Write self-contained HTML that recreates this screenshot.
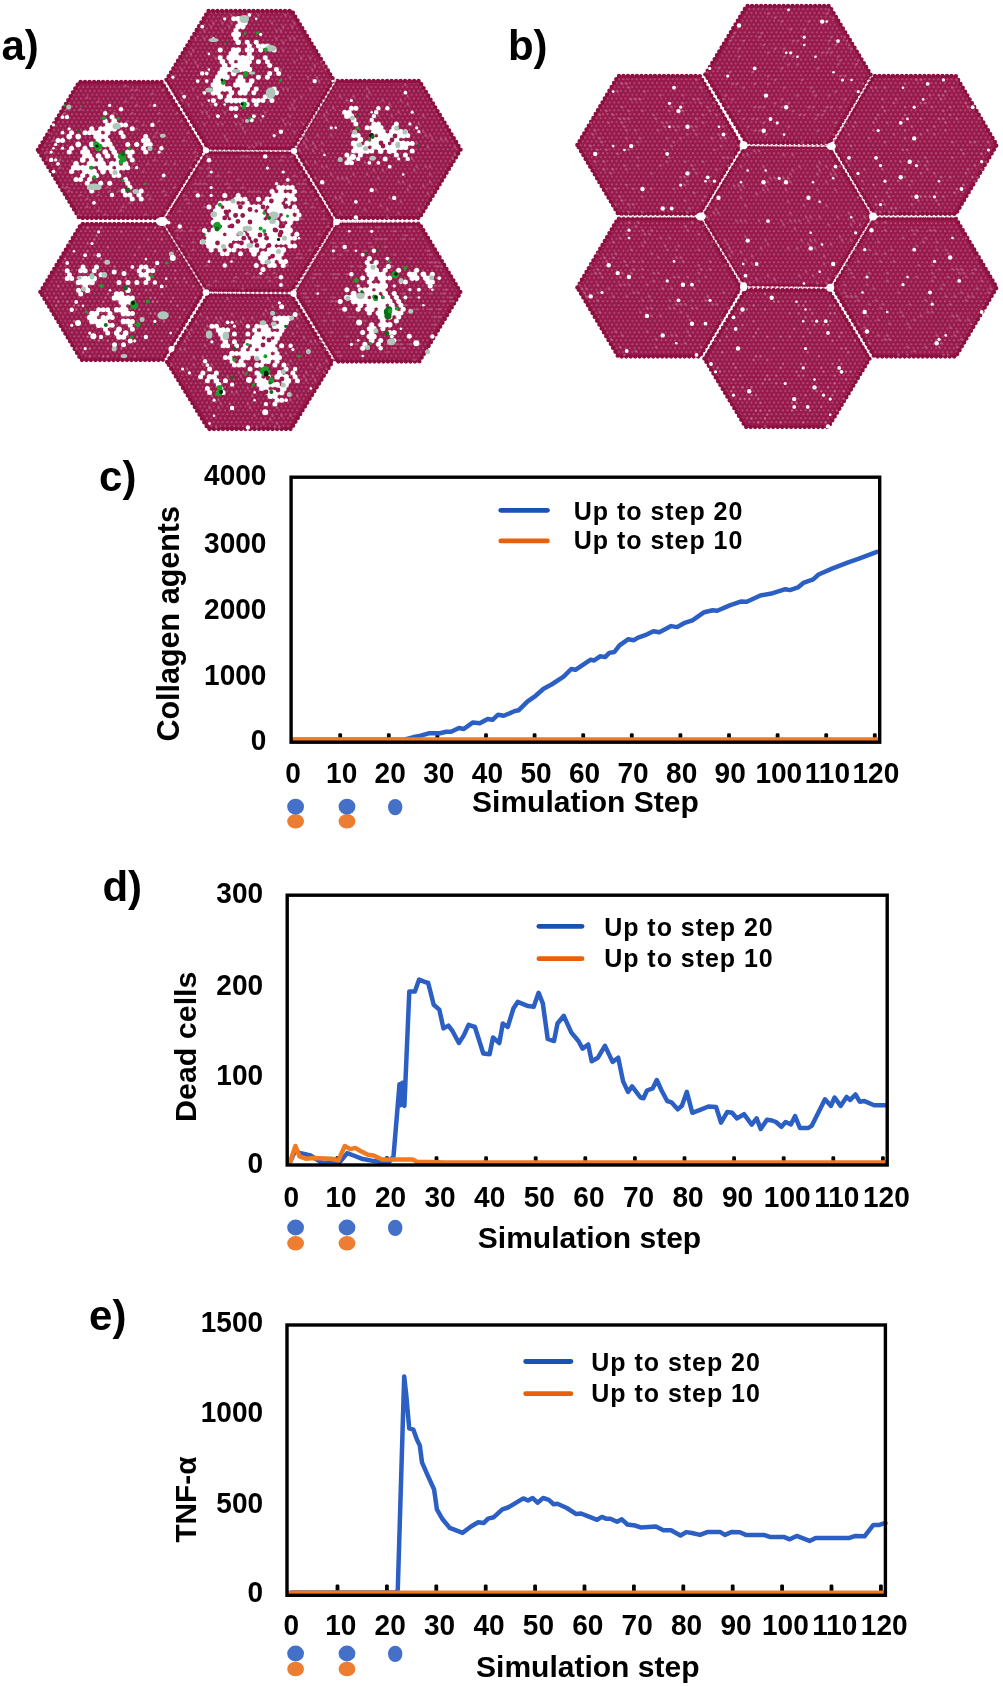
<!DOCTYPE html>
<html><head><meta charset="utf-8"><title>Figure</title>
<style>html,body{margin:0;padding:0;background:#fff;}svg{display:block;}svg{will-change:transform;}</style>
</head><body>
<svg width="1003" height="1686" viewBox="0 0 1003 1686">
<defs><pattern id="lat" width="4.5" height="7.794" patternUnits="userSpaceOnUse"><circle cx="2.25" cy="1.3" r="1" fill="#fff" fill-opacity="0.27"/><circle cx="0" cy="5.196" r="1" fill="#fff" fill-opacity="0.27"/><circle cx="4.5" cy="5.196" r="1" fill="#fff" fill-opacity="0.27"/></pattern></defs>
<rect width="100%" height="100%" fill="#fff"/>
<polygon points="164.1,221.7 206.6,152.5 291.4,152.5 333.9,221.7 291.4,290.9 206.6,290.9" fill="#98194c" stroke="#98194c" stroke-width="1.4" stroke-linejoin="round"/>
<polygon points="166.3,80 208.2,11 291.9,11 333.7,80 291.9,149 208.2,149" fill="#98194c" stroke="#98194c" stroke-width="1.4" stroke-linejoin="round"/>
<polygon points="167,362 208.3,295 291.1,295 332.4,362 291.1,429 208.3,429" fill="#98194c" stroke="#98194c" stroke-width="1.4" stroke-linejoin="round"/>
<polygon points="37.8,150 79.2,82 161.8,82 203.2,150 161.8,218 79.2,218" fill="#98194c" stroke="#98194c" stroke-width="1.4" stroke-linejoin="round"/>
<polygon points="40.3,292 81.2,224 162.8,224 203.7,292 162.8,360 81.2,360" fill="#98194c" stroke="#98194c" stroke-width="1.4" stroke-linejoin="round"/>
<polygon points="295.3,149.5 336.6,81 419.4,81 460.7,149.5 419.4,218 336.6,218" fill="#98194c" stroke="#98194c" stroke-width="1.4" stroke-linejoin="round"/>
<polygon points="295.3,292.5 336.6,223.5 419.4,223.5 460.7,292.5 419.4,361.5 336.6,361.5" fill="#98194c" stroke="#98194c" stroke-width="1.4" stroke-linejoin="round"/>
<polygon points="163.8,221.7 206.4,152.3 291.6,152.3 334.2,221.7 291.6,291.1 206.4,291.1" fill="url(#lat)"/>
<polygon points="166,80 208,10.8 292,10.8 334,80 292,149.2 208,149.2" fill="url(#lat)"/>
<polygon points="166.7,362 208.2,294.8 291.2,294.8 332.7,362 291.2,429.2 208.2,429.2" fill="url(#lat)"/>
<polygon points="37.5,150 79,81.8 162,81.8 203.5,150 162,218.2 79,218.2" fill="url(#lat)"/>
<polygon points="40,292 81,223.8 163,223.8 204,292 163,360.2 81,360.2" fill="url(#lat)"/>
<polygon points="295,149.5 336.5,80.8 419.5,80.8 461,149.5 419.5,218.2 336.5,218.2" fill="url(#lat)"/>
<polygon points="295,292.5 336.5,223.3 419.5,223.3 461,292.5 419.5,361.7 336.5,361.7" fill="url(#lat)"/>
<polygon points="164.1,221.7 206.6,152.5 291.4,152.5 333.9,221.7 291.4,290.9 206.6,290.9" fill="none" stroke="#8c0f40" stroke-width="4.3" stroke-dasharray="0 4.5" stroke-linecap="round"/>
<polygon points="166.3,80 208.2,11 291.9,11 333.7,80 291.9,149 208.2,149" fill="none" stroke="#8c0f40" stroke-width="4.3" stroke-dasharray="0 4.5" stroke-linecap="round"/>
<polygon points="167,362 208.3,295 291.1,295 332.4,362 291.1,429 208.3,429" fill="none" stroke="#8c0f40" stroke-width="4.3" stroke-dasharray="0 4.5" stroke-linecap="round"/>
<polygon points="37.8,150 79.2,82 161.8,82 203.2,150 161.8,218 79.2,218" fill="none" stroke="#8c0f40" stroke-width="4.3" stroke-dasharray="0 4.5" stroke-linecap="round"/>
<polygon points="40.3,292 81.2,224 162.8,224 203.7,292 162.8,360 81.2,360" fill="none" stroke="#8c0f40" stroke-width="4.3" stroke-dasharray="0 4.5" stroke-linecap="round"/>
<polygon points="295.3,149.5 336.6,81 419.4,81 460.7,149.5 419.4,218 336.6,218" fill="none" stroke="#8c0f40" stroke-width="4.3" stroke-dasharray="0 4.5" stroke-linecap="round"/>
<polygon points="295.3,292.5 336.6,223.5 419.4,223.5 460.7,292.5 419.4,361.5 336.6,361.5" fill="none" stroke="#8c0f40" stroke-width="4.3" stroke-dasharray="0 4.5" stroke-linecap="round"/>
<g fill="#fff" fill-opacity="0.22">
<circle cx="206.8" cy="156.4" r="1.3"/><circle cx="242.8" cy="156.4" r="1.3"/><circle cx="247.2" cy="156.4" r="1.3"/><circle cx="283.2" cy="156.4" r="1.3"/><circle cx="292.2" cy="156.4" r="1.3"/><circle cx="281" cy="160.3" r="1.3"/><circle cx="200" cy="168.1" r="1.3"/><circle cx="209" cy="168.1" r="1.3"/><circle cx="229.2" cy="172" r="1.3"/><circle cx="301.2" cy="172" r="1.3"/><circle cx="209" cy="175.9" r="1.3"/><circle cx="218" cy="175.9" r="1.3"/><circle cx="294.5" cy="175.9" r="1.3"/><circle cx="238.2" cy="179.8" r="1.3"/><circle cx="305.8" cy="179.8" r="1.3"/><circle cx="195.5" cy="183.7" r="1.3"/><circle cx="200" cy="183.7" r="1.3"/><circle cx="204.5" cy="183.7" r="1.3"/><circle cx="227" cy="183.7" r="1.3"/><circle cx="285.5" cy="183.7" r="1.3"/><circle cx="299" cy="183.7" r="1.3"/><circle cx="303.5" cy="183.7" r="1.3"/><circle cx="229.2" cy="187.6" r="1.3"/><circle cx="242.8" cy="187.6" r="1.3"/><circle cx="195.5" cy="191.5" r="1.3"/><circle cx="249.5" cy="191.5" r="1.3"/><circle cx="254" cy="191.5" r="1.3"/><circle cx="258.5" cy="191.5" r="1.3"/><circle cx="303.5" cy="191.5" r="1.3"/><circle cx="312.5" cy="191.5" r="1.3"/><circle cx="184.2" cy="195.4" r="1.3"/><circle cx="202.2" cy="195.4" r="1.3"/><circle cx="186.5" cy="199.3" r="1.3"/><circle cx="317" cy="199.3" r="1.3"/><circle cx="188.8" cy="203.2" r="1.3"/><circle cx="305.8" cy="203.2" r="1.3"/><circle cx="204.5" cy="207.1" r="1.3"/><circle cx="312.5" cy="207.1" r="1.3"/><circle cx="179.8" cy="211" r="1.3"/><circle cx="323.8" cy="211" r="1.3"/><circle cx="168.5" cy="214.9" r="1.3"/><circle cx="301.2" cy="218.7" r="1.3"/><circle cx="323.8" cy="218.7" r="1.3"/><circle cx="328.2" cy="226.5" r="1.3"/><circle cx="177.5" cy="230.4" r="1.3"/><circle cx="182" cy="230.4" r="1.3"/><circle cx="191" cy="230.4" r="1.3"/><circle cx="200" cy="230.4" r="1.3"/><circle cx="319.2" cy="234.3" r="1.3"/><circle cx="177.5" cy="238.2" r="1.3"/><circle cx="193.2" cy="242.1" r="1.3"/><circle cx="182" cy="246" r="1.3"/><circle cx="317" cy="246" r="1.3"/><circle cx="193.2" cy="249.9" r="1.3"/><circle cx="310.2" cy="249.9" r="1.3"/><circle cx="299" cy="253.8" r="1.3"/><circle cx="188.8" cy="257.7" r="1.3"/><circle cx="233.8" cy="257.7" r="1.3"/><circle cx="296.8" cy="257.7" r="1.3"/><circle cx="301.2" cy="257.7" r="1.3"/><circle cx="206.8" cy="265.5" r="1.3"/><circle cx="287.8" cy="265.5" r="1.3"/><circle cx="247.2" cy="273.3" r="1.3"/><circle cx="274.2" cy="273.3" r="1.3"/><circle cx="236" cy="277.2" r="1.3"/><circle cx="254" cy="277.2" r="1.3"/><circle cx="258.5" cy="277.2" r="1.3"/><circle cx="267.5" cy="277.2" r="1.3"/><circle cx="276.5" cy="277.2" r="1.3"/><circle cx="215.8" cy="281.1" r="1.3"/><circle cx="233.8" cy="281.1" r="1.3"/><circle cx="269.8" cy="281.1" r="1.3"/><circle cx="296.8" cy="281.1" r="1.3"/><circle cx="209" cy="285" r="1.3"/><circle cx="242.8" cy="288.9" r="1.3"/><circle cx="231.4" cy="14.9" r="1.3"/><circle cx="258.4" cy="14.9" r="1.3"/><circle cx="285.4" cy="14.9" r="1.3"/><circle cx="213.4" cy="22.7" r="1.3"/><circle cx="222.4" cy="22.7" r="1.3"/><circle cx="231.4" cy="22.7" r="1.3"/><circle cx="271.9" cy="22.7" r="1.3"/><circle cx="294.4" cy="22.7" r="1.3"/><circle cx="211.2" cy="26.6" r="1.3"/><circle cx="229.2" cy="26.6" r="1.3"/><circle cx="283.2" cy="26.6" r="1.3"/><circle cx="292.2" cy="26.6" r="1.3"/><circle cx="204.4" cy="30.5" r="1.3"/><circle cx="222.4" cy="30.5" r="1.3"/><circle cx="276.4" cy="30.5" r="1.3"/><circle cx="280.9" cy="30.5" r="1.3"/><circle cx="195.4" cy="38.3" r="1.3"/><circle cx="204.4" cy="38.3" r="1.3"/><circle cx="276.4" cy="38.3" r="1.3"/><circle cx="289.9" cy="38.3" r="1.3"/><circle cx="294.4" cy="38.3" r="1.3"/><circle cx="283.2" cy="42.2" r="1.3"/><circle cx="193.2" cy="50" r="1.3"/><circle cx="283.2" cy="50" r="1.3"/><circle cx="296.7" cy="50" r="1.3"/><circle cx="190.9" cy="53.9" r="1.3"/><circle cx="215.7" cy="57.8" r="1.3"/><circle cx="301.2" cy="57.8" r="1.3"/><circle cx="310.2" cy="57.8" r="1.3"/><circle cx="186.4" cy="61.7" r="1.3"/><circle cx="195.4" cy="61.7" r="1.3"/><circle cx="294.4" cy="61.7" r="1.3"/><circle cx="321.4" cy="61.7" r="1.3"/><circle cx="197.7" cy="65.6" r="1.3"/><circle cx="314.7" cy="65.6" r="1.3"/><circle cx="323.7" cy="65.6" r="1.3"/><circle cx="181.9" cy="69.5" r="1.3"/><circle cx="280.9" cy="69.5" r="1.3"/><circle cx="312.4" cy="69.5" r="1.3"/><circle cx="325.9" cy="69.5" r="1.3"/><circle cx="289.9" cy="77.2" r="1.3"/><circle cx="307.9" cy="77.2" r="1.3"/><circle cx="316.9" cy="77.2" r="1.3"/><circle cx="319.2" cy="81.1" r="1.3"/><circle cx="193.2" cy="88.9" r="1.3"/><circle cx="283.2" cy="88.9" r="1.3"/><circle cx="287.7" cy="88.9" r="1.3"/><circle cx="310.2" cy="88.9" r="1.3"/><circle cx="181.9" cy="92.8" r="1.3"/><circle cx="197.7" cy="96.7" r="1.3"/><circle cx="301.2" cy="96.7" r="1.3"/><circle cx="181.9" cy="100.6" r="1.3"/><circle cx="294.4" cy="100.6" r="1.3"/><circle cx="188.7" cy="104.5" r="1.3"/><circle cx="202.2" cy="104.5" r="1.3"/><circle cx="211.2" cy="104.5" r="1.3"/><circle cx="292.2" cy="104.5" r="1.3"/><circle cx="289.9" cy="108.4" r="1.3"/><circle cx="294.4" cy="108.4" r="1.3"/><circle cx="202.2" cy="112.3" r="1.3"/><circle cx="206.7" cy="112.3" r="1.3"/><circle cx="224.7" cy="112.3" r="1.3"/><circle cx="265.2" cy="112.3" r="1.3"/><circle cx="208.9" cy="116.2" r="1.3"/><circle cx="289.9" cy="116.2" r="1.3"/><circle cx="242.7" cy="120.1" r="1.3"/><circle cx="260.7" cy="120.1" r="1.3"/><circle cx="283.2" cy="120.1" r="1.3"/><circle cx="204.4" cy="124" r="1.3"/><circle cx="217.9" cy="124" r="1.3"/><circle cx="222.4" cy="124" r="1.3"/><circle cx="235.9" cy="124" r="1.3"/><circle cx="240.4" cy="124" r="1.3"/><circle cx="285.4" cy="124" r="1.3"/><circle cx="289.9" cy="124" r="1.3"/><circle cx="303.4" cy="124" r="1.3"/><circle cx="242.7" cy="127.9" r="1.3"/><circle cx="244.9" cy="131.8" r="1.3"/><circle cx="294.4" cy="131.8" r="1.3"/><circle cx="224.7" cy="135.7" r="1.3"/><circle cx="226.9" cy="139.6" r="1.3"/><circle cx="256.2" cy="143.5" r="1.3"/><circle cx="260.7" cy="143.5" r="1.3"/><circle cx="249.4" cy="147.4" r="1.3"/><circle cx="253.9" cy="147.4" r="1.3"/><circle cx="227.6" cy="298.9" r="1.3"/><circle cx="268.1" cy="298.9" r="1.3"/><circle cx="272.6" cy="306.7" r="1.3"/><circle cx="265.9" cy="310.6" r="1.3"/><circle cx="297.4" cy="310.6" r="1.3"/><circle cx="200.6" cy="314.5" r="1.3"/><circle cx="232.1" cy="314.5" r="1.3"/><circle cx="263.6" cy="314.5" r="1.3"/><circle cx="299.6" cy="314.5" r="1.3"/><circle cx="207.4" cy="318.4" r="1.3"/><circle cx="216.4" cy="318.4" r="1.3"/><circle cx="220.9" cy="318.4" r="1.3"/><circle cx="243.4" cy="318.4" r="1.3"/><circle cx="252.4" cy="318.4" r="1.3"/><circle cx="297.4" cy="318.4" r="1.3"/><circle cx="196.1" cy="322.3" r="1.3"/><circle cx="218.6" cy="322.3" r="1.3"/><circle cx="236.6" cy="322.3" r="1.3"/><circle cx="241.1" cy="322.3" r="1.3"/><circle cx="207.4" cy="326.2" r="1.3"/><circle cx="297.4" cy="326.2" r="1.3"/><circle cx="187.1" cy="330.1" r="1.3"/><circle cx="191.6" cy="330.1" r="1.3"/><circle cx="205.1" cy="330.1" r="1.3"/><circle cx="189.4" cy="334" r="1.3"/><circle cx="207.4" cy="334" r="1.3"/><circle cx="292.9" cy="334" r="1.3"/><circle cx="187.1" cy="337.9" r="1.3"/><circle cx="304.1" cy="337.9" r="1.3"/><circle cx="184.9" cy="341.8" r="1.3"/><circle cx="310.9" cy="341.8" r="1.3"/><circle cx="315.4" cy="341.8" r="1.3"/><circle cx="319.9" cy="341.8" r="1.3"/><circle cx="205.1" cy="345.7" r="1.3"/><circle cx="180.4" cy="349.6" r="1.3"/><circle cx="184.9" cy="349.6" r="1.3"/><circle cx="324.4" cy="349.6" r="1.3"/><circle cx="286.1" cy="353.5" r="1.3"/><circle cx="308.6" cy="353.5" r="1.3"/><circle cx="193.9" cy="357.4" r="1.3"/><circle cx="202.9" cy="357.4" r="1.3"/><circle cx="290.6" cy="361.2" r="1.3"/><circle cx="326.6" cy="361.2" r="1.3"/><circle cx="171.4" cy="365.1" r="1.3"/><circle cx="193.9" cy="365.1" r="1.3"/><circle cx="202.9" cy="365.1" r="1.3"/><circle cx="211.9" cy="365.1" r="1.3"/><circle cx="288.4" cy="365.1" r="1.3"/><circle cx="310.9" cy="365.1" r="1.3"/><circle cx="319.9" cy="365.1" r="1.3"/><circle cx="187.1" cy="369" r="1.3"/><circle cx="317.6" cy="369" r="1.3"/><circle cx="326.6" cy="369" r="1.3"/><circle cx="238.9" cy="372.9" r="1.3"/><circle cx="243.4" cy="372.9" r="1.3"/><circle cx="306.4" cy="372.9" r="1.3"/><circle cx="324.4" cy="372.9" r="1.3"/><circle cx="227.6" cy="376.8" r="1.3"/><circle cx="241.1" cy="376.8" r="1.3"/><circle cx="304.1" cy="376.8" r="1.3"/><circle cx="313.1" cy="376.8" r="1.3"/><circle cx="247.9" cy="380.7" r="1.3"/><circle cx="306.4" cy="380.7" r="1.3"/><circle cx="315.4" cy="380.7" r="1.3"/><circle cx="247.9" cy="388.5" r="1.3"/><circle cx="232.1" cy="392.4" r="1.3"/><circle cx="236.6" cy="392.4" r="1.3"/><circle cx="211.9" cy="396.3" r="1.3"/><circle cx="252.4" cy="396.3" r="1.3"/><circle cx="297.4" cy="396.3" r="1.3"/><circle cx="218.6" cy="400.2" r="1.3"/><circle cx="290.6" cy="400.2" r="1.3"/><circle cx="220.9" cy="404.1" r="1.3"/><circle cx="229.9" cy="404.1" r="1.3"/><circle cx="247.9" cy="404.1" r="1.3"/><circle cx="209.6" cy="408" r="1.3"/><circle cx="218.6" cy="408" r="1.3"/><circle cx="250.1" cy="408" r="1.3"/><circle cx="277.1" cy="408" r="1.3"/><circle cx="254.6" cy="415.8" r="1.3"/><circle cx="272.6" cy="415.8" r="1.3"/><circle cx="281.6" cy="415.8" r="1.3"/><circle cx="290.6" cy="415.8" r="1.3"/><circle cx="270.4" cy="419.7" r="1.3"/><circle cx="263.6" cy="423.6" r="1.3"/><circle cx="277.1" cy="423.6" r="1.3"/><circle cx="216.4" cy="427.5" r="1.3"/><circle cx="256.9" cy="427.5" r="1.3"/><circle cx="274.9" cy="427.5" r="1.3"/><circle cx="279.4" cy="427.5" r="1.3"/><circle cx="125.5" cy="85.9" r="1.3"/><circle cx="132.2" cy="89.8" r="1.3"/><circle cx="136.7" cy="89.8" r="1.3"/><circle cx="163.7" cy="89.8" r="1.3"/><circle cx="152.4" cy="93.7" r="1.3"/><circle cx="87.2" cy="97.6" r="1.3"/><circle cx="132.2" cy="97.6" r="1.3"/><circle cx="98.5" cy="101.5" r="1.3"/><circle cx="125.5" cy="101.5" r="1.3"/><circle cx="136.7" cy="105.4" r="1.3"/><circle cx="150.2" cy="105.4" r="1.3"/><circle cx="67" cy="109.3" r="1.3"/><circle cx="80.5" cy="109.3" r="1.3"/><circle cx="64.7" cy="113.2" r="1.3"/><circle cx="114.2" cy="113.2" r="1.3"/><circle cx="132.2" cy="113.2" r="1.3"/><circle cx="159.2" cy="113.2" r="1.3"/><circle cx="177.2" cy="113.2" r="1.3"/><circle cx="127.7" cy="121" r="1.3"/><circle cx="136.7" cy="121" r="1.3"/><circle cx="159.2" cy="121" r="1.3"/><circle cx="181.7" cy="121" r="1.3"/><circle cx="143.4" cy="124.9" r="1.3"/><circle cx="136.7" cy="128.8" r="1.3"/><circle cx="49" cy="132.7" r="1.3"/><circle cx="156.9" cy="132.7" r="1.3"/><circle cx="188.4" cy="132.7" r="1.3"/><circle cx="154.7" cy="136.6" r="1.3"/><circle cx="53.5" cy="140.5" r="1.3"/><circle cx="183.9" cy="140.5" r="1.3"/><circle cx="46.7" cy="152.1" r="1.3"/><circle cx="195.2" cy="152.1" r="1.3"/><circle cx="197.4" cy="156" r="1.3"/><circle cx="46.7" cy="159.9" r="1.3"/><circle cx="60.2" cy="159.9" r="1.3"/><circle cx="154.7" cy="159.9" r="1.3"/><circle cx="195.2" cy="159.9" r="1.3"/><circle cx="134.4" cy="163.8" r="1.3"/><circle cx="147.9" cy="163.8" r="1.3"/><circle cx="165.9" cy="163.8" r="1.3"/><circle cx="174.9" cy="163.8" r="1.3"/><circle cx="60.2" cy="167.7" r="1.3"/><circle cx="132.2" cy="167.7" r="1.3"/><circle cx="190.7" cy="167.7" r="1.3"/><circle cx="143.4" cy="171.6" r="1.3"/><circle cx="161.4" cy="179.4" r="1.3"/><circle cx="62.5" cy="187.2" r="1.3"/><circle cx="67" cy="187.2" r="1.3"/><circle cx="107.5" cy="187.2" r="1.3"/><circle cx="174.9" cy="187.2" r="1.3"/><circle cx="69.2" cy="191.1" r="1.3"/><circle cx="109.7" cy="191.1" r="1.3"/><circle cx="118.7" cy="191.1" r="1.3"/><circle cx="163.7" cy="191.1" r="1.3"/><circle cx="80.5" cy="195" r="1.3"/><circle cx="98.5" cy="195" r="1.3"/><circle cx="147.9" cy="195" r="1.3"/><circle cx="165.9" cy="195" r="1.3"/><circle cx="87.2" cy="198.9" r="1.3"/><circle cx="150.2" cy="198.9" r="1.3"/><circle cx="129.9" cy="202.8" r="1.3"/><circle cx="87.2" cy="206.7" r="1.3"/><circle cx="123.2" cy="206.7" r="1.3"/><circle cx="98.5" cy="210.6" r="1.3"/><circle cx="121" cy="210.6" r="1.3"/><circle cx="165.9" cy="210.6" r="1.3"/><circle cx="78.2" cy="214.5" r="1.3"/><circle cx="105.2" cy="214.5" r="1.3"/><circle cx="145.7" cy="214.5" r="1.3"/><circle cx="87.5" cy="227.9" r="1.3"/><circle cx="101" cy="227.9" r="1.3"/><circle cx="145.9" cy="227.9" r="1.3"/><circle cx="154.9" cy="227.9" r="1.3"/><circle cx="121.2" cy="231.8" r="1.3"/><circle cx="161.7" cy="231.8" r="1.3"/><circle cx="96.5" cy="235.7" r="1.3"/><circle cx="94.2" cy="239.6" r="1.3"/><circle cx="148.2" cy="239.6" r="1.3"/><circle cx="161.7" cy="239.6" r="1.3"/><circle cx="69.5" cy="243.5" r="1.3"/><circle cx="87.5" cy="243.5" r="1.3"/><circle cx="107.7" cy="247.4" r="1.3"/><circle cx="139.2" cy="247.4" r="1.3"/><circle cx="87.5" cy="251.3" r="1.3"/><circle cx="154.9" cy="251.3" r="1.3"/><circle cx="177.4" cy="251.3" r="1.3"/><circle cx="94.2" cy="255.2" r="1.3"/><circle cx="134.7" cy="255.2" r="1.3"/><circle cx="179.7" cy="255.2" r="1.3"/><circle cx="65" cy="259.1" r="1.3"/><circle cx="83" cy="259.1" r="1.3"/><circle cx="101" cy="259.1" r="1.3"/><circle cx="166.2" cy="263" r="1.3"/><circle cx="114.5" cy="266.9" r="1.3"/><circle cx="154.9" cy="266.9" r="1.3"/><circle cx="175.2" cy="270.8" r="1.3"/><circle cx="125.7" cy="278.6" r="1.3"/><circle cx="175.2" cy="278.6" r="1.3"/><circle cx="184.2" cy="278.6" r="1.3"/><circle cx="177.4" cy="282.5" r="1.3"/><circle cx="186.4" cy="282.5" r="1.3"/><circle cx="58.2" cy="286.4" r="1.3"/><circle cx="166.2" cy="286.4" r="1.3"/><circle cx="193.2" cy="286.4" r="1.3"/><circle cx="145.9" cy="290.2" r="1.3"/><circle cx="150.4" cy="290.2" r="1.3"/><circle cx="62.7" cy="294.1" r="1.3"/><circle cx="107.7" cy="294.1" r="1.3"/><circle cx="139.2" cy="294.1" r="1.3"/><circle cx="161.7" cy="294.1" r="1.3"/><circle cx="47" cy="298" r="1.3"/><circle cx="56" cy="298" r="1.3"/><circle cx="105.5" cy="298" r="1.3"/><circle cx="150.4" cy="298" r="1.3"/><circle cx="154.9" cy="298" r="1.3"/><circle cx="172.9" cy="298" r="1.3"/><circle cx="195.4" cy="298" r="1.3"/><circle cx="58.2" cy="301.9" r="1.3"/><circle cx="67.2" cy="301.9" r="1.3"/><circle cx="103.2" cy="301.9" r="1.3"/><circle cx="152.7" cy="301.9" r="1.3"/><circle cx="157.2" cy="301.9" r="1.3"/><circle cx="170.7" cy="301.9" r="1.3"/><circle cx="56" cy="305.8" r="1.3"/><circle cx="74" cy="305.8" r="1.3"/><circle cx="78.5" cy="305.8" r="1.3"/><circle cx="177.4" cy="305.8" r="1.3"/><circle cx="76.2" cy="309.7" r="1.3"/><circle cx="139.2" cy="309.7" r="1.3"/><circle cx="148.2" cy="309.7" r="1.3"/><circle cx="184.2" cy="309.7" r="1.3"/><circle cx="150.4" cy="313.6" r="1.3"/><circle cx="154.9" cy="313.6" r="1.3"/><circle cx="163.9" cy="313.6" r="1.3"/><circle cx="179.7" cy="317.5" r="1.3"/><circle cx="74" cy="321.4" r="1.3"/><circle cx="163.9" cy="321.4" r="1.3"/><circle cx="145.9" cy="329.2" r="1.3"/><circle cx="177.4" cy="329.2" r="1.3"/><circle cx="87.5" cy="337" r="1.3"/><circle cx="136.9" cy="337" r="1.3"/><circle cx="98.7" cy="340.9" r="1.3"/><circle cx="107.7" cy="340.9" r="1.3"/><circle cx="161.7" cy="340.9" r="1.3"/><circle cx="76.2" cy="348.7" r="1.3"/><circle cx="89.7" cy="348.7" r="1.3"/><circle cx="107.7" cy="348.7" r="1.3"/><circle cx="121.2" cy="348.7" r="1.3"/><circle cx="134.7" cy="348.7" r="1.3"/><circle cx="143.7" cy="348.7" r="1.3"/><circle cx="83" cy="352.6" r="1.3"/><circle cx="89.7" cy="356.5" r="1.3"/><circle cx="103.2" cy="356.5" r="1.3"/><circle cx="107.7" cy="356.5" r="1.3"/><circle cx="134.7" cy="356.5" r="1.3"/><circle cx="405.4" cy="84.9" r="1.3"/><circle cx="367.2" cy="88.8" r="1.3"/><circle cx="369.4" cy="92.7" r="1.3"/><circle cx="340.2" cy="96.6" r="1.3"/><circle cx="353.7" cy="96.6" r="1.3"/><circle cx="367.2" cy="96.6" r="1.3"/><circle cx="407.7" cy="96.6" r="1.3"/><circle cx="346.9" cy="100.5" r="1.3"/><circle cx="382.9" cy="100.5" r="1.3"/><circle cx="400.9" cy="100.5" r="1.3"/><circle cx="389.7" cy="104.4" r="1.3"/><circle cx="407.7" cy="104.4" r="1.3"/><circle cx="333.4" cy="108.3" r="1.3"/><circle cx="326.7" cy="112.2" r="1.3"/><circle cx="398.7" cy="112.2" r="1.3"/><circle cx="324.4" cy="116.1" r="1.3"/><circle cx="378.4" cy="116.1" r="1.3"/><circle cx="391.9" cy="116.1" r="1.3"/><circle cx="423.4" cy="116.1" r="1.3"/><circle cx="326.7" cy="120" r="1.3"/><circle cx="418.9" cy="123.9" r="1.3"/><circle cx="358.2" cy="127.8" r="1.3"/><circle cx="351.4" cy="131.7" r="1.3"/><circle cx="423.4" cy="131.7" r="1.3"/><circle cx="304.2" cy="135.6" r="1.3"/><circle cx="317.7" cy="135.6" r="1.3"/><circle cx="331.2" cy="135.6" r="1.3"/><circle cx="425.7" cy="135.6" r="1.3"/><circle cx="430.2" cy="135.6" r="1.3"/><circle cx="306.4" cy="139.5" r="1.3"/><circle cx="432.4" cy="139.5" r="1.3"/><circle cx="441.4" cy="139.5" r="1.3"/><circle cx="445.9" cy="139.5" r="1.3"/><circle cx="304.2" cy="143.4" r="1.3"/><circle cx="313.2" cy="143.4" r="1.3"/><circle cx="322.2" cy="143.4" r="1.3"/><circle cx="416.7" cy="143.4" r="1.3"/><circle cx="306.4" cy="147.2" r="1.3"/><circle cx="315.4" cy="147.2" r="1.3"/><circle cx="427.9" cy="147.2" r="1.3"/><circle cx="454.9" cy="147.2" r="1.3"/><circle cx="299.7" cy="151.1" r="1.3"/><circle cx="313.2" cy="151.1" r="1.3"/><circle cx="322.2" cy="151.1" r="1.3"/><circle cx="351.4" cy="155" r="1.3"/><circle cx="454.9" cy="155" r="1.3"/><circle cx="412.2" cy="158.9" r="1.3"/><circle cx="452.7" cy="158.9" r="1.3"/><circle cx="306.4" cy="162.8" r="1.3"/><circle cx="315.4" cy="162.8" r="1.3"/><circle cx="364.9" cy="162.8" r="1.3"/><circle cx="322.2" cy="166.7" r="1.3"/><circle cx="326.7" cy="166.7" r="1.3"/><circle cx="416.7" cy="166.7" r="1.3"/><circle cx="425.7" cy="166.7" r="1.3"/><circle cx="430.2" cy="166.7" r="1.3"/><circle cx="373.9" cy="170.6" r="1.3"/><circle cx="382.9" cy="170.6" r="1.3"/><circle cx="414.4" cy="170.6" r="1.3"/><circle cx="331.2" cy="174.5" r="1.3"/><circle cx="353.7" cy="174.5" r="1.3"/><circle cx="367.2" cy="174.5" r="1.3"/><circle cx="430.2" cy="174.5" r="1.3"/><circle cx="315.4" cy="178.4" r="1.3"/><circle cx="337.9" cy="178.4" r="1.3"/><circle cx="342.4" cy="178.4" r="1.3"/><circle cx="346.9" cy="178.4" r="1.3"/><circle cx="378.4" cy="178.4" r="1.3"/><circle cx="349.2" cy="182.3" r="1.3"/><circle cx="398.7" cy="182.3" r="1.3"/><circle cx="403.2" cy="182.3" r="1.3"/><circle cx="430.2" cy="182.3" r="1.3"/><circle cx="409.9" cy="186.2" r="1.3"/><circle cx="423.4" cy="186.2" r="1.3"/><circle cx="376.2" cy="190.1" r="1.3"/><circle cx="407.7" cy="190.1" r="1.3"/><circle cx="342.4" cy="194" r="1.3"/><circle cx="427.9" cy="194" r="1.3"/><circle cx="335.7" cy="197.9" r="1.3"/><circle cx="340.2" cy="197.9" r="1.3"/><circle cx="389.7" cy="197.9" r="1.3"/><circle cx="342.4" cy="201.8" r="1.3"/><circle cx="369.4" cy="201.8" r="1.3"/><circle cx="400.9" cy="201.8" r="1.3"/><circle cx="380.7" cy="205.7" r="1.3"/><circle cx="364.9" cy="209.6" r="1.3"/><circle cx="387.4" cy="209.6" r="1.3"/><circle cx="418.9" cy="209.6" r="1.3"/><circle cx="340.2" cy="213.5" r="1.3"/><circle cx="398.7" cy="213.5" r="1.3"/><circle cx="387.4" cy="217.4" r="1.3"/><circle cx="360.4" cy="227.4" r="1.3"/><circle cx="378.4" cy="227.4" r="1.3"/><circle cx="409.9" cy="227.4" r="1.3"/><circle cx="394.2" cy="231.3" r="1.3"/><circle cx="405.4" cy="235.2" r="1.3"/><circle cx="376.2" cy="239.1" r="1.3"/><circle cx="380.7" cy="239.1" r="1.3"/><circle cx="385.2" cy="239.1" r="1.3"/><circle cx="403.2" cy="239.1" r="1.3"/><circle cx="412.2" cy="239.1" r="1.3"/><circle cx="333.4" cy="243" r="1.3"/><circle cx="342.4" cy="243" r="1.3"/><circle cx="355.9" cy="243" r="1.3"/><circle cx="369.4" cy="243" r="1.3"/><circle cx="335.7" cy="246.9" r="1.3"/><circle cx="371.7" cy="246.9" r="1.3"/><circle cx="385.2" cy="246.9" r="1.3"/><circle cx="346.9" cy="250.8" r="1.3"/><circle cx="364.9" cy="250.8" r="1.3"/><circle cx="427.9" cy="250.8" r="1.3"/><circle cx="322.2" cy="254.7" r="1.3"/><circle cx="340.2" cy="254.7" r="1.3"/><circle cx="394.2" cy="254.7" r="1.3"/><circle cx="430.2" cy="254.7" r="1.3"/><circle cx="333.4" cy="258.6" r="1.3"/><circle cx="409.9" cy="258.6" r="1.3"/><circle cx="389.7" cy="262.5" r="1.3"/><circle cx="430.2" cy="262.5" r="1.3"/><circle cx="434.7" cy="262.5" r="1.3"/><circle cx="439.2" cy="262.5" r="1.3"/><circle cx="351.4" cy="266.4" r="1.3"/><circle cx="360.4" cy="266.4" r="1.3"/><circle cx="391.9" cy="266.4" r="1.3"/><circle cx="436.9" cy="266.4" r="1.3"/><circle cx="441.4" cy="266.4" r="1.3"/><circle cx="315.4" cy="274.2" r="1.3"/><circle cx="319.9" cy="274.2" r="1.3"/><circle cx="333.4" cy="274.2" r="1.3"/><circle cx="337.9" cy="274.2" r="1.3"/><circle cx="346.9" cy="274.2" r="1.3"/><circle cx="396.4" cy="274.2" r="1.3"/><circle cx="313.2" cy="278.1" r="1.3"/><circle cx="335.7" cy="278.1" r="1.3"/><circle cx="317.7" cy="285.9" r="1.3"/><circle cx="434.7" cy="285.9" r="1.3"/><circle cx="439.2" cy="285.9" r="1.3"/><circle cx="324.4" cy="289.7" r="1.3"/><circle cx="445.9" cy="289.7" r="1.3"/><circle cx="304.2" cy="293.6" r="1.3"/><circle cx="403.2" cy="293.6" r="1.3"/><circle cx="430.2" cy="293.6" r="1.3"/><circle cx="443.7" cy="293.6" r="1.3"/><circle cx="306.4" cy="297.5" r="1.3"/><circle cx="333.4" cy="297.5" r="1.3"/><circle cx="409.9" cy="297.5" r="1.3"/><circle cx="450.4" cy="297.5" r="1.3"/><circle cx="308.7" cy="301.4" r="1.3"/><circle cx="331.2" cy="301.4" r="1.3"/><circle cx="335.7" cy="301.4" r="1.3"/><circle cx="443.7" cy="301.4" r="1.3"/><circle cx="452.7" cy="301.4" r="1.3"/><circle cx="405.4" cy="305.3" r="1.3"/><circle cx="340.2" cy="309.2" r="1.3"/><circle cx="416.7" cy="309.2" r="1.3"/><circle cx="430.2" cy="309.2" r="1.3"/><circle cx="439.2" cy="309.2" r="1.3"/><circle cx="328.9" cy="313.1" r="1.3"/><circle cx="349.2" cy="317" r="1.3"/><circle cx="353.7" cy="317" r="1.3"/><circle cx="434.7" cy="317" r="1.3"/><circle cx="439.2" cy="317" r="1.3"/><circle cx="324.4" cy="320.9" r="1.3"/><circle cx="333.4" cy="320.9" r="1.3"/><circle cx="364.9" cy="320.9" r="1.3"/><circle cx="434.7" cy="324.8" r="1.3"/><circle cx="331.2" cy="332.6" r="1.3"/><circle cx="346.9" cy="336.5" r="1.3"/><circle cx="398.7" cy="340.4" r="1.3"/><circle cx="355.9" cy="344.3" r="1.3"/><circle cx="387.4" cy="344.3" r="1.3"/><circle cx="396.4" cy="344.3" r="1.3"/><circle cx="400.9" cy="344.3" r="1.3"/><circle cx="409.9" cy="344.3" r="1.3"/><circle cx="418.9" cy="344.3" r="1.3"/><circle cx="394.2" cy="348.2" r="1.3"/><circle cx="403.2" cy="348.2" r="1.3"/><circle cx="337.9" cy="352.1" r="1.3"/><circle cx="387.4" cy="352.1" r="1.3"/><circle cx="340.2" cy="356" r="1.3"/><circle cx="414.4" cy="359.9" r="1.3"/>
</g>
<g fill="#fff">
<circle cx="265.2" cy="156.4" r="2.2"/><circle cx="209" cy="160.3" r="2.2"/><circle cx="267.5" cy="168.1" r="1.6"/><circle cx="211.2" cy="172" r="1.6"/><circle cx="283.2" cy="172" r="1.6"/><circle cx="287.8" cy="179.8" r="1.9"/><circle cx="276.5" cy="183.7" r="1.6"/><circle cx="211.2" cy="187.6" r="1.6"/><circle cx="278.8" cy="187.6" r="2.5"/><circle cx="283.2" cy="187.6" r="2.5"/><circle cx="287.8" cy="187.6" r="2.5"/><circle cx="292.2" cy="187.6" r="2.5"/><circle cx="272" cy="191.5" r="2.5"/><circle cx="281" cy="191.5" r="2.8"/><circle cx="294.5" cy="191.5" r="2.5"/><circle cx="197.8" cy="195.4" r="2.2"/><circle cx="211.2" cy="195.4" r="1.6"/><circle cx="224.8" cy="195.4" r="2.5"/><circle cx="238.2" cy="195.4" r="2.5"/><circle cx="274.2" cy="195.4" r="2.8"/><circle cx="278.8" cy="195.4" r="2.8"/><circle cx="283.2" cy="195.4" r="2.8"/><circle cx="287.8" cy="195.4" r="2.8"/><circle cx="292.2" cy="195.4" r="2.5"/><circle cx="236" cy="199.3" r="2.5"/><circle cx="240.5" cy="199.3" r="2.5"/><circle cx="245" cy="199.3" r="2.5"/><circle cx="258.5" cy="199.3" r="2.5"/><circle cx="267.5" cy="199.3" r="2.8"/><circle cx="272" cy="199.3" r="2.8"/><circle cx="276.5" cy="199.3" r="2.8"/><circle cx="281" cy="199.3" r="2.8"/><circle cx="290" cy="199.3" r="2.5"/><circle cx="294.5" cy="199.3" r="2.5"/><circle cx="220.2" cy="203.2" r="2.5"/><circle cx="224.8" cy="203.2" r="2.8"/><circle cx="229.2" cy="203.2" r="2.8"/><circle cx="233.8" cy="203.2" r="2.8"/><circle cx="247.2" cy="203.2" r="2.5"/><circle cx="265.2" cy="203.2" r="2.8"/><circle cx="269.8" cy="203.2" r="2.8"/><circle cx="274.2" cy="203.2" r="2.8"/><circle cx="278.8" cy="203.2" r="2.8"/><circle cx="287.8" cy="203.2" r="2.8"/><circle cx="209" cy="207.1" r="2.5"/><circle cx="218" cy="207.1" r="2.8"/><circle cx="227" cy="207.1" r="2.8"/><circle cx="231.5" cy="207.1" r="2.8"/><circle cx="236" cy="207.1" r="2.8"/><circle cx="240.5" cy="207.1" r="2.8"/><circle cx="245" cy="207.1" r="2.8"/><circle cx="249.5" cy="207.1" r="2.8"/><circle cx="254" cy="207.1" r="2.8"/><circle cx="258.5" cy="207.1" r="2.8"/><circle cx="263" cy="207.1" r="2.8"/><circle cx="272" cy="207.1" r="2.8"/><circle cx="276.5" cy="207.1" r="2.8"/><circle cx="281" cy="207.1" r="2.8"/><circle cx="294.5" cy="207.1" r="2.5"/><circle cx="215.8" cy="211" r="2.8"/><circle cx="220.2" cy="211" r="2.8"/><circle cx="224.8" cy="211" r="2.8"/><circle cx="233.8" cy="211" r="2.8"/><circle cx="238.2" cy="211" r="2.8"/><circle cx="242.8" cy="211" r="2.8"/><circle cx="247.2" cy="211" r="2.8"/><circle cx="251.8" cy="211" r="2.8"/><circle cx="260.8" cy="211" r="2.8"/><circle cx="269.8" cy="211" r="2.8"/><circle cx="274.2" cy="211" r="2.8"/><circle cx="278.8" cy="211" r="2.8"/><circle cx="283.2" cy="211" r="2.8"/><circle cx="287.8" cy="211" r="2.8"/><circle cx="292.2" cy="211" r="2.5"/><circle cx="296.8" cy="211" r="2.5"/><circle cx="213.5" cy="214.9" r="2.8"/><circle cx="218" cy="214.9" r="2.8"/><circle cx="222.5" cy="214.9" r="2.8"/><circle cx="231.5" cy="214.9" r="2.8"/><circle cx="240.5" cy="214.9" r="2.8"/><circle cx="245" cy="214.9" r="2.8"/><circle cx="249.5" cy="214.9" r="2.8"/><circle cx="254" cy="214.9" r="2.8"/><circle cx="258.5" cy="214.9" r="2.8"/><circle cx="263" cy="214.9" r="2.8"/><circle cx="276.5" cy="214.9" r="2.8"/><circle cx="285.5" cy="214.9" r="2.8"/><circle cx="290" cy="214.9" r="2.8"/><circle cx="299" cy="214.9" r="2.5"/><circle cx="215.8" cy="218.7" r="2.8"/><circle cx="220.2" cy="218.7" r="2.8"/><circle cx="224.8" cy="218.7" r="2.8"/><circle cx="233.8" cy="218.7" r="2.8"/><circle cx="238.2" cy="218.7" r="2.8"/><circle cx="242.8" cy="218.7" r="2.8"/><circle cx="247.2" cy="218.7" r="2.8"/><circle cx="251.8" cy="218.7" r="2.8"/><circle cx="256.2" cy="218.7" r="2.8"/><circle cx="260.8" cy="218.7" r="2.8"/><circle cx="269.8" cy="218.7" r="2.8"/><circle cx="283.2" cy="218.7" r="2.8"/><circle cx="287.8" cy="218.7" r="2.8"/><circle cx="292.2" cy="218.7" r="2.8"/><circle cx="296.8" cy="218.7" r="2.5"/><circle cx="168.5" cy="222.6" r="1.9"/><circle cx="213.5" cy="222.6" r="2.8"/><circle cx="218" cy="222.6" r="2.8"/><circle cx="222.5" cy="222.6" r="2.8"/><circle cx="227" cy="222.6" r="2.8"/><circle cx="231.5" cy="222.6" r="2.8"/><circle cx="236" cy="222.6" r="2.8"/><circle cx="240.5" cy="222.6" r="2.8"/><circle cx="245" cy="222.6" r="2.8"/><circle cx="249.5" cy="222.6" r="2.8"/><circle cx="254" cy="222.6" r="2.8"/><circle cx="258.5" cy="222.6" r="2.8"/><circle cx="263" cy="222.6" r="2.8"/><circle cx="267.5" cy="222.6" r="2.8"/><circle cx="272" cy="222.6" r="2.8"/><circle cx="276.5" cy="222.6" r="2.8"/><circle cx="290" cy="222.6" r="2.8"/><circle cx="179.8" cy="226.5" r="2.2"/><circle cx="215.8" cy="226.5" r="2.8"/><circle cx="224.8" cy="226.5" r="2.8"/><circle cx="233.8" cy="226.5" r="2.8"/><circle cx="238.2" cy="226.5" r="2.8"/><circle cx="242.8" cy="226.5" r="2.8"/><circle cx="247.2" cy="226.5" r="2.8"/><circle cx="251.8" cy="226.5" r="2.8"/><circle cx="256.2" cy="226.5" r="2.8"/><circle cx="260.8" cy="226.5" r="2.8"/><circle cx="265.2" cy="226.5" r="2.8"/><circle cx="269.8" cy="226.5" r="2.8"/><circle cx="274.2" cy="226.5" r="2.8"/><circle cx="278.8" cy="226.5" r="2.8"/><circle cx="287.8" cy="226.5" r="2.8"/><circle cx="204.5" cy="230.4" r="2.5"/><circle cx="213.5" cy="230.4" r="2.8"/><circle cx="218" cy="230.4" r="2.8"/><circle cx="222.5" cy="230.4" r="2.8"/><circle cx="227" cy="230.4" r="2.8"/><circle cx="231.5" cy="230.4" r="2.8"/><circle cx="236" cy="230.4" r="2.8"/><circle cx="240.5" cy="230.4" r="2.8"/><circle cx="249.5" cy="230.4" r="2.8"/><circle cx="254" cy="230.4" r="2.8"/><circle cx="258.5" cy="230.4" r="2.8"/><circle cx="263" cy="230.4" r="2.8"/><circle cx="267.5" cy="230.4" r="2.8"/><circle cx="272" cy="230.4" r="2.8"/><circle cx="281" cy="230.4" r="2.8"/><circle cx="285.5" cy="230.4" r="2.8"/><circle cx="290" cy="230.4" r="2.8"/><circle cx="206.8" cy="234.3" r="2.5"/><circle cx="211.2" cy="234.3" r="2.8"/><circle cx="215.8" cy="234.3" r="2.8"/><circle cx="220.2" cy="234.3" r="2.8"/><circle cx="229.2" cy="234.3" r="2.8"/><circle cx="233.8" cy="234.3" r="2.8"/><circle cx="242.8" cy="234.3" r="2.8"/><circle cx="251.8" cy="234.3" r="2.8"/><circle cx="256.2" cy="234.3" r="2.8"/><circle cx="260.8" cy="234.3" r="2.8"/><circle cx="269.8" cy="234.3" r="2.8"/><circle cx="274.2" cy="234.3" r="2.8"/><circle cx="278.8" cy="234.3" r="2.8"/><circle cx="283.2" cy="234.3" r="2.8"/><circle cx="287.8" cy="234.3" r="2.8"/><circle cx="296.8" cy="234.3" r="2.5"/><circle cx="209" cy="238.2" r="2.8"/><circle cx="213.5" cy="238.2" r="2.8"/><circle cx="218" cy="238.2" r="2.8"/><circle cx="222.5" cy="238.2" r="2.8"/><circle cx="227" cy="238.2" r="2.8"/><circle cx="231.5" cy="238.2" r="2.8"/><circle cx="236" cy="238.2" r="2.8"/><circle cx="240.5" cy="238.2" r="2.8"/><circle cx="245" cy="238.2" r="2.8"/><circle cx="254" cy="238.2" r="2.8"/><circle cx="258.5" cy="238.2" r="2.8"/><circle cx="263" cy="238.2" r="2.8"/><circle cx="267.5" cy="238.2" r="2.8"/><circle cx="272" cy="238.2" r="2.8"/><circle cx="276.5" cy="238.2" r="2.8"/><circle cx="281" cy="238.2" r="2.8"/><circle cx="285.5" cy="238.2" r="2.8"/><circle cx="290" cy="238.2" r="2.5"/><circle cx="294.5" cy="238.2" r="2.5"/><circle cx="299" cy="238.2" r="1.3"/><circle cx="202.2" cy="242.1" r="2.5"/><circle cx="206.8" cy="242.1" r="2.8"/><circle cx="211.2" cy="242.1" r="2.8"/><circle cx="215.8" cy="242.1" r="2.8"/><circle cx="220.2" cy="242.1" r="2.8"/><circle cx="224.8" cy="242.1" r="2.8"/><circle cx="229.2" cy="242.1" r="2.8"/><circle cx="242.8" cy="242.1" r="2.8"/><circle cx="247.2" cy="242.1" r="2.8"/><circle cx="256.2" cy="242.1" r="2.8"/><circle cx="260.8" cy="242.1" r="2.8"/><circle cx="265.2" cy="242.1" r="2.8"/><circle cx="269.8" cy="242.1" r="2.8"/><circle cx="274.2" cy="242.1" r="2.8"/><circle cx="278.8" cy="242.1" r="2.8"/><circle cx="283.2" cy="242.1" r="2.8"/><circle cx="287.8" cy="242.1" r="2.8"/><circle cx="209" cy="246" r="2.8"/><circle cx="213.5" cy="246" r="2.8"/><circle cx="218" cy="246" r="2.8"/><circle cx="222.5" cy="246" r="2.8"/><circle cx="227" cy="246" r="2.8"/><circle cx="236" cy="246" r="2.8"/><circle cx="240.5" cy="246" r="2.8"/><circle cx="245" cy="246" r="2.8"/><circle cx="249.5" cy="246" r="2.8"/><circle cx="254" cy="246" r="2.8"/><circle cx="258.5" cy="246" r="2.8"/><circle cx="263" cy="246" r="2.8"/><circle cx="272" cy="246" r="2.8"/><circle cx="290" cy="246" r="2.5"/><circle cx="294.5" cy="246" r="2.5"/><circle cx="211.2" cy="249.9" r="2.5"/><circle cx="220.2" cy="249.9" r="2.5"/><circle cx="229.2" cy="249.9" r="2.5"/><circle cx="233.8" cy="249.9" r="2.5"/><circle cx="251.8" cy="249.9" r="2.8"/><circle cx="256.2" cy="249.9" r="2.8"/><circle cx="269.8" cy="249.9" r="2.8"/><circle cx="274.2" cy="249.9" r="2.8"/><circle cx="278.8" cy="249.9" r="2.8"/><circle cx="283.2" cy="249.9" r="2.8"/><circle cx="222.5" cy="253.8" r="2.5"/><circle cx="227" cy="253.8" r="2.5"/><circle cx="240.5" cy="253.8" r="2.5"/><circle cx="254" cy="253.8" r="2.8"/><circle cx="263" cy="253.8" r="2.8"/><circle cx="267.5" cy="253.8" r="2.8"/><circle cx="272" cy="253.8" r="2.8"/><circle cx="276.5" cy="253.8" r="2.8"/><circle cx="281" cy="253.8" r="2.8"/><circle cx="260.8" cy="257.7" r="2.8"/><circle cx="265.2" cy="257.7" r="2.8"/><circle cx="274.2" cy="257.7" r="2.8"/><circle cx="278.8" cy="257.7" r="2.8"/><circle cx="209" cy="261.6" r="1.3"/><circle cx="231.5" cy="261.6" r="1.3"/><circle cx="263" cy="261.6" r="2.8"/><circle cx="272" cy="261.6" r="2.8"/><circle cx="281" cy="261.6" r="2.5"/><circle cx="285.5" cy="261.6" r="2.5"/><circle cx="224.8" cy="265.5" r="2.2"/><circle cx="256.2" cy="265.5" r="2.5"/><circle cx="269.8" cy="265.5" r="2.5"/><circle cx="274.2" cy="265.5" r="2.5"/><circle cx="283.2" cy="265.5" r="2.5"/><circle cx="263" cy="269.4" r="2.5"/><circle cx="260.8" cy="273.3" r="1.6"/><circle cx="281" cy="277.2" r="2.2"/><circle cx="281" cy="285" r="1.9"/><circle cx="249.4" cy="14.9" r="1.9"/><circle cx="224.7" cy="18.8" r="1.6"/><circle cx="233.7" cy="18.8" r="2.5"/><circle cx="238.2" cy="18.8" r="2.8"/><circle cx="242.7" cy="18.8" r="2.8"/><circle cx="256.2" cy="18.8" r="1.3"/><circle cx="240.4" cy="22.7" r="2.8"/><circle cx="244.9" cy="22.7" r="2.8"/><circle cx="202.2" cy="26.6" r="1.9"/><circle cx="238.2" cy="26.6" r="2.8"/><circle cx="242.7" cy="26.6" r="2.8"/><circle cx="235.9" cy="30.5" r="2.5"/><circle cx="233.7" cy="34.4" r="2.5"/><circle cx="238.2" cy="34.4" r="2.8"/><circle cx="260.7" cy="34.4" r="1.6"/><circle cx="213.4" cy="38.3" r="1.3"/><circle cx="235.9" cy="38.3" r="2.8"/><circle cx="238.2" cy="42.2" r="2.8"/><circle cx="247.2" cy="42.2" r="2.5"/><circle cx="256.2" cy="42.2" r="2.5"/><circle cx="249.4" cy="46.1" r="2.5"/><circle cx="258.4" cy="46.1" r="2.5"/><circle cx="262.9" cy="46.1" r="2.5"/><circle cx="267.4" cy="46.1" r="2.5"/><circle cx="220.2" cy="50" r="2.5"/><circle cx="233.7" cy="50" r="2.8"/><circle cx="238.2" cy="50" r="2.8"/><circle cx="247.2" cy="50" r="2.5"/><circle cx="251.7" cy="50" r="2.5"/><circle cx="260.7" cy="50" r="2.5"/><circle cx="274.2" cy="50" r="2.5"/><circle cx="208.9" cy="53.9" r="1.3"/><circle cx="231.4" cy="53.9" r="2.8"/><circle cx="235.9" cy="53.9" r="2.8"/><circle cx="249.4" cy="53.9" r="2.5"/><circle cx="220.2" cy="57.8" r="2.5"/><circle cx="229.2" cy="57.8" r="2.8"/><circle cx="233.7" cy="57.8" r="2.8"/><circle cx="238.2" cy="57.8" r="2.8"/><circle cx="242.7" cy="57.8" r="2.8"/><circle cx="247.2" cy="57.8" r="2.5"/><circle cx="251.7" cy="57.8" r="2.5"/><circle cx="265.2" cy="57.8" r="2.5"/><circle cx="222.4" cy="61.7" r="2.8"/><circle cx="231.4" cy="61.7" r="2.8"/><circle cx="240.4" cy="61.7" r="2.8"/><circle cx="244.9" cy="61.7" r="2.8"/><circle cx="249.4" cy="61.7" r="2.5"/><circle cx="258.4" cy="61.7" r="2.5"/><circle cx="267.4" cy="61.7" r="2.5"/><circle cx="224.7" cy="65.6" r="2.8"/><circle cx="233.7" cy="65.6" r="2.8"/><circle cx="238.2" cy="65.6" r="2.8"/><circle cx="242.7" cy="65.6" r="2.8"/><circle cx="247.2" cy="65.6" r="2.8"/><circle cx="269.7" cy="65.6" r="2.5"/><circle cx="208.9" cy="69.5" r="1.3"/><circle cx="222.4" cy="69.5" r="2.8"/><circle cx="226.9" cy="69.5" r="2.8"/><circle cx="231.4" cy="69.5" r="2.8"/><circle cx="240.4" cy="69.5" r="2.8"/><circle cx="244.9" cy="69.5" r="2.8"/><circle cx="249.4" cy="69.5" r="2.8"/><circle cx="276.4" cy="69.5" r="2.5"/><circle cx="202.2" cy="73.4" r="2.2"/><circle cx="206.7" cy="73.4" r="1.9"/><circle cx="220.2" cy="73.4" r="2.8"/><circle cx="224.7" cy="73.4" r="2.8"/><circle cx="233.7" cy="73.4" r="2.8"/><circle cx="269.7" cy="73.4" r="2.5"/><circle cx="278.7" cy="73.4" r="2.5"/><circle cx="172.9" cy="77.2" r="1.6"/><circle cx="217.9" cy="77.2" r="2.8"/><circle cx="222.4" cy="77.2" r="2.8"/><circle cx="226.9" cy="77.2" r="2.8"/><circle cx="240.4" cy="77.2" r="2.8"/><circle cx="258.4" cy="77.2" r="2.5"/><circle cx="267.4" cy="77.2" r="2.5"/><circle cx="197.7" cy="81.1" r="1.9"/><circle cx="206.7" cy="81.1" r="1.9"/><circle cx="215.7" cy="81.1" r="2.8"/><circle cx="220.2" cy="81.1" r="2.8"/><circle cx="238.2" cy="81.1" r="2.8"/><circle cx="242.7" cy="81.1" r="2.8"/><circle cx="251.7" cy="81.1" r="2.8"/><circle cx="314.7" cy="81.1" r="2.2"/><circle cx="332.7" cy="81.1" r="1.3"/><circle cx="213.4" cy="85" r="2.8"/><circle cx="217.9" cy="85" r="2.8"/><circle cx="222.4" cy="85" r="2.8"/><circle cx="235.9" cy="85" r="2.8"/><circle cx="240.4" cy="85" r="2.8"/><circle cx="244.9" cy="85" r="2.8"/><circle cx="249.4" cy="85" r="2.8"/><circle cx="215.7" cy="88.9" r="2.8"/><circle cx="220.2" cy="88.9" r="2.8"/><circle cx="224.7" cy="88.9" r="2.8"/><circle cx="229.2" cy="88.9" r="2.8"/><circle cx="242.7" cy="88.9" r="2.8"/><circle cx="247.2" cy="88.9" r="2.8"/><circle cx="256.2" cy="88.9" r="2.5"/><circle cx="274.2" cy="88.9" r="2.5"/><circle cx="204.4" cy="92.8" r="1.9"/><circle cx="213.4" cy="92.8" r="2.8"/><circle cx="217.9" cy="92.8" r="2.8"/><circle cx="231.4" cy="92.8" r="2.8"/><circle cx="240.4" cy="92.8" r="2.8"/><circle cx="244.9" cy="92.8" r="2.8"/><circle cx="253.9" cy="92.8" r="2.5"/><circle cx="276.4" cy="92.8" r="2.5"/><circle cx="184.2" cy="96.7" r="1.9"/><circle cx="220.2" cy="96.7" r="2.8"/><circle cx="229.2" cy="96.7" r="2.8"/><circle cx="265.2" cy="96.7" r="2.5"/><circle cx="269.7" cy="96.7" r="2.5"/><circle cx="208.9" cy="100.6" r="1.3"/><circle cx="213.4" cy="100.6" r="2.5"/><circle cx="226.9" cy="100.6" r="2.5"/><circle cx="231.4" cy="100.6" r="2.8"/><circle cx="235.9" cy="100.6" r="2.8"/><circle cx="240.4" cy="100.6" r="2.8"/><circle cx="244.9" cy="100.6" r="2.5"/><circle cx="253.9" cy="100.6" r="2.5"/><circle cx="258.4" cy="100.6" r="2.5"/><circle cx="262.9" cy="100.6" r="2.5"/><circle cx="271.9" cy="100.6" r="2.5"/><circle cx="215.7" cy="104.5" r="1.9"/><circle cx="224.7" cy="104.5" r="1.3"/><circle cx="242.7" cy="104.5" r="2.5"/><circle cx="247.2" cy="104.5" r="2.5"/><circle cx="256.2" cy="104.5" r="2.5"/><circle cx="231.4" cy="108.4" r="2.5"/><circle cx="235.9" cy="108.4" r="2.5"/><circle cx="217.9" cy="116.2" r="1.9"/><circle cx="235.9" cy="116.2" r="1.9"/><circle cx="253.9" cy="116.2" r="1.9"/><circle cx="262.9" cy="116.2" r="1.3"/><circle cx="251.7" cy="120.1" r="2.2"/><circle cx="280.9" cy="131.8" r="2.2"/><circle cx="274.2" cy="135.7" r="1.6"/><circle cx="279.4" cy="302.8" r="1.6"/><circle cx="281.6" cy="306.7" r="2.5"/><circle cx="295.1" cy="314.5" r="2.5"/><circle cx="274.9" cy="318.4" r="2.5"/><circle cx="279.4" cy="318.4" r="2.8"/><circle cx="283.9" cy="318.4" r="2.8"/><circle cx="288.4" cy="318.4" r="2.8"/><circle cx="227.6" cy="322.3" r="1.9"/><circle cx="232.1" cy="322.3" r="1.6"/><circle cx="281.6" cy="322.3" r="2.8"/><circle cx="286.1" cy="322.3" r="2.8"/><circle cx="211.9" cy="326.2" r="2.5"/><circle cx="216.4" cy="326.2" r="2.5"/><circle cx="234.4" cy="326.2" r="1.6"/><circle cx="247.9" cy="326.2" r="2.2"/><circle cx="256.9" cy="326.2" r="2.5"/><circle cx="261.4" cy="326.2" r="2.5"/><circle cx="265.9" cy="326.2" r="2.5"/><circle cx="274.9" cy="326.2" r="2.8"/><circle cx="279.4" cy="326.2" r="2.8"/><circle cx="283.9" cy="326.2" r="2.8"/><circle cx="218.6" cy="330.1" r="2.8"/><circle cx="223.1" cy="330.1" r="2.8"/><circle cx="227.6" cy="330.1" r="2.5"/><circle cx="254.6" cy="330.1" r="2.5"/><circle cx="263.6" cy="330.1" r="2.8"/><circle cx="268.1" cy="330.1" r="2.8"/><circle cx="281.6" cy="330.1" r="2.8"/><circle cx="220.9" cy="334" r="2.8"/><circle cx="225.4" cy="334" r="2.8"/><circle cx="234.4" cy="334" r="2.5"/><circle cx="247.9" cy="334" r="2.5"/><circle cx="256.9" cy="334" r="2.8"/><circle cx="261.4" cy="334" r="2.8"/><circle cx="265.9" cy="334" r="2.8"/><circle cx="270.4" cy="334" r="2.8"/><circle cx="274.9" cy="334" r="2.8"/><circle cx="279.4" cy="334" r="2.8"/><circle cx="223.1" cy="337.9" r="2.8"/><circle cx="254.6" cy="337.9" r="2.8"/><circle cx="259.1" cy="337.9" r="2.8"/><circle cx="268.1" cy="337.9" r="2.8"/><circle cx="277.1" cy="337.9" r="2.8"/><circle cx="211.9" cy="341.8" r="1.6"/><circle cx="225.4" cy="341.8" r="2.8"/><circle cx="234.4" cy="341.8" r="2.5"/><circle cx="247.9" cy="341.8" r="2.8"/><circle cx="252.4" cy="341.8" r="2.8"/><circle cx="256.9" cy="341.8" r="2.8"/><circle cx="261.4" cy="341.8" r="2.8"/><circle cx="265.9" cy="341.8" r="2.8"/><circle cx="270.4" cy="341.8" r="2.8"/><circle cx="274.9" cy="341.8" r="2.8"/><circle cx="223.1" cy="345.7" r="2.5"/><circle cx="227.6" cy="345.7" r="2.5"/><circle cx="236.6" cy="345.7" r="2.5"/><circle cx="245.6" cy="345.7" r="2.8"/><circle cx="254.6" cy="345.7" r="2.8"/><circle cx="259.1" cy="345.7" r="2.8"/><circle cx="263.6" cy="345.7" r="2.8"/><circle cx="268.1" cy="345.7" r="2.8"/><circle cx="272.6" cy="345.7" r="2.8"/><circle cx="281.6" cy="345.7" r="2.5"/><circle cx="290.6" cy="345.7" r="2.2"/><circle cx="243.4" cy="349.6" r="2.8"/><circle cx="252.4" cy="349.6" r="2.8"/><circle cx="261.4" cy="349.6" r="2.8"/><circle cx="265.9" cy="349.6" r="2.8"/><circle cx="270.4" cy="349.6" r="2.8"/><circle cx="274.9" cy="349.6" r="2.8"/><circle cx="292.9" cy="349.6" r="1.6"/><circle cx="232.1" cy="353.5" r="2.8"/><circle cx="236.6" cy="353.5" r="2.5"/><circle cx="241.1" cy="353.5" r="2.5"/><circle cx="245.6" cy="353.5" r="2.8"/><circle cx="250.1" cy="353.5" r="2.8"/><circle cx="254.6" cy="353.5" r="2.8"/><circle cx="259.1" cy="353.5" r="2.8"/><circle cx="263.6" cy="353.5" r="2.8"/><circle cx="268.1" cy="353.5" r="2.8"/><circle cx="277.1" cy="353.5" r="2.5"/><circle cx="225.4" cy="357.4" r="2.5"/><circle cx="229.9" cy="357.4" r="2.5"/><circle cx="243.4" cy="357.4" r="2.8"/><circle cx="247.9" cy="357.4" r="2.8"/><circle cx="256.9" cy="357.4" r="2.8"/><circle cx="261.4" cy="357.4" r="2.8"/><circle cx="265.9" cy="357.4" r="2.8"/><circle cx="270.4" cy="357.4" r="2.8"/><circle cx="274.9" cy="357.4" r="2.8"/><circle cx="279.4" cy="357.4" r="2.5"/><circle cx="205.1" cy="361.2" r="2.2"/><circle cx="232.1" cy="361.2" r="2.5"/><circle cx="241.1" cy="361.2" r="2.5"/><circle cx="263.6" cy="361.2" r="2.8"/><circle cx="268.1" cy="361.2" r="2.8"/><circle cx="277.1" cy="361.2" r="2.5"/><circle cx="207.4" cy="365.1" r="1.9"/><circle cx="234.4" cy="365.1" r="2.5"/><circle cx="238.9" cy="365.1" r="2.5"/><circle cx="243.4" cy="365.1" r="2.5"/><circle cx="256.9" cy="365.1" r="2.8"/><circle cx="261.4" cy="365.1" r="2.5"/><circle cx="274.9" cy="365.1" r="2.5"/><circle cx="283.9" cy="365.1" r="2.5"/><circle cx="182.6" cy="369" r="1.6"/><circle cx="209.6" cy="369" r="2.5"/><circle cx="250.1" cy="369" r="2.5"/><circle cx="263.6" cy="369" r="2.5"/><circle cx="286.1" cy="369" r="2.5"/><circle cx="295.1" cy="369" r="2.2"/><circle cx="189.4" cy="372.9" r="1.6"/><circle cx="202.9" cy="372.9" r="2.5"/><circle cx="216.4" cy="372.9" r="2.5"/><circle cx="256.9" cy="372.9" r="2.5"/><circle cx="261.4" cy="372.9" r="2.5"/><circle cx="265.9" cy="372.9" r="2.5"/><circle cx="279.4" cy="372.9" r="2.8"/><circle cx="292.9" cy="372.9" r="2.5"/><circle cx="200.6" cy="376.8" r="2.5"/><circle cx="209.6" cy="376.8" r="2.8"/><circle cx="214.1" cy="376.8" r="2.8"/><circle cx="259.1" cy="376.8" r="2.5"/><circle cx="268.1" cy="376.8" r="2.8"/><circle cx="277.1" cy="376.8" r="2.8"/><circle cx="281.6" cy="376.8" r="2.8"/><circle cx="286.1" cy="376.8" r="2.8"/><circle cx="295.1" cy="376.8" r="2.5"/><circle cx="207.4" cy="380.7" r="2.5"/><circle cx="216.4" cy="380.7" r="2.8"/><circle cx="225.4" cy="380.7" r="2.5"/><circle cx="256.9" cy="380.7" r="2.5"/><circle cx="261.4" cy="380.7" r="2.8"/><circle cx="265.9" cy="380.7" r="2.8"/><circle cx="283.9" cy="380.7" r="2.8"/><circle cx="288.4" cy="380.7" r="2.8"/><circle cx="297.4" cy="380.7" r="2.5"/><circle cx="218.6" cy="384.6" r="2.8"/><circle cx="232.1" cy="384.6" r="2.2"/><circle cx="259.1" cy="384.6" r="2.5"/><circle cx="263.6" cy="384.6" r="2.8"/><circle cx="268.1" cy="384.6" r="2.8"/><circle cx="272.6" cy="384.6" r="2.8"/><circle cx="277.1" cy="384.6" r="2.8"/><circle cx="286.1" cy="384.6" r="2.8"/><circle cx="207.4" cy="388.5" r="2.5"/><circle cx="220.9" cy="388.5" r="2.5"/><circle cx="261.4" cy="388.5" r="2.5"/><circle cx="265.9" cy="388.5" r="2.8"/><circle cx="279.4" cy="388.5" r="2.8"/><circle cx="283.9" cy="388.5" r="2.8"/><circle cx="310.9" cy="388.5" r="1.3"/><circle cx="209.6" cy="392.4" r="2.5"/><circle cx="218.6" cy="392.4" r="2.5"/><circle cx="223.1" cy="392.4" r="2.5"/><circle cx="254.6" cy="392.4" r="1.3"/><circle cx="268.1" cy="392.4" r="2.8"/><circle cx="272.6" cy="392.4" r="2.8"/><circle cx="277.1" cy="392.4" r="2.8"/><circle cx="281.6" cy="392.4" r="2.8"/><circle cx="270.4" cy="396.3" r="2.8"/><circle cx="274.9" cy="396.3" r="2.8"/><circle cx="214.1" cy="400.2" r="1.6"/><circle cx="254.6" cy="400.2" r="1.3"/><circle cx="277.1" cy="400.2" r="2.5"/><circle cx="281.6" cy="400.2" r="2.5"/><circle cx="286.1" cy="400.2" r="1.9"/><circle cx="265.9" cy="404.1" r="2.2"/><circle cx="274.9" cy="404.1" r="2.5"/><circle cx="232.1" cy="408" r="2.2"/><circle cx="214.1" cy="415.8" r="1.3"/><circle cx="209.6" cy="423.6" r="1.3"/><circle cx="247.9" cy="427.5" r="2.2"/><circle cx="109.7" cy="105.4" r="1.6"/><circle cx="154.7" cy="105.4" r="1.6"/><circle cx="121" cy="109.3" r="2.2"/><circle cx="105.2" cy="113.2" r="2.2"/><circle cx="62.5" cy="117.1" r="1.9"/><circle cx="67" cy="117.1" r="2.2"/><circle cx="112" cy="117.1" r="2.5"/><circle cx="105.2" cy="121" r="2.5"/><circle cx="114.2" cy="121" r="2.8"/><circle cx="53.5" cy="124.9" r="1.6"/><circle cx="107.5" cy="124.9" r="2.5"/><circle cx="112" cy="124.9" r="2.8"/><circle cx="116.5" cy="124.9" r="2.8"/><circle cx="121" cy="124.9" r="2.5"/><circle cx="125.5" cy="124.9" r="2.5"/><circle cx="152.4" cy="124.9" r="2.2"/><circle cx="69.2" cy="128.8" r="1.6"/><circle cx="91.7" cy="128.8" r="2.5"/><circle cx="100.7" cy="128.8" r="2.5"/><circle cx="105.2" cy="128.8" r="2.8"/><circle cx="109.7" cy="128.8" r="2.8"/><circle cx="114.2" cy="128.8" r="2.8"/><circle cx="132.2" cy="128.8" r="2.5"/><circle cx="62.5" cy="132.7" r="1.9"/><circle cx="71.5" cy="132.7" r="2.5"/><circle cx="85" cy="132.7" r="2.5"/><circle cx="89.5" cy="132.7" r="2.5"/><circle cx="94" cy="132.7" r="2.5"/><circle cx="98.5" cy="132.7" r="2.8"/><circle cx="107.5" cy="132.7" r="2.8"/><circle cx="121" cy="132.7" r="2.5"/><circle cx="69.2" cy="136.6" r="2.8"/><circle cx="78.2" cy="136.6" r="2.8"/><circle cx="96.2" cy="136.6" r="2.8"/><circle cx="100.7" cy="136.6" r="2.8"/><circle cx="105.2" cy="136.6" r="2.8"/><circle cx="123.2" cy="136.6" r="2.5"/><circle cx="145.7" cy="136.6" r="2.5"/><circle cx="58" cy="140.5" r="2.5"/><circle cx="62.5" cy="140.5" r="2.5"/><circle cx="98.5" cy="140.5" r="2.8"/><circle cx="107.5" cy="140.5" r="2.8"/><circle cx="143.4" cy="140.5" r="2.5"/><circle cx="147.9" cy="140.5" r="2.5"/><circle cx="55.7" cy="144.4" r="1.6"/><circle cx="78.2" cy="144.4" r="2.8"/><circle cx="91.7" cy="144.4" r="2.8"/><circle cx="100.7" cy="144.4" r="2.8"/><circle cx="105.2" cy="144.4" r="2.8"/><circle cx="109.7" cy="144.4" r="2.8"/><circle cx="127.7" cy="144.4" r="2.5"/><circle cx="136.7" cy="144.4" r="2.5"/><circle cx="145.7" cy="144.4" r="2.5"/><circle cx="150.2" cy="144.4" r="2.5"/><circle cx="53.5" cy="148.2" r="1.3"/><circle cx="62.5" cy="148.2" r="1.6"/><circle cx="71.5" cy="148.2" r="2.5"/><circle cx="85" cy="148.2" r="2.5"/><circle cx="98.5" cy="148.2" r="2.8"/><circle cx="112" cy="148.2" r="2.8"/><circle cx="143.4" cy="148.2" r="2.5"/><circle cx="161.4" cy="148.2" r="2.2"/><circle cx="51.2" cy="152.1" r="1.6"/><circle cx="69.2" cy="152.1" r="2.5"/><circle cx="82.7" cy="152.1" r="2.5"/><circle cx="87.2" cy="152.1" r="2.8"/><circle cx="105.2" cy="152.1" r="2.8"/><circle cx="114.2" cy="152.1" r="2.8"/><circle cx="127.7" cy="152.1" r="2.5"/><circle cx="132.2" cy="152.1" r="2.5"/><circle cx="145.7" cy="152.1" r="2.5"/><circle cx="159.2" cy="152.1" r="1.6"/><circle cx="85" cy="156" r="2.8"/><circle cx="89.5" cy="156" r="2.8"/><circle cx="98.5" cy="156" r="2.8"/><circle cx="107.5" cy="156" r="2.8"/><circle cx="116.5" cy="156" r="2.8"/><circle cx="129.9" cy="156" r="2.5"/><circle cx="51.2" cy="159.9" r="2.2"/><circle cx="55.7" cy="159.9" r="1.6"/><circle cx="82.7" cy="159.9" r="2.8"/><circle cx="91.7" cy="159.9" r="2.8"/><circle cx="100.7" cy="159.9" r="2.8"/><circle cx="118.7" cy="159.9" r="2.8"/><circle cx="132.2" cy="159.9" r="2.5"/><circle cx="58" cy="163.8" r="1.9"/><circle cx="76" cy="163.8" r="2.8"/><circle cx="89.5" cy="163.8" r="2.8"/><circle cx="94" cy="163.8" r="2.8"/><circle cx="98.5" cy="163.8" r="2.8"/><circle cx="103" cy="163.8" r="2.8"/><circle cx="112" cy="163.8" r="2.8"/><circle cx="116.5" cy="163.8" r="2.8"/><circle cx="125.5" cy="163.8" r="2.8"/><circle cx="73.7" cy="167.7" r="2.8"/><circle cx="78.2" cy="167.7" r="2.8"/><circle cx="82.7" cy="167.7" r="2.8"/><circle cx="87.2" cy="167.7" r="2.8"/><circle cx="100.7" cy="167.7" r="2.8"/><circle cx="105.2" cy="167.7" r="2.8"/><circle cx="109.7" cy="167.7" r="2.8"/><circle cx="118.7" cy="167.7" r="2.8"/><circle cx="123.2" cy="167.7" r="2.8"/><circle cx="127.7" cy="167.7" r="2.5"/><circle cx="136.7" cy="167.7" r="1.6"/><circle cx="53.5" cy="171.6" r="1.9"/><circle cx="71.5" cy="171.6" r="2.5"/><circle cx="85" cy="171.6" r="2.8"/><circle cx="89.5" cy="171.6" r="2.8"/><circle cx="94" cy="171.6" r="2.8"/><circle cx="103" cy="171.6" r="2.8"/><circle cx="112" cy="171.6" r="2.8"/><circle cx="116.5" cy="171.6" r="2.8"/><circle cx="82.7" cy="175.5" r="2.5"/><circle cx="91.7" cy="175.5" r="2.5"/><circle cx="96.2" cy="175.5" r="2.8"/><circle cx="114.2" cy="175.5" r="2.5"/><circle cx="118.7" cy="175.5" r="2.5"/><circle cx="163.7" cy="175.5" r="1.9"/><circle cx="76" cy="179.4" r="2.5"/><circle cx="80.5" cy="179.4" r="2.5"/><circle cx="89.5" cy="179.4" r="2.5"/><circle cx="125.5" cy="179.4" r="2.5"/><circle cx="87.2" cy="183.3" r="2.5"/><circle cx="100.7" cy="183.3" r="2.5"/><circle cx="109.7" cy="183.3" r="2.5"/><circle cx="127.7" cy="183.3" r="2.5"/><circle cx="89.5" cy="187.2" r="2.5"/><circle cx="98.5" cy="187.2" r="2.5"/><circle cx="129.9" cy="187.2" r="2.5"/><circle cx="91.7" cy="191.1" r="2.5"/><circle cx="123.2" cy="191.1" r="2.5"/><circle cx="141.2" cy="191.1" r="2.5"/><circle cx="112" cy="195" r="2.2"/><circle cx="125.5" cy="195" r="2.5"/><circle cx="129.9" cy="195" r="2.5"/><circle cx="138.9" cy="195" r="2.5"/><circle cx="132.2" cy="198.9" r="2.5"/><circle cx="141.2" cy="198.9" r="2.5"/><circle cx="94" cy="202.8" r="1.9"/><circle cx="98.7" cy="231.8" r="1.6"/><circle cx="92" cy="243.5" r="1.6"/><circle cx="74" cy="251.3" r="1.3"/><circle cx="85.2" cy="255.2" r="1.9"/><circle cx="98.7" cy="255.2" r="2.2"/><circle cx="145.9" cy="259.1" r="1.3"/><circle cx="67.2" cy="263" r="1.9"/><circle cx="157.2" cy="263" r="2.2"/><circle cx="83" cy="266.9" r="2.5"/><circle cx="96.5" cy="266.9" r="2.5"/><circle cx="132.4" cy="266.9" r="1.9"/><circle cx="141.4" cy="266.9" r="2.5"/><circle cx="145.9" cy="266.9" r="2.5"/><circle cx="67.2" cy="270.8" r="2.5"/><circle cx="80.7" cy="270.8" r="2.5"/><circle cx="85.2" cy="270.8" r="2.5"/><circle cx="94.2" cy="270.8" r="2.5"/><circle cx="139.2" cy="270.8" r="2.5"/><circle cx="148.2" cy="270.8" r="2.5"/><circle cx="152.7" cy="270.8" r="2.5"/><circle cx="69.5" cy="274.7" r="2.5"/><circle cx="101" cy="274.7" r="2.5"/><circle cx="141.4" cy="274.7" r="2.8"/><circle cx="145.9" cy="274.7" r="2.8"/><circle cx="67.2" cy="278.6" r="2.5"/><circle cx="71.7" cy="278.6" r="2.5"/><circle cx="80.7" cy="278.6" r="2.8"/><circle cx="85.2" cy="278.6" r="2.8"/><circle cx="89.7" cy="278.6" r="2.8"/><circle cx="94.2" cy="278.6" r="2.8"/><circle cx="148.2" cy="278.6" r="2.5"/><circle cx="166.2" cy="278.6" r="1.3"/><circle cx="78.5" cy="282.5" r="2.8"/><circle cx="83" cy="282.5" r="2.8"/><circle cx="87.5" cy="282.5" r="2.8"/><circle cx="92" cy="282.5" r="2.8"/><circle cx="119" cy="282.5" r="2.5"/><circle cx="128" cy="282.5" r="2.5"/><circle cx="136.9" cy="282.5" r="2.5"/><circle cx="145.9" cy="282.5" r="2.5"/><circle cx="154.9" cy="282.5" r="2.2"/><circle cx="85.2" cy="286.4" r="2.8"/><circle cx="161.7" cy="286.4" r="1.9"/><circle cx="78.5" cy="290.2" r="2.5"/><circle cx="87.5" cy="290.2" r="2.8"/><circle cx="110" cy="290.2" r="1.3"/><circle cx="128" cy="290.2" r="2.8"/><circle cx="80.7" cy="294.1" r="2.5"/><circle cx="116.7" cy="294.1" r="2.8"/><circle cx="121.2" cy="294.1" r="2.8"/><circle cx="114.5" cy="298" r="2.8"/><circle cx="119" cy="298" r="2.8"/><circle cx="123.5" cy="298" r="2.8"/><circle cx="128" cy="298" r="2.8"/><circle cx="132.4" cy="298" r="2.5"/><circle cx="76.2" cy="301.9" r="1.9"/><circle cx="121.2" cy="301.9" r="2.8"/><circle cx="125.7" cy="301.9" r="2.8"/><circle cx="130.2" cy="301.9" r="2.8"/><circle cx="83" cy="305.8" r="1.3"/><circle cx="123.5" cy="305.8" r="2.8"/><circle cx="71.7" cy="309.7" r="2.2"/><circle cx="98.7" cy="309.7" r="2.5"/><circle cx="103.2" cy="309.7" r="2.5"/><circle cx="107.7" cy="309.7" r="2.5"/><circle cx="116.7" cy="309.7" r="2.8"/><circle cx="121.2" cy="309.7" r="2.8"/><circle cx="125.7" cy="309.7" r="2.8"/><circle cx="92" cy="313.6" r="2.8"/><circle cx="96.5" cy="313.6" r="2.8"/><circle cx="110" cy="313.6" r="2.5"/><circle cx="123.5" cy="313.6" r="2.8"/><circle cx="128" cy="313.6" r="2.8"/><circle cx="132.4" cy="313.6" r="2.5"/><circle cx="89.7" cy="317.5" r="2.8"/><circle cx="94.2" cy="317.5" r="2.8"/><circle cx="103.2" cy="317.5" r="2.5"/><circle cx="107.7" cy="317.5" r="2.5"/><circle cx="112.2" cy="317.5" r="2.5"/><circle cx="92" cy="321.4" r="2.8"/><circle cx="96.5" cy="321.4" r="2.8"/><circle cx="101" cy="321.4" r="2.8"/><circle cx="105.5" cy="321.4" r="2.5"/><circle cx="123.5" cy="321.4" r="2.8"/><circle cx="128" cy="321.4" r="2.8"/><circle cx="132.4" cy="321.4" r="2.5"/><circle cx="154.9" cy="321.4" r="1.6"/><circle cx="71.7" cy="325.3" r="1.6"/><circle cx="98.7" cy="325.3" r="2.8"/><circle cx="103.2" cy="325.3" r="2.8"/><circle cx="107.7" cy="325.3" r="2.8"/><circle cx="112.2" cy="325.3" r="2.5"/><circle cx="130.2" cy="325.3" r="2.5"/><circle cx="105.5" cy="329.2" r="2.5"/><circle cx="119" cy="329.2" r="2.8"/><circle cx="132.4" cy="329.2" r="2.5"/><circle cx="89.7" cy="333.1" r="1.6"/><circle cx="107.7" cy="333.1" r="2.5"/><circle cx="116.7" cy="333.1" r="2.8"/><circle cx="125.7" cy="333.1" r="2.8"/><circle cx="170.7" cy="333.1" r="1.3"/><circle cx="101" cy="337" r="2.2"/><circle cx="119" cy="337" r="2.8"/><circle cx="123.5" cy="337" r="2.8"/><circle cx="145.9" cy="337" r="2.2"/><circle cx="130.2" cy="340.9" r="2.5"/><circle cx="134.7" cy="340.9" r="1.6"/><circle cx="114.5" cy="344.8" r="2.5"/><circle cx="123.5" cy="344.8" r="2.5"/><circle cx="85.2" cy="348.7" r="1.6"/><circle cx="405.4" cy="92.7" r="1.9"/><circle cx="351.4" cy="100.5" r="1.6"/><circle cx="351.4" cy="108.3" r="2.5"/><circle cx="355.9" cy="108.3" r="2.5"/><circle cx="378.4" cy="108.3" r="2.2"/><circle cx="387.4" cy="108.3" r="2.2"/><circle cx="344.7" cy="112.2" r="2.5"/><circle cx="349.2" cy="112.2" r="2.5"/><circle cx="371.7" cy="112.2" r="1.3"/><circle cx="376.2" cy="112.2" r="2.2"/><circle cx="412.2" cy="112.2" r="1.6"/><circle cx="346.9" cy="116.1" r="2.8"/><circle cx="351.4" cy="116.1" r="2.8"/><circle cx="373.9" cy="116.1" r="2.2"/><circle cx="353.7" cy="120" r="2.8"/><circle cx="371.7" cy="120" r="2.2"/><circle cx="355.9" cy="123.9" r="2.5"/><circle cx="373.9" cy="123.9" r="2.5"/><circle cx="378.4" cy="123.9" r="2.5"/><circle cx="396.4" cy="123.9" r="2.5"/><circle cx="409.9" cy="123.9" r="1.6"/><circle cx="331.2" cy="127.8" r="1.6"/><circle cx="335.7" cy="127.8" r="1.3"/><circle cx="367.2" cy="127.8" r="2.5"/><circle cx="371.7" cy="127.8" r="2.5"/><circle cx="376.2" cy="127.8" r="2.8"/><circle cx="380.7" cy="127.8" r="2.8"/><circle cx="394.2" cy="127.8" r="2.8"/><circle cx="416.7" cy="127.8" r="1.6"/><circle cx="373.9" cy="131.7" r="2.8"/><circle cx="378.4" cy="131.7" r="2.8"/><circle cx="382.9" cy="131.7" r="2.8"/><circle cx="391.9" cy="131.7" r="2.8"/><circle cx="396.4" cy="131.7" r="2.8"/><circle cx="400.9" cy="131.7" r="2.8"/><circle cx="405.4" cy="131.7" r="2.5"/><circle cx="418.9" cy="131.7" r="1.6"/><circle cx="353.7" cy="135.6" r="2.5"/><circle cx="358.2" cy="135.6" r="2.5"/><circle cx="371.7" cy="135.6" r="2.8"/><circle cx="380.7" cy="135.6" r="2.8"/><circle cx="385.2" cy="135.6" r="2.8"/><circle cx="389.7" cy="135.6" r="2.8"/><circle cx="394.2" cy="135.6" r="2.8"/><circle cx="398.7" cy="135.6" r="2.8"/><circle cx="403.2" cy="135.6" r="2.8"/><circle cx="407.7" cy="135.6" r="2.5"/><circle cx="360.4" cy="139.5" r="2.8"/><circle cx="373.9" cy="139.5" r="2.8"/><circle cx="378.4" cy="139.5" r="2.8"/><circle cx="382.9" cy="139.5" r="2.8"/><circle cx="387.4" cy="139.5" r="2.8"/><circle cx="391.9" cy="139.5" r="2.8"/><circle cx="396.4" cy="139.5" r="2.8"/><circle cx="353.7" cy="143.4" r="2.8"/><circle cx="358.2" cy="143.4" r="2.8"/><circle cx="367.2" cy="143.4" r="2.8"/><circle cx="371.7" cy="143.4" r="2.5"/><circle cx="376.2" cy="143.4" r="2.8"/><circle cx="380.7" cy="143.4" r="2.8"/><circle cx="385.2" cy="143.4" r="2.8"/><circle cx="394.2" cy="143.4" r="2.8"/><circle cx="398.7" cy="143.4" r="2.8"/><circle cx="403.2" cy="143.4" r="2.8"/><circle cx="407.7" cy="143.4" r="2.5"/><circle cx="412.2" cy="143.4" r="2.5"/><circle cx="355.9" cy="147.2" r="2.8"/><circle cx="360.4" cy="147.2" r="2.8"/><circle cx="364.9" cy="147.2" r="2.8"/><circle cx="373.9" cy="147.2" r="2.5"/><circle cx="378.4" cy="147.2" r="2.8"/><circle cx="382.9" cy="147.2" r="2.8"/><circle cx="387.4" cy="147.2" r="2.8"/><circle cx="391.9" cy="147.2" r="2.8"/><circle cx="396.4" cy="147.2" r="2.8"/><circle cx="400.9" cy="147.2" r="2.8"/><circle cx="405.4" cy="147.2" r="2.8"/><circle cx="353.7" cy="151.1" r="2.5"/><circle cx="358.2" cy="151.1" r="2.5"/><circle cx="362.7" cy="151.1" r="2.8"/><circle cx="367.2" cy="151.1" r="2.8"/><circle cx="371.7" cy="151.1" r="2.5"/><circle cx="380.7" cy="151.1" r="2.8"/><circle cx="389.7" cy="151.1" r="2.8"/><circle cx="394.2" cy="151.1" r="2.5"/><circle cx="412.2" cy="151.1" r="2.5"/><circle cx="324.4" cy="155" r="1.3"/><circle cx="346.9" cy="155" r="2.5"/><circle cx="360.4" cy="155" r="2.5"/><circle cx="396.4" cy="155" r="2.5"/><circle cx="405.4" cy="155" r="2.5"/><circle cx="349.2" cy="158.9" r="2.5"/><circle cx="358.2" cy="158.9" r="2.2"/><circle cx="385.2" cy="158.9" r="2.5"/><circle cx="398.7" cy="158.9" r="1.6"/><circle cx="407.7" cy="158.9" r="2.2"/><circle cx="346.9" cy="162.8" r="2.5"/><circle cx="351.4" cy="162.8" r="2.5"/><circle cx="369.4" cy="162.8" r="1.9"/><circle cx="378.4" cy="162.8" r="1.9"/><circle cx="389.7" cy="166.7" r="1.9"/><circle cx="403.2" cy="174.5" r="1.3"/><circle cx="322.2" cy="182.3" r="2.2"/><circle cx="371.7" cy="190.1" r="2.2"/><circle cx="394.2" cy="197.9" r="2.2"/><circle cx="355.9" cy="201.8" r="1.9"/><circle cx="355.9" cy="217.4" r="2.2"/><circle cx="349.2" cy="231.3" r="1.3"/><circle cx="371.7" cy="231.3" r="1.6"/><circle cx="344.7" cy="246.9" r="2.2"/><circle cx="333.4" cy="250.8" r="1.6"/><circle cx="355.9" cy="250.8" r="1.3"/><circle cx="373.9" cy="250.8" r="2.2"/><circle cx="362.7" cy="254.7" r="1.9"/><circle cx="369.4" cy="258.6" r="2.5"/><circle cx="387.4" cy="258.6" r="1.9"/><circle cx="367.2" cy="262.5" r="2.5"/><circle cx="376.2" cy="262.5" r="2.5"/><circle cx="369.4" cy="266.4" r="2.8"/><circle cx="373.9" cy="266.4" r="2.8"/><circle cx="367.2" cy="270.3" r="2.5"/><circle cx="371.7" cy="270.3" r="2.8"/><circle cx="376.2" cy="270.3" r="2.8"/><circle cx="385.2" cy="270.3" r="2.5"/><circle cx="398.7" cy="270.3" r="2.5"/><circle cx="416.7" cy="270.3" r="2.5"/><circle cx="351.4" cy="274.2" r="2.2"/><circle cx="369.4" cy="274.2" r="2.8"/><circle cx="373.9" cy="274.2" r="2.8"/><circle cx="378.4" cy="274.2" r="2.8"/><circle cx="382.9" cy="274.2" r="2.8"/><circle cx="409.9" cy="274.2" r="2.8"/><circle cx="414.4" cy="274.2" r="2.8"/><circle cx="423.4" cy="274.2" r="2.8"/><circle cx="432.4" cy="274.2" r="2.5"/><circle cx="362.7" cy="278.1" r="2.5"/><circle cx="371.7" cy="278.1" r="2.8"/><circle cx="380.7" cy="278.1" r="2.8"/><circle cx="385.2" cy="278.1" r="2.5"/><circle cx="389.7" cy="278.1" r="2.5"/><circle cx="412.2" cy="278.1" r="2.8"/><circle cx="416.7" cy="278.1" r="2.8"/><circle cx="425.7" cy="278.1" r="2.8"/><circle cx="430.2" cy="278.1" r="2.8"/><circle cx="439.2" cy="278.1" r="1.9"/><circle cx="369.4" cy="282" r="2.5"/><circle cx="382.9" cy="282" r="2.8"/><circle cx="400.9" cy="282" r="1.9"/><circle cx="405.4" cy="282" r="2.5"/><circle cx="427.9" cy="282" r="2.5"/><circle cx="432.4" cy="282" r="2.5"/><circle cx="358.2" cy="285.9" r="1.6"/><circle cx="371.7" cy="285.9" r="2.8"/><circle cx="376.2" cy="285.9" r="2.8"/><circle cx="380.7" cy="285.9" r="2.8"/><circle cx="385.2" cy="285.9" r="2.8"/><circle cx="394.2" cy="285.9" r="1.6"/><circle cx="430.2" cy="285.9" r="2.5"/><circle cx="346.9" cy="289.7" r="2.5"/><circle cx="360.4" cy="289.7" r="2.5"/><circle cx="364.9" cy="289.7" r="2.5"/><circle cx="369.4" cy="289.7" r="2.8"/><circle cx="378.4" cy="289.7" r="2.8"/><circle cx="382.9" cy="289.7" r="2.8"/><circle cx="409.9" cy="289.7" r="1.6"/><circle cx="418.9" cy="289.7" r="1.9"/><circle cx="432.4" cy="289.7" r="1.3"/><circle cx="317.7" cy="293.6" r="1.3"/><circle cx="353.7" cy="293.6" r="2.8"/><circle cx="367.2" cy="293.6" r="2.8"/><circle cx="371.7" cy="293.6" r="2.8"/><circle cx="376.2" cy="293.6" r="2.8"/><circle cx="385.2" cy="293.6" r="2.8"/><circle cx="394.2" cy="293.6" r="2.5"/><circle cx="346.9" cy="297.5" r="2.8"/><circle cx="351.4" cy="297.5" r="2.8"/><circle cx="355.9" cy="297.5" r="2.8"/><circle cx="360.4" cy="297.5" r="2.8"/><circle cx="364.9" cy="297.5" r="2.8"/><circle cx="373.9" cy="297.5" r="2.8"/><circle cx="378.4" cy="297.5" r="2.8"/><circle cx="387.4" cy="297.5" r="2.8"/><circle cx="396.4" cy="297.5" r="2.5"/><circle cx="405.4" cy="297.5" r="1.9"/><circle cx="418.9" cy="297.5" r="1.3"/><circle cx="340.2" cy="301.4" r="2.5"/><circle cx="353.7" cy="301.4" r="2.8"/><circle cx="358.2" cy="301.4" r="2.8"/><circle cx="362.7" cy="301.4" r="2.8"/><circle cx="367.2" cy="301.4" r="2.8"/><circle cx="371.7" cy="301.4" r="2.8"/><circle cx="376.2" cy="301.4" r="2.8"/><circle cx="380.7" cy="301.4" r="2.8"/><circle cx="385.2" cy="301.4" r="2.8"/><circle cx="389.7" cy="301.4" r="2.8"/><circle cx="398.7" cy="301.4" r="2.5"/><circle cx="360.4" cy="305.3" r="2.8"/><circle cx="369.4" cy="305.3" r="2.8"/><circle cx="373.9" cy="305.3" r="2.8"/><circle cx="378.4" cy="305.3" r="2.8"/><circle cx="382.9" cy="305.3" r="2.8"/><circle cx="391.9" cy="305.3" r="2.8"/><circle cx="400.9" cy="305.3" r="2.5"/><circle cx="423.4" cy="305.3" r="1.3"/><circle cx="344.7" cy="309.2" r="2.5"/><circle cx="358.2" cy="309.2" r="2.5"/><circle cx="367.2" cy="309.2" r="2.5"/><circle cx="371.7" cy="309.2" r="2.8"/><circle cx="380.7" cy="309.2" r="2.8"/><circle cx="385.2" cy="309.2" r="2.8"/><circle cx="394.2" cy="309.2" r="2.8"/><circle cx="403.2" cy="309.2" r="2.5"/><circle cx="369.4" cy="313.1" r="2.5"/><circle cx="378.4" cy="313.1" r="2.8"/><circle cx="382.9" cy="313.1" r="2.8"/><circle cx="387.4" cy="313.1" r="2.8"/><circle cx="391.9" cy="313.1" r="2.8"/><circle cx="396.4" cy="313.1" r="2.8"/><circle cx="400.9" cy="313.1" r="2.5"/><circle cx="380.7" cy="317" r="2.8"/><circle cx="385.2" cy="317" r="2.8"/><circle cx="389.7" cy="317" r="2.8"/><circle cx="398.7" cy="317" r="2.5"/><circle cx="382.9" cy="320.9" r="2.8"/><circle cx="396.4" cy="320.9" r="2.5"/><circle cx="371.7" cy="324.8" r="2.5"/><circle cx="380.7" cy="324.8" r="2.5"/><circle cx="385.2" cy="324.8" r="2.8"/><circle cx="389.7" cy="324.8" r="2.8"/><circle cx="369.4" cy="328.7" r="2.5"/><circle cx="373.9" cy="328.7" r="2.8"/><circle cx="382.9" cy="328.7" r="2.5"/><circle cx="400.9" cy="328.7" r="1.3"/><circle cx="362.7" cy="332.6" r="2.5"/><circle cx="371.7" cy="332.6" r="2.8"/><circle cx="389.7" cy="332.6" r="2.5"/><circle cx="394.2" cy="332.6" r="2.5"/><circle cx="369.4" cy="336.5" r="2.8"/><circle cx="373.9" cy="336.5" r="2.8"/><circle cx="391.9" cy="336.5" r="1.9"/><circle cx="432.4" cy="336.5" r="2.2"/><circle cx="358.2" cy="340.4" r="1.3"/><circle cx="371.7" cy="340.4" r="2.8"/><circle cx="380.7" cy="340.4" r="2.5"/><circle cx="394.2" cy="340.4" r="2.2"/><circle cx="351.4" cy="344.3" r="1.6"/><circle cx="364.9" cy="344.3" r="2.5"/><circle cx="378.4" cy="344.3" r="2.5"/><circle cx="362.7" cy="348.2" r="2.5"/><circle cx="380.7" cy="348.2" r="2.2"/><circle cx="362.7" cy="356" r="1.3"/>
</g>
<g fill="#98194c"><circle cx="240.3" cy="207" r="2.4"/><circle cx="242.7" cy="215.5" r="2.4"/><circle cx="237.9" cy="221.4" r="2.4"/><circle cx="235.5" cy="215.5" r="2.4"/><circle cx="226" cy="212" r="2.4"/><circle cx="224.7" cy="217.9" r="2.4"/><circle cx="250" cy="209.5" r="2.4"/><circle cx="263" cy="207" r="2.4"/><circle cx="271.4" cy="201" r="2.4"/><circle cx="243.8" cy="238.2" r="2.4"/><circle cx="255.8" cy="240.6" r="2.4"/><circle cx="257" cy="245.4" r="2.4"/><circle cx="266.6" cy="238.2" r="2.4"/><circle cx="269" cy="245.4" r="2.4"/><circle cx="272.6" cy="256.1" r="2.4"/><circle cx="281" cy="226.2" r="2.4"/><circle cx="281" cy="232.2" r="2.4"/><circle cx="280" cy="235" r="2.4"/><circle cx="285.7" cy="206" r="2.4"/><circle cx="241.5" cy="243" r="2.4"/><circle cx="230.7" cy="245.4" r="2.4"/><circle cx="217.5" cy="243" r="2.4"/><circle cx="232" cy="226" r="2.4"/><circle cx="250" cy="222" r="2.4"/><circle cx="260" cy="235" r="2.4"/><circle cx="275" cy="230" r="2.4"/><circle cx="269" cy="340" r="2.4"/><circle cx="263" cy="345" r="2.4"/><circle cx="275" cy="372" r="2.4"/><circle cx="268" cy="378" r="2.4"/><circle cx="282" cy="379" r="2.4"/><circle cx="278" cy="390" r="2.4"/><circle cx="266" cy="392" r="2.4"/><circle cx="392" cy="140" r="2.4"/><circle cx="395" cy="136" r="2.4"/><circle cx="381" cy="143" r="2.4"/><circle cx="383" cy="146" r="2.4"/></g>
<ellipse cx="247.4" cy="228.6" rx="4.9" ry="2.9" fill="#afc6bb"/>
<ellipse cx="240.3" cy="233.4" rx="3.3" ry="2.5" fill="#afc6bb"/>
<ellipse cx="273.8" cy="215.5" rx="4.9" ry="4.1" fill="#afc6bb"/>
<ellipse cx="272.6" cy="221.4" rx="3.3" ry="2.5" fill="#afc6bb"/>
<ellipse cx="249.8" cy="245.4" rx="3.3" ry="2.5" fill="#afc6bb"/>
<ellipse cx="213.9" cy="214.3" rx="3.3" ry="2.9" fill="#afc6bb"/>
<ellipse cx="203.2" cy="241.8" rx="2.9" ry="2.5" fill="#afc6bb"/>
<ellipse cx="223.5" cy="246.6" rx="2.5" ry="2.5" fill="#afc6bb"/>
<ellipse cx="284.5" cy="238.2" rx="2.5" ry="2.5" fill="#afc6bb"/>
<ellipse cx="278.5" cy="251.4" rx="2.5" ry="2.5" fill="#afc6bb"/>
<ellipse cx="267.8" cy="262.1" rx="3.3" ry="2.5" fill="#afc6bb"/>
<ellipse cx="233.1" cy="201.1" rx="2.5" ry="2.5" fill="#afc6bb"/>
<circle cx="217.2" cy="226.3" r="3" fill="#17a02a"/>
<circle cx="216.2" cy="225.7" r="3" fill="#17a02a"/>
<circle cx="216.6" cy="225.4" r="3" fill="#17a02a"/>
<circle cx="217.4" cy="224.7" r="3" fill="#17a02a"/>
<circle cx="218.2" cy="226.9" r="3" fill="#17a02a"/>
<circle cx="217" cy="229" r="2.4" fill="#0c6e18"/>
<circle cx="219.9" cy="204.7" r="2" fill="#17a02a"/>
<circle cx="264.2" cy="213.1" r="1.8" fill="#17a02a"/>
<circle cx="269" cy="217.9" r="2" fill="#0c6e18"/>
<circle cx="260.6" cy="228.6" r="2" fill="#17a02a"/>
<circle cx="264.2" cy="231" r="2" fill="#17a02a"/>
<circle cx="278.5" cy="239.4" r="1.6" fill="#06200a"/>
<circle cx="287.5" cy="216.1" r="1.6" fill="#17a02a"/>
<circle cx="204.4" cy="234.6" r="1.3" fill="#0c6e18"/>
<ellipse cx="244.2" cy="19" rx="4.9" ry="4.1" fill="#afc6bb"/>
<ellipse cx="213.5" cy="39.9" rx="4.9" ry="2" fill="#afc6bb"/>
<ellipse cx="270.7" cy="48.3" rx="5.7" ry="3.3" fill="#afc6bb"/>
<ellipse cx="270.7" cy="93" rx="4.9" ry="5.7" fill="#afc6bb"/>
<ellipse cx="209.3" cy="90.1" rx="4.1" ry="2.5" fill="#afc6bb"/>
<ellipse cx="247" cy="120.9" rx="2" ry="2" fill="#afc6bb"/>
<ellipse cx="236" cy="71" rx="4.1" ry="2" fill="#afc6bb"/>
<ellipse cx="252" cy="73" rx="3.3" ry="1.6" fill="#afc6bb"/>
<circle cx="244.9" cy="33.6" r="1.3" fill="#17a02a"/>
<circle cx="257.5" cy="32.9" r="1.6" fill="#17a02a"/>
<circle cx="226.8" cy="42.7" r="1.2" fill="#0c6e18"/>
<circle cx="265.8" cy="49.7" r="2" fill="#17a02a"/>
<circle cx="245.4" cy="72.9" r="1.9" fill="#17a02a"/>
<circle cx="246.3" cy="73.6" r="1.9" fill="#17a02a"/>
<circle cx="245.4" cy="75.2" r="1.9" fill="#17a02a"/>
<circle cx="245.6" cy="75.4" r="1.9" fill="#17a02a"/>
<circle cx="244.8" cy="74.2" r="1.9" fill="#17a02a"/>
<circle cx="223.3" cy="82.5" r="2.4" fill="#17a02a"/>
<circle cx="222" cy="80" r="1.4" fill="#06200a"/>
<circle cx="280.5" cy="80.4" r="1.6" fill="#17a02a"/>
<circle cx="243.1" cy="103.4" r="1.9" fill="#17a02a"/>
<circle cx="244.8" cy="104.4" r="1.9" fill="#17a02a"/>
<circle cx="243.8" cy="107.5" r="1.9" fill="#17a02a"/>
<circle cx="244.7" cy="103.9" r="1.9" fill="#17a02a"/>
<circle cx="243.6" cy="105.6" r="1.9" fill="#17a02a"/>
<circle cx="242" cy="104" r="1.6" fill="#06200a"/>
<circle cx="249.8" cy="118.1" r="1.6" fill="#17a02a"/>
<ellipse cx="209.1" cy="334.7" rx="3.3" ry="4.1" fill="#afc6bb"/>
<ellipse cx="225.9" cy="335.9" rx="3.3" ry="4.1" fill="#afc6bb"/>
<ellipse cx="257" cy="358.6" rx="2.5" ry="2.5" fill="#afc6bb"/>
<ellipse cx="272.6" cy="313.2" rx="2.5" ry="2.5" fill="#afc6bb"/>
<ellipse cx="273.8" cy="323.9" rx="2.9" ry="2.5" fill="#afc6bb"/>
<ellipse cx="263" cy="322.7" rx="3.3" ry="2.5" fill="#afc6bb"/>
<ellipse cx="291.7" cy="317.9" rx="2.5" ry="2.5" fill="#afc6bb"/>
<ellipse cx="283.3" cy="371.8" rx="2.5" ry="2.5" fill="#afc6bb"/>
<ellipse cx="283.3" cy="384.9" rx="2.5" ry="2.5" fill="#afc6bb"/>
<ellipse cx="289.3" cy="394.5" rx="2.5" ry="2.5" fill="#afc6bb"/>
<ellipse cx="308.4" cy="351.4" rx="2.5" ry="2.5" fill="#afc6bb"/>
<circle cx="265.4" cy="356.2" r="2" fill="#17a02a"/>
<circle cx="262.9" cy="371.1" r="3.3" fill="#17a02a"/>
<circle cx="264.2" cy="371.9" r="3.3" fill="#17a02a"/>
<circle cx="265.6" cy="369.6" r="3.3" fill="#17a02a"/>
<circle cx="266.7" cy="372.5" r="3.3" fill="#17a02a"/>
<circle cx="265" cy="369.7" r="3.3" fill="#17a02a"/>
<circle cx="266" cy="372.3" r="1.9" fill="#06200a"/>
<circle cx="266.5" cy="374" r="1.9" fill="#06200a"/>
<circle cx="265.9" cy="374.9" r="1.9" fill="#06200a"/>
<circle cx="266.1" cy="374.1" r="1.9" fill="#06200a"/>
<circle cx="266.5" cy="373.5" r="1.9" fill="#06200a"/>
<circle cx="271" cy="381.6" r="2.2" fill="#17a02a"/>
<circle cx="271.1" cy="381.3" r="2.2" fill="#17a02a"/>
<circle cx="270.8" cy="379.3" r="2.2" fill="#17a02a"/>
<circle cx="271.3" cy="380.9" r="2.2" fill="#17a02a"/>
<circle cx="272" cy="381" r="2.2" fill="#17a02a"/>
<circle cx="270" cy="383" r="1.6" fill="#0c6e18"/>
<circle cx="234.3" cy="359.8" r="2" fill="#17a02a"/>
<circle cx="234.3" cy="347.9" r="1.6" fill="#0c6e18"/>
<circle cx="247.4" cy="344.3" r="1.6" fill="#17a02a"/>
<circle cx="246.2" cy="373.6" r="1.6" fill="#17a02a"/>
<circle cx="231.9" cy="377.8" r="1.6" fill="#0c6e18"/>
<circle cx="285.7" cy="326.3" r="1.6" fill="#0c6e18"/>
<circle cx="298.9" cy="356.2" r="1.6" fill="#17a02a"/>
<circle cx="219.8" cy="391.6" r="2.8" fill="#17a02a"/>
<circle cx="218.4" cy="393.5" r="2.8" fill="#17a02a"/>
<circle cx="219.9" cy="390.6" r="2.8" fill="#17a02a"/>
<circle cx="219.6" cy="387.7" r="2.8" fill="#17a02a"/>
<circle cx="219.2" cy="393.4" r="2.8" fill="#17a02a"/>
<circle cx="221" cy="392" r="2" fill="#06200a"/>
<circle cx="253.4" cy="384.9" r="1.6" fill="#17a02a"/>
<circle cx="271.4" cy="392.1" r="2" fill="#0c6e18"/>
<circle cx="265.2" cy="412.3" r="3" fill="#fff"/>
<circle cx="249" cy="380" r="3" fill="#fff"/>
<ellipse cx="116.6" cy="126.3" rx="4.1" ry="3.3" fill="#afc6bb"/>
<ellipse cx="94.2" cy="186.9" rx="7.4" ry="3.3" fill="#afc6bb"/>
<ellipse cx="68.7" cy="107.1" rx="2.5" ry="2.5" fill="#afc6bb"/>
<ellipse cx="162.8" cy="135.8" rx="2.9" ry="2" fill="#afc6bb"/>
<ellipse cx="150" cy="148.6" rx="2.5" ry="2.5" fill="#afc6bb"/>
<ellipse cx="115" cy="172.5" rx="2.5" ry="2.5" fill="#afc6bb"/>
<ellipse cx="135.7" cy="191.6" rx="3.3" ry="2.5" fill="#afc6bb"/>
<circle cx="103.8" cy="118.3" r="2" fill="#17a02a"/>
<circle cx="118.1" cy="118.3" r="1.6" fill="#17a02a"/>
<circle cx="78.3" cy="131" r="1.6" fill="#0c6e18"/>
<circle cx="99.6" cy="146.6" r="2.8" fill="#17a02a"/>
<circle cx="95.9" cy="144" r="2.8" fill="#17a02a"/>
<circle cx="97.9" cy="148.2" r="2.8" fill="#17a02a"/>
<circle cx="97.3" cy="145.2" r="2.8" fill="#17a02a"/>
<circle cx="96.6" cy="145.7" r="2.8" fill="#17a02a"/>
<circle cx="97" cy="146" r="1.6" fill="#06200a"/>
<circle cx="122.5" cy="158.7" r="2.8" fill="#17a02a"/>
<circle cx="120.7" cy="156.2" r="2.8" fill="#17a02a"/>
<circle cx="123.3" cy="156.9" r="2.8" fill="#17a02a"/>
<circle cx="123" cy="156.6" r="2.8" fill="#17a02a"/>
<circle cx="123.5" cy="159.4" r="2.8" fill="#17a02a"/>
<circle cx="123" cy="154" r="2.4" fill="#0c6e18"/>
<circle cx="121" cy="162" r="2.4" fill="#17a02a"/>
<circle cx="91" cy="167.7" r="2" fill="#17a02a"/>
<circle cx="94.2" cy="177.3" r="2" fill="#17a02a"/>
<circle cx="129.3" cy="148.6" r="1.6" fill="#17a02a"/>
<circle cx="127.7" cy="190" r="2.4" fill="#0c6e18"/>
<circle cx="122.9" cy="180.5" r="1.6" fill="#17a02a"/>
<circle cx="145.3" cy="183.7" r="1.2" fill="#17a02a"/>
<circle cx="64.7" cy="105.5" r="1.2" fill="#17a02a"/>
<circle cx="83" cy="105.5" r="1" fill="#0c6e18"/>
<ellipse cx="107.2" cy="262.3" rx="2.9" ry="2.5" fill="#afc6bb"/>
<ellipse cx="104.4" cy="274.9" rx="2.9" ry="2.9" fill="#afc6bb"/>
<ellipse cx="91.9" cy="276.3" rx="2.5" ry="3.3" fill="#afc6bb"/>
<ellipse cx="83.5" cy="288.9" rx="2.5" ry="2.5" fill="#afc6bb"/>
<ellipse cx="79.3" cy="277.7" rx="2.5" ry="2" fill="#afc6bb"/>
<ellipse cx="163.1" cy="315.4" rx="5.7" ry="4.1" fill="#afc6bb"/>
<ellipse cx="171.4" cy="254" rx="2.5" ry="2.5" fill="#afc6bb"/>
<ellipse cx="142.1" cy="319.6" rx="2.5" ry="2.5" fill="#afc6bb"/>
<ellipse cx="114.2" cy="348.9" rx="2.5" ry="2.5" fill="#afc6bb"/>
<ellipse cx="124" cy="355.9" rx="3.3" ry="2" fill="#afc6bb"/>
<circle cx="101.6" cy="286.1" r="2" fill="#17a02a"/>
<circle cx="125.4" cy="288.2" r="2.4" fill="#0c6e18"/>
<circle cx="151.9" cy="276.3" r="1.8" fill="#17a02a"/>
<circle cx="167.3" cy="263" r="1.6" fill="#17a02a"/>
<circle cx="147.7" cy="301.4" r="2" fill="#17a02a"/>
<circle cx="133.2" cy="303.3" r="2.8" fill="#17a02a"/>
<circle cx="133.1" cy="306" r="2.8" fill="#17a02a"/>
<circle cx="133.9" cy="305.9" r="2.8" fill="#17a02a"/>
<circle cx="135.1" cy="305.1" r="2.8" fill="#17a02a"/>
<circle cx="135.3" cy="305.7" r="2.8" fill="#17a02a"/>
<circle cx="133" cy="303" r="2" fill="#06200a"/>
<circle cx="138.2" cy="323.9" r="1.9" fill="#17a02a"/>
<circle cx="138.3" cy="325.5" r="1.9" fill="#17a02a"/>
<circle cx="137.7" cy="324.3" r="1.9" fill="#17a02a"/>
<circle cx="137.2" cy="325.1" r="1.9" fill="#17a02a"/>
<circle cx="138.7" cy="324.1" r="1.9" fill="#17a02a"/>
<circle cx="105.8" cy="325.1" r="2" fill="#0c6e18"/>
<circle cx="86.3" cy="311.9" r="1.6" fill="#17a02a"/>
<circle cx="131.7" cy="337" r="1.6" fill="#17a02a"/>
<circle cx="154.7" cy="325.1" r="1" fill="#0c6e18"/>
<circle cx="93.3" cy="336.3" r="3" fill="#fff"/>
<circle cx="171.4" cy="348.9" r="3" fill="#fff"/>
<circle cx="172.8" cy="258.1" r="3" fill="#fff"/>
<circle cx="124" cy="273.5" r="2.5" fill="#fff"/>
<circle cx="114.2" cy="272.1" r="2.5" fill="#fff"/>
<circle cx="78" cy="323" r="3" fill="#fff"/>
<ellipse cx="352.3" cy="118.1" rx="2.5" ry="2.5" fill="#afc6bb"/>
<ellipse cx="354.7" cy="131.9" rx="2.5" ry="2.5" fill="#afc6bb"/>
<ellipse cx="359.5" cy="145" rx="2.9" ry="2.5" fill="#afc6bb"/>
<ellipse cx="365.5" cy="148.6" rx="2.5" ry="2.5" fill="#afc6bb"/>
<ellipse cx="396.6" cy="128.3" rx="2.5" ry="2.5" fill="#afc6bb"/>
<ellipse cx="404.9" cy="131.9" rx="2.5" ry="2.5" fill="#afc6bb"/>
<ellipse cx="397.8" cy="145" rx="2.5" ry="3.3" fill="#afc6bb"/>
<ellipse cx="372.6" cy="158.2" rx="3.3" ry="2.5" fill="#afc6bb"/>
<ellipse cx="340.3" cy="159.4" rx="2.5" ry="2.5" fill="#afc6bb"/>
<circle cx="371.4" cy="135.3" r="1.9" fill="#06200a"/>
<circle cx="372" cy="135" r="1.9" fill="#06200a"/>
<circle cx="371.6" cy="136.2" r="1.9" fill="#06200a"/>
<circle cx="370.7" cy="135.5" r="1.9" fill="#06200a"/>
<circle cx="371.4" cy="135.5" r="1.9" fill="#06200a"/>
<circle cx="372.5" cy="137" r="2" fill="#0c6e18"/>
<circle cx="369.1" cy="140.3" r="1.2" fill="#17a02a"/>
<circle cx="357.7" cy="128.3" r="1.6" fill="#17a02a"/>
<circle cx="358.3" cy="115.1" r="1.2" fill="#0c6e18"/>
<circle cx="418.1" cy="145.6" r="1.2" fill="#0c6e18"/>
<circle cx="353" cy="157" r="3" fill="#fff"/>
<ellipse cx="373" cy="267.2" rx="2.5" ry="2.5" fill="#afc6bb"/>
<ellipse cx="401" cy="280.5" rx="2.5" ry="2.5" fill="#afc6bb"/>
<ellipse cx="431.7" cy="277.7" rx="2.5" ry="2.5" fill="#afc6bb"/>
<ellipse cx="360.5" cy="295.8" rx="4.1" ry="3.3" fill="#afc6bb"/>
<ellipse cx="347.9" cy="298.6" rx="2.5" ry="2.5" fill="#afc6bb"/>
<ellipse cx="410.7" cy="311.2" rx="2.5" ry="2.5" fill="#afc6bb"/>
<ellipse cx="375.8" cy="330.7" rx="2.5" ry="2.5" fill="#afc6bb"/>
<ellipse cx="391.2" cy="341.9" rx="4.1" ry="3.3" fill="#afc6bb"/>
<ellipse cx="367.5" cy="347.5" rx="2.5" ry="2.5" fill="#afc6bb"/>
<ellipse cx="427.5" cy="351.7" rx="2.5" ry="2.5" fill="#afc6bb"/>
<circle cx="394" cy="275.3" r="2.5" fill="#17a02a"/>
<circle cx="394.7" cy="273.9" r="2.5" fill="#17a02a"/>
<circle cx="396.2" cy="275.3" r="2.5" fill="#17a02a"/>
<circle cx="394.4" cy="273.8" r="2.5" fill="#17a02a"/>
<circle cx="393.8" cy="275.2" r="2.5" fill="#17a02a"/>
<circle cx="396" cy="274" r="1.8" fill="#06200a"/>
<circle cx="405.1" cy="267.9" r="2" fill="#17a02a"/>
<circle cx="356.3" cy="280.5" r="2.4" fill="#17a02a"/>
<circle cx="361.9" cy="291.6" r="1.6" fill="#0c6e18"/>
<circle cx="375.6" cy="298.5" r="2.2" fill="#17a02a"/>
<circle cx="375.9" cy="298.9" r="2.2" fill="#17a02a"/>
<circle cx="375.4" cy="298.8" r="2.2" fill="#17a02a"/>
<circle cx="375.3" cy="297.4" r="2.2" fill="#17a02a"/>
<circle cx="374.4" cy="296.7" r="2.2" fill="#17a02a"/>
<circle cx="376" cy="297" r="1.8" fill="#06200a"/>
<circle cx="382.8" cy="297.2" r="1.6" fill="#17a02a"/>
<circle cx="388.4" cy="312.6" r="3.3" fill="#0c6e18"/>
<circle cx="387.1" cy="311.9" r="3.3" fill="#0c6e18"/>
<circle cx="387.7" cy="316" r="3.3" fill="#0c6e18"/>
<circle cx="388.8" cy="309.5" r="3.3" fill="#0c6e18"/>
<circle cx="388.2" cy="316.1" r="3.3" fill="#0c6e18"/>
<circle cx="390" cy="311" r="2.4" fill="#17a02a"/>
<circle cx="396.8" cy="308.4" r="2" fill="#17a02a"/>
<circle cx="387" cy="333.5" r="2.4" fill="#0c6e18"/>
<circle cx="370.3" cy="343.3" r="1.6" fill="#17a02a"/>
<circle cx="377.2" cy="249.8" r="1.3" fill="#0c6e18"/>
<circle cx="366.1" cy="253.3" r="1.2" fill="#0c6e18"/>
<circle cx="389.1" cy="260.9" r="1.3" fill="#17a02a"/>
<circle cx="381.4" cy="242.8" r="1" fill="#0c6e18"/>
<circle cx="388.4" cy="266.5" r="2.5" fill="#fff"/>
<circle cx="359.1" cy="322.4" r="3" fill="#fff"/>
<circle cx="416.3" cy="343.3" r="3" fill="#fff"/>
<circle cx="409.3" cy="336.3" r="2.5" fill="#fff"/>
<g stroke="#fff" stroke-opacity="0.45" stroke-width="1.4" fill="none">
<line x1="206" y1="150.5" x2="294" y2="151"/>
<line x1="294" y1="151" x2="336.5" y2="222"/>
<line x1="336.5" y1="222" x2="293.5" y2="293.5"/>
<line x1="293.5" y1="293.5" x2="206" y2="292.5"/>
<line x1="206" y1="292.5" x2="162" y2="221.5"/>
<line x1="162" y1="221.5" x2="206" y2="150.5"/>
<line x1="164" y1="80" x2="206" y2="150.5"/>
<line x1="336" y1="80" x2="294" y2="151"/>
<line x1="78" y1="221" x2="162" y2="221.5"/>
<line x1="336.5" y1="222" x2="420.5" y2="221.5"/>
<line x1="206" y1="292.5" x2="165" y2="360"/>
<line x1="293.5" y1="293.5" x2="334.4" y2="360"/>
</g>
<g fill="#fff" fill-opacity="0.75"><circle cx="210.6" cy="150.5" r="1.05"/><circle cx="215.3" cy="150.6" r="1.05"/><circle cx="219.9" cy="150.6" r="1.05"/><circle cx="224.5" cy="150.6" r="1.05"/><circle cx="229.2" cy="150.6" r="1.05"/><circle cx="233.8" cy="150.7" r="1.05"/><circle cx="238.4" cy="150.7" r="1.05"/><circle cx="243.1" cy="150.7" r="1.05"/><circle cx="247.7" cy="150.7" r="1.05"/><circle cx="252.3" cy="150.8" r="1.05"/><circle cx="256.9" cy="150.8" r="1.05"/><circle cx="261.6" cy="150.8" r="1.05"/><circle cx="266.2" cy="150.8" r="1.05"/><circle cx="270.8" cy="150.9" r="1.05"/><circle cx="275.5" cy="150.9" r="1.05"/><circle cx="280.1" cy="150.9" r="1.05"/><circle cx="284.7" cy="150.9" r="1.05"/><circle cx="289.4" cy="151" r="1.05"/><circle cx="296.5" cy="155.2" r="1.05"/><circle cx="299" cy="159.4" r="1.05"/><circle cx="301.5" cy="163.5" r="1.05"/><circle cx="304" cy="167.7" r="1.05"/><circle cx="306.5" cy="171.9" r="1.05"/><circle cx="309" cy="176.1" r="1.05"/><circle cx="311.5" cy="180.2" r="1.05"/><circle cx="314" cy="184.4" r="1.05"/><circle cx="316.5" cy="188.6" r="1.05"/><circle cx="319" cy="192.8" r="1.05"/><circle cx="321.5" cy="196.9" r="1.05"/><circle cx="324" cy="201.1" r="1.05"/><circle cx="326.5" cy="205.3" r="1.05"/><circle cx="329" cy="209.5" r="1.05"/><circle cx="331.5" cy="213.6" r="1.05"/><circle cx="334" cy="217.8" r="1.05"/><circle cx="334.1" cy="226" r="1.05"/><circle cx="331.7" cy="229.9" r="1.05"/><circle cx="329.3" cy="233.9" r="1.05"/><circle cx="326.9" cy="237.9" r="1.05"/><circle cx="324.6" cy="241.9" r="1.05"/><circle cx="322.2" cy="245.8" r="1.05"/><circle cx="319.8" cy="249.8" r="1.05"/><circle cx="317.4" cy="253.8" r="1.05"/><circle cx="315" cy="257.8" r="1.05"/><circle cx="312.6" cy="261.7" r="1.05"/><circle cx="310.2" cy="265.7" r="1.05"/><circle cx="307.8" cy="269.7" r="1.05"/><circle cx="305.4" cy="273.6" r="1.05"/><circle cx="303.1" cy="277.6" r="1.05"/><circle cx="300.7" cy="281.6" r="1.05"/><circle cx="298.3" cy="285.6" r="1.05"/><circle cx="295.9" cy="289.5" r="1.05"/><circle cx="288.9" cy="293.4" r="1.05"/><circle cx="284.3" cy="293.4" r="1.05"/><circle cx="279.7" cy="293.3" r="1.05"/><circle cx="275.1" cy="293.3" r="1.05"/><circle cx="270.5" cy="293.2" r="1.05"/><circle cx="265.9" cy="293.2" r="1.05"/><circle cx="261.3" cy="293.1" r="1.05"/><circle cx="256.7" cy="293.1" r="1.05"/><circle cx="252.1" cy="293" r="1.05"/><circle cx="247.4" cy="293" r="1.05"/><circle cx="242.8" cy="292.9" r="1.05"/><circle cx="238.2" cy="292.9" r="1.05"/><circle cx="233.6" cy="292.8" r="1.05"/><circle cx="229" cy="292.8" r="1.05"/><circle cx="224.4" cy="292.7" r="1.05"/><circle cx="219.8" cy="292.7" r="1.05"/><circle cx="215.2" cy="292.6" r="1.05"/><circle cx="210.6" cy="292.6" r="1.05"/><circle cx="203.6" cy="288.6" r="1.05"/><circle cx="201.1" cy="284.6" r="1.05"/><circle cx="198.7" cy="280.7" r="1.05"/><circle cx="196.2" cy="276.7" r="1.05"/><circle cx="193.8" cy="272.8" r="1.05"/><circle cx="191.3" cy="268.8" r="1.05"/><circle cx="188.9" cy="264.9" r="1.05"/><circle cx="186.4" cy="260.9" r="1.05"/><circle cx="184" cy="257" r="1.05"/><circle cx="181.6" cy="253.1" r="1.05"/><circle cx="179.1" cy="249.1" r="1.05"/><circle cx="176.7" cy="245.2" r="1.05"/><circle cx="174.2" cy="241.2" r="1.05"/><circle cx="171.8" cy="237.3" r="1.05"/><circle cx="169.3" cy="233.3" r="1.05"/><circle cx="166.9" cy="229.4" r="1.05"/><circle cx="164.4" cy="225.4" r="1.05"/><circle cx="164.4" cy="217.6" r="1.05"/><circle cx="166.9" cy="213.6" r="1.05"/><circle cx="169.3" cy="209.7" r="1.05"/><circle cx="171.8" cy="205.7" r="1.05"/><circle cx="174.2" cy="201.8" r="1.05"/><circle cx="176.7" cy="197.8" r="1.05"/><circle cx="179.1" cy="193.9" r="1.05"/><circle cx="181.6" cy="189.9" r="1.05"/><circle cx="184" cy="186" r="1.05"/><circle cx="186.4" cy="182.1" r="1.05"/><circle cx="188.9" cy="178.1" r="1.05"/><circle cx="191.3" cy="174.2" r="1.05"/><circle cx="193.8" cy="170.2" r="1.05"/><circle cx="196.2" cy="166.3" r="1.05"/><circle cx="198.7" cy="162.3" r="1.05"/><circle cx="201.1" cy="158.4" r="1.05"/><circle cx="203.6" cy="154.4" r="1.05"/><circle cx="166.5" cy="84.1" r="1.05"/><circle cx="168.9" cy="88.3" r="1.05"/><circle cx="171.4" cy="92.4" r="1.05"/><circle cx="173.9" cy="96.6" r="1.05"/><circle cx="176.4" cy="100.7" r="1.05"/><circle cx="178.8" cy="104.9" r="1.05"/><circle cx="181.3" cy="109" r="1.05"/><circle cx="183.8" cy="113.2" r="1.05"/><circle cx="186.2" cy="117.3" r="1.05"/><circle cx="188.7" cy="121.5" r="1.05"/><circle cx="191.2" cy="125.6" r="1.05"/><circle cx="193.6" cy="129.8" r="1.05"/><circle cx="196.1" cy="133.9" r="1.05"/><circle cx="198.6" cy="138.1" r="1.05"/><circle cx="201.1" cy="142.2" r="1.05"/><circle cx="203.5" cy="146.4" r="1.05"/><circle cx="333.5" cy="84.2" r="1.05"/><circle cx="331.1" cy="88.4" r="1.05"/><circle cx="328.6" cy="92.5" r="1.05"/><circle cx="326.1" cy="96.7" r="1.05"/><circle cx="323.6" cy="100.9" r="1.05"/><circle cx="321.2" cy="105.1" r="1.05"/><circle cx="318.7" cy="109.2" r="1.05"/><circle cx="316.2" cy="113.4" r="1.05"/><circle cx="313.8" cy="117.6" r="1.05"/><circle cx="311.3" cy="121.8" r="1.05"/><circle cx="308.8" cy="125.9" r="1.05"/><circle cx="306.4" cy="130.1" r="1.05"/><circle cx="303.9" cy="134.3" r="1.05"/><circle cx="301.4" cy="138.5" r="1.05"/><circle cx="298.9" cy="142.6" r="1.05"/><circle cx="296.5" cy="146.8" r="1.05"/><circle cx="82.7" cy="221" r="1.05"/><circle cx="87.3" cy="221.1" r="1.05"/><circle cx="92" cy="221.1" r="1.05"/><circle cx="96.7" cy="221.1" r="1.05"/><circle cx="101.3" cy="221.1" r="1.05"/><circle cx="106" cy="221.2" r="1.05"/><circle cx="110.7" cy="221.2" r="1.05"/><circle cx="115.3" cy="221.2" r="1.05"/><circle cx="120" cy="221.2" r="1.05"/><circle cx="124.7" cy="221.3" r="1.05"/><circle cx="129.3" cy="221.3" r="1.05"/><circle cx="134" cy="221.3" r="1.05"/><circle cx="138.7" cy="221.4" r="1.05"/><circle cx="143.3" cy="221.4" r="1.05"/><circle cx="148" cy="221.4" r="1.05"/><circle cx="152.7" cy="221.4" r="1.05"/><circle cx="157.3" cy="221.5" r="1.05"/><circle cx="341.2" cy="222" r="1.05"/><circle cx="345.8" cy="221.9" r="1.05"/><circle cx="350.5" cy="221.9" r="1.05"/><circle cx="355.2" cy="221.9" r="1.05"/><circle cx="359.8" cy="221.9" r="1.05"/><circle cx="364.5" cy="221.8" r="1.05"/><circle cx="369.2" cy="221.8" r="1.05"/><circle cx="373.8" cy="221.8" r="1.05"/><circle cx="378.5" cy="221.8" r="1.05"/><circle cx="383.2" cy="221.7" r="1.05"/><circle cx="387.8" cy="221.7" r="1.05"/><circle cx="392.5" cy="221.7" r="1.05"/><circle cx="397.2" cy="221.6" r="1.05"/><circle cx="401.8" cy="221.6" r="1.05"/><circle cx="406.5" cy="221.6" r="1.05"/><circle cx="411.2" cy="221.6" r="1.05"/><circle cx="415.8" cy="221.5" r="1.05"/><circle cx="203.6" cy="296.5" r="1.05"/><circle cx="201.2" cy="300.4" r="1.05"/><circle cx="198.8" cy="304.4" r="1.05"/><circle cx="196.4" cy="308.4" r="1.05"/><circle cx="193.9" cy="312.4" r="1.05"/><circle cx="191.5" cy="316.3" r="1.05"/><circle cx="189.1" cy="320.3" r="1.05"/><circle cx="186.7" cy="324.3" r="1.05"/><circle cx="184.3" cy="328.2" r="1.05"/><circle cx="181.9" cy="332.2" r="1.05"/><circle cx="179.5" cy="336.2" r="1.05"/><circle cx="177.1" cy="340.1" r="1.05"/><circle cx="174.6" cy="344.1" r="1.05"/><circle cx="172.2" cy="348.1" r="1.05"/><circle cx="169.8" cy="352.1" r="1.05"/><circle cx="167.4" cy="356" r="1.05"/><circle cx="296.1" cy="297.7" r="1.05"/><circle cx="298.6" cy="301.8" r="1.05"/><circle cx="301.2" cy="306" r="1.05"/><circle cx="303.7" cy="310.1" r="1.05"/><circle cx="306.3" cy="314.3" r="1.05"/><circle cx="308.8" cy="318.4" r="1.05"/><circle cx="311.4" cy="322.6" r="1.05"/><circle cx="313.9" cy="326.8" r="1.05"/><circle cx="316.5" cy="330.9" r="1.05"/><circle cx="319.1" cy="335.1" r="1.05"/><circle cx="321.6" cy="339.2" r="1.05"/><circle cx="324.2" cy="343.4" r="1.05"/><circle cx="326.7" cy="347.5" r="1.05"/><circle cx="329.3" cy="351.7" r="1.05"/><circle cx="331.8" cy="355.8" r="1.05"/></g>
<g fill="#fff"><ellipse cx="206" cy="150.5" rx="3.2" ry="3"/><ellipse cx="294" cy="151" rx="3.2" ry="3"/><ellipse cx="162" cy="221.5" rx="6" ry="4.6"/><ellipse cx="336.5" cy="222" rx="3.4" ry="3.2"/><ellipse cx="206" cy="292.5" rx="3.4" ry="3.2"/><ellipse cx="293.5" cy="293.5" rx="3.2" ry="3.2"/></g>
<polygon points="702.8,216.6 744.9,147.1 829.1,147.1 871.2,216.6 829.1,286.1 744.9,286.1" fill="#98194c" stroke="#98194c" stroke-width="1.4" stroke-linejoin="round"/>
<polygon points="705.3,74.5 746.6,6 829.4,6 870.7,74.5 829.4,143 746.6,143" fill="#98194c" stroke="#98194c" stroke-width="1.4" stroke-linejoin="round"/>
<polygon points="704.3,358.5 745.6,290 828.4,290 869.7,358.5 828.4,427 745.6,427" fill="#98194c" stroke="#98194c" stroke-width="1.4" stroke-linejoin="round"/>
<polygon points="577.3,145 618.1,76 699.9,76 740.7,145 699.9,214 618.1,214" fill="#98194c" stroke="#98194c" stroke-width="1.4" stroke-linejoin="round"/>
<polygon points="577.3,287.5 618.1,218.5 699.9,218.5 740.7,287.5 699.9,356.5 618.1,356.5" fill="#98194c" stroke="#98194c" stroke-width="1.4" stroke-linejoin="round"/>
<polygon points="833.3,145 874.1,76 955.9,76 996.7,145 955.9,214 874.1,214" fill="#98194c" stroke="#98194c" stroke-width="1.4" stroke-linejoin="round"/>
<polygon points="833.3,287.5 874.1,218.5 955.9,218.5 996.7,287.5 955.9,356.5 874.1,356.5" fill="#98194c" stroke="#98194c" stroke-width="1.4" stroke-linejoin="round"/>
<polygon points="702.5,216.6 744.8,146.9 829.2,146.9 871.5,216.6 829.2,286.3 744.8,286.3" fill="url(#lat)"/>
<polygon points="705,74.5 746.5,5.8 829.5,5.8 871,74.5 829.5,143.2 746.5,143.2" fill="url(#lat)"/>
<polygon points="704,358.5 745.5,289.8 828.5,289.8 870,358.5 828.5,427.2 745.5,427.2" fill="url(#lat)"/>
<polygon points="577,145 618,75.8 700,75.8 741,145 700,214.2 618,214.2" fill="url(#lat)"/>
<polygon points="577,287.5 618,218.3 700,218.3 741,287.5 700,356.7 618,356.7" fill="url(#lat)"/>
<polygon points="833,145 874,75.8 956,75.8 997,145 956,214.2 874,214.2" fill="url(#lat)"/>
<polygon points="833,287.5 874,218.3 956,218.3 997,287.5 956,356.7 874,356.7" fill="url(#lat)"/>
<polygon points="702.8,216.6 744.9,147.1 829.1,147.1 871.2,216.6 829.1,286.1 744.9,286.1" fill="none" stroke="#8c0f40" stroke-width="4.3" stroke-dasharray="0 4.5" stroke-linecap="round"/>
<polygon points="705.3,74.5 746.6,6 829.4,6 870.7,74.5 829.4,143 746.6,143" fill="none" stroke="#8c0f40" stroke-width="4.3" stroke-dasharray="0 4.5" stroke-linecap="round"/>
<polygon points="704.3,358.5 745.6,290 828.4,290 869.7,358.5 828.4,427 745.6,427" fill="none" stroke="#8c0f40" stroke-width="4.3" stroke-dasharray="0 4.5" stroke-linecap="round"/>
<polygon points="577.3,145 618.1,76 699.9,76 740.7,145 699.9,214 618.1,214" fill="none" stroke="#8c0f40" stroke-width="4.3" stroke-dasharray="0 4.5" stroke-linecap="round"/>
<polygon points="577.3,287.5 618.1,218.5 699.9,218.5 740.7,287.5 699.9,356.5 618.1,356.5" fill="none" stroke="#8c0f40" stroke-width="4.3" stroke-dasharray="0 4.5" stroke-linecap="round"/>
<polygon points="833.3,145 874.1,76 955.9,76 996.7,145 955.9,214 874.1,214" fill="none" stroke="#8c0f40" stroke-width="4.3" stroke-dasharray="0 4.5" stroke-linecap="round"/>
<polygon points="833.3,287.5 874.1,218.5 955.9,218.5 996.7,287.5 955.9,356.5 874.1,356.5" fill="none" stroke="#8c0f40" stroke-width="4.3" stroke-dasharray="0 4.5" stroke-linecap="round"/>
<g fill="#fff" fill-opacity="0.22">
<circle cx="754.5" cy="151" r="1.3"/><circle cx="759" cy="151" r="1.3"/><circle cx="743.2" cy="154.9" r="1.3"/><circle cx="747.7" cy="154.9" r="1.3"/><circle cx="783.7" cy="154.9" r="1.3"/><circle cx="792.7" cy="154.9" r="1.3"/><circle cx="819.7" cy="162.7" r="1.3"/><circle cx="741" cy="166.6" r="1.3"/><circle cx="763.5" cy="166.6" r="1.3"/><circle cx="799.5" cy="166.6" r="1.3"/><circle cx="817.5" cy="166.6" r="1.3"/><circle cx="826.5" cy="166.6" r="1.3"/><circle cx="840" cy="166.6" r="1.3"/><circle cx="792.7" cy="170.5" r="1.3"/><circle cx="819.7" cy="170.5" r="1.3"/><circle cx="833.2" cy="170.5" r="1.3"/><circle cx="790.5" cy="174.4" r="1.3"/><circle cx="817.5" cy="174.4" r="1.3"/><circle cx="831" cy="174.4" r="1.3"/><circle cx="835.5" cy="174.4" r="1.3"/><circle cx="770.2" cy="178.3" r="1.3"/><circle cx="774.7" cy="178.3" r="1.3"/><circle cx="783.7" cy="178.3" r="1.3"/><circle cx="788.2" cy="178.3" r="1.3"/><circle cx="768" cy="182.2" r="1.3"/><circle cx="790.5" cy="182.2" r="1.3"/><circle cx="826.5" cy="182.2" r="1.3"/><circle cx="734.2" cy="186.1" r="1.3"/><circle cx="738.7" cy="186.1" r="1.3"/><circle cx="743.2" cy="186.1" r="1.3"/><circle cx="765.7" cy="186.1" r="1.3"/><circle cx="741" cy="190" r="1.3"/><circle cx="763.5" cy="190" r="1.3"/><circle cx="768" cy="190" r="1.3"/><circle cx="786" cy="190" r="1.3"/><circle cx="817.5" cy="190" r="1.3"/><circle cx="835.5" cy="190" r="1.3"/><circle cx="756.7" cy="193.9" r="1.3"/><circle cx="741" cy="197.8" r="1.3"/><circle cx="858" cy="197.8" r="1.3"/><circle cx="788.2" cy="201.7" r="1.3"/><circle cx="709.5" cy="205.6" r="1.3"/><circle cx="745.5" cy="205.6" r="1.3"/><circle cx="804" cy="205.6" r="1.3"/><circle cx="826.5" cy="205.6" r="1.3"/><circle cx="716.2" cy="209.5" r="1.3"/><circle cx="714" cy="213.3" r="1.3"/><circle cx="718.5" cy="213.3" r="1.3"/><circle cx="790.5" cy="213.3" r="1.3"/><circle cx="849" cy="213.3" r="1.3"/><circle cx="707.2" cy="217.2" r="1.3"/><circle cx="806.2" cy="217.2" r="1.3"/><circle cx="810.7" cy="217.2" r="1.3"/><circle cx="819.7" cy="217.2" r="1.3"/><circle cx="837.7" cy="217.2" r="1.3"/><circle cx="864.7" cy="217.2" r="1.3"/><circle cx="736.5" cy="221.1" r="1.3"/><circle cx="741" cy="221.1" r="1.3"/><circle cx="745.5" cy="221.1" r="1.3"/><circle cx="759" cy="221.1" r="1.3"/><circle cx="781.5" cy="221.1" r="1.3"/><circle cx="790.5" cy="221.1" r="1.3"/><circle cx="795" cy="221.1" r="1.3"/><circle cx="799.5" cy="221.1" r="1.3"/><circle cx="808.5" cy="221.1" r="1.3"/><circle cx="853.5" cy="221.1" r="1.3"/><circle cx="783.7" cy="225" r="1.3"/><circle cx="828.7" cy="225" r="1.3"/><circle cx="851.2" cy="225" r="1.3"/><circle cx="860.2" cy="225" r="1.3"/><circle cx="795" cy="228.9" r="1.3"/><circle cx="745.5" cy="236.7" r="1.3"/><circle cx="840" cy="236.7" r="1.3"/><circle cx="725.2" cy="240.6" r="1.3"/><circle cx="765.7" cy="240.6" r="1.3"/><circle cx="801.7" cy="240.6" r="1.3"/><circle cx="810.7" cy="240.6" r="1.3"/><circle cx="815.2" cy="240.6" r="1.3"/><circle cx="842.2" cy="240.6" r="1.3"/><circle cx="851.2" cy="240.6" r="1.3"/><circle cx="727.5" cy="244.5" r="1.3"/><circle cx="768" cy="244.5" r="1.3"/><circle cx="808.5" cy="244.5" r="1.3"/><circle cx="831" cy="244.5" r="1.3"/><circle cx="729.7" cy="248.4" r="1.3"/><circle cx="761.2" cy="248.4" r="1.3"/><circle cx="788.2" cy="248.4" r="1.3"/><circle cx="797.2" cy="248.4" r="1.3"/><circle cx="815.2" cy="248.4" r="1.3"/><circle cx="732" cy="252.3" r="1.3"/><circle cx="741" cy="252.3" r="1.3"/><circle cx="729.7" cy="256.2" r="1.3"/><circle cx="752.2" cy="256.2" r="1.3"/><circle cx="824.2" cy="256.2" r="1.3"/><circle cx="745.5" cy="260.1" r="1.3"/><circle cx="752.2" cy="264" r="1.3"/><circle cx="824.2" cy="264" r="1.3"/><circle cx="806.2" cy="271.8" r="1.3"/><circle cx="768" cy="275.7" r="1.3"/><circle cx="799.5" cy="275.7" r="1.3"/><circle cx="813" cy="275.7" r="1.3"/><circle cx="835.5" cy="275.7" r="1.3"/><circle cx="756.7" cy="279.6" r="1.3"/><circle cx="774.7" cy="279.6" r="1.3"/><circle cx="828.7" cy="279.6" r="1.3"/><circle cx="745.5" cy="283.5" r="1.3"/><circle cx="750" cy="283.5" r="1.3"/><circle cx="817.5" cy="283.5" r="1.3"/><circle cx="826.5" cy="283.5" r="1.3"/><circle cx="829" cy="9.9" r="1.3"/><circle cx="768.2" cy="13.8" r="1.3"/><circle cx="826.7" cy="13.8" r="1.3"/><circle cx="775" cy="17.7" r="1.3"/><circle cx="833.5" cy="17.7" r="1.3"/><circle cx="781.7" cy="21.6" r="1.3"/><circle cx="808.7" cy="21.6" r="1.3"/><circle cx="790.7" cy="29.4" r="1.3"/><circle cx="804.2" cy="29.4" r="1.3"/><circle cx="734.5" cy="33.3" r="1.3"/><circle cx="761.5" cy="33.3" r="1.3"/><circle cx="732.2" cy="37.2" r="1.3"/><circle cx="759.2" cy="37.2" r="1.3"/><circle cx="831.2" cy="37.2" r="1.3"/><circle cx="844.7" cy="37.2" r="1.3"/><circle cx="730" cy="41.1" r="1.3"/><circle cx="743.5" cy="41.1" r="1.3"/><circle cx="793" cy="41.1" r="1.3"/><circle cx="797.5" cy="41.1" r="1.3"/><circle cx="829" cy="41.1" r="1.3"/><circle cx="847" cy="41.1" r="1.3"/><circle cx="763.7" cy="45" r="1.3"/><circle cx="835.7" cy="45" r="1.3"/><circle cx="849.2" cy="45" r="1.3"/><circle cx="739" cy="48.9" r="1.3"/><circle cx="775" cy="48.9" r="1.3"/><circle cx="784" cy="48.9" r="1.3"/><circle cx="829" cy="48.9" r="1.3"/><circle cx="851.5" cy="48.9" r="1.3"/><circle cx="768.2" cy="52.8" r="1.3"/><circle cx="822.2" cy="52.8" r="1.3"/><circle cx="826.7" cy="52.8" r="1.3"/><circle cx="831.2" cy="52.8" r="1.3"/><circle cx="739" cy="56.7" r="1.3"/><circle cx="784" cy="56.7" r="1.3"/><circle cx="793" cy="56.7" r="1.3"/><circle cx="838" cy="56.7" r="1.3"/><circle cx="840.2" cy="60.6" r="1.3"/><circle cx="858.2" cy="60.6" r="1.3"/><circle cx="788.5" cy="64.5" r="1.3"/><circle cx="797.5" cy="64.5" r="1.3"/><circle cx="838" cy="64.5" r="1.3"/><circle cx="856" cy="64.5" r="1.3"/><circle cx="718.7" cy="68.4" r="1.3"/><circle cx="781.7" cy="68.4" r="1.3"/><circle cx="817.7" cy="68.4" r="1.3"/><circle cx="707.5" cy="72.2" r="1.3"/><circle cx="730" cy="72.2" r="1.3"/><circle cx="752.5" cy="72.2" r="1.3"/><circle cx="768.2" cy="76.1" r="1.3"/><circle cx="840.2" cy="76.1" r="1.3"/><circle cx="844.7" cy="76.1" r="1.3"/><circle cx="775" cy="80" r="1.3"/><circle cx="802" cy="80" r="1.3"/><circle cx="732.2" cy="83.9" r="1.3"/><circle cx="736.7" cy="83.9" r="1.3"/><circle cx="754.7" cy="83.9" r="1.3"/><circle cx="768.2" cy="83.9" r="1.3"/><circle cx="862.7" cy="83.9" r="1.3"/><circle cx="743.5" cy="87.8" r="1.3"/><circle cx="784" cy="87.8" r="1.3"/><circle cx="811" cy="87.8" r="1.3"/><circle cx="813.2" cy="91.7" r="1.3"/><circle cx="835.7" cy="91.7" r="1.3"/><circle cx="725.5" cy="95.6" r="1.3"/><circle cx="797.5" cy="95.6" r="1.3"/><circle cx="815.5" cy="95.6" r="1.3"/><circle cx="829" cy="95.6" r="1.3"/><circle cx="723.2" cy="99.5" r="1.3"/><circle cx="732.2" cy="99.5" r="1.3"/><circle cx="781.7" cy="99.5" r="1.3"/><circle cx="844.7" cy="99.5" r="1.3"/><circle cx="775" cy="103.4" r="1.3"/><circle cx="788.5" cy="103.4" r="1.3"/><circle cx="727.7" cy="107.3" r="1.3"/><circle cx="754.7" cy="107.3" r="1.3"/><circle cx="759.2" cy="107.3" r="1.3"/><circle cx="763.7" cy="107.3" r="1.3"/><circle cx="781.7" cy="107.3" r="1.3"/><circle cx="808.7" cy="107.3" r="1.3"/><circle cx="813.2" cy="107.3" r="1.3"/><circle cx="826.7" cy="107.3" r="1.3"/><circle cx="831.2" cy="107.3" r="1.3"/><circle cx="840.2" cy="107.3" r="1.3"/><circle cx="739" cy="111.2" r="1.3"/><circle cx="793" cy="111.2" r="1.3"/><circle cx="824.5" cy="111.2" r="1.3"/><circle cx="799.7" cy="115.1" r="1.3"/><circle cx="804.2" cy="115.1" r="1.3"/><circle cx="817.7" cy="115.1" r="1.3"/><circle cx="822.2" cy="115.1" r="1.3"/><circle cx="743.5" cy="119" r="1.3"/><circle cx="752.5" cy="119" r="1.3"/><circle cx="757" cy="119" r="1.3"/><circle cx="815.5" cy="119" r="1.3"/><circle cx="763.7" cy="122.9" r="1.3"/><circle cx="835.7" cy="122.9" r="1.3"/><circle cx="748" cy="126.8" r="1.3"/><circle cx="788.5" cy="126.8" r="1.3"/><circle cx="754.7" cy="130.7" r="1.3"/><circle cx="759.2" cy="130.7" r="1.3"/><circle cx="817.7" cy="130.7" r="1.3"/><circle cx="766" cy="134.6" r="1.3"/><circle cx="833.5" cy="134.6" r="1.3"/><circle cx="802" cy="142.4" r="1.3"/><circle cx="824.5" cy="142.4" r="1.3"/><circle cx="765" cy="293.9" r="1.3"/><circle cx="774" cy="301.7" r="1.3"/><circle cx="778.5" cy="301.7" r="1.3"/><circle cx="805.5" cy="301.7" r="1.3"/><circle cx="753.7" cy="305.6" r="1.3"/><circle cx="798.7" cy="305.6" r="1.3"/><circle cx="803.2" cy="305.6" r="1.3"/><circle cx="830.2" cy="305.6" r="1.3"/><circle cx="834.7" cy="305.6" r="1.3"/><circle cx="747" cy="309.5" r="1.3"/><circle cx="765" cy="309.5" r="1.3"/><circle cx="810" cy="309.5" r="1.3"/><circle cx="740.2" cy="313.4" r="1.3"/><circle cx="789.7" cy="313.4" r="1.3"/><circle cx="798.7" cy="313.4" r="1.3"/><circle cx="812.2" cy="313.4" r="1.3"/><circle cx="830.2" cy="313.4" r="1.3"/><circle cx="834.7" cy="313.4" r="1.3"/><circle cx="805.5" cy="317.3" r="1.3"/><circle cx="753.7" cy="321.2" r="1.3"/><circle cx="812.2" cy="321.2" r="1.3"/><circle cx="830.2" cy="321.2" r="1.3"/><circle cx="742.5" cy="325.1" r="1.3"/><circle cx="814.5" cy="325.1" r="1.3"/><circle cx="823.5" cy="325.1" r="1.3"/><circle cx="828" cy="325.1" r="1.3"/><circle cx="726.7" cy="329" r="1.3"/><circle cx="758.2" cy="329" r="1.3"/><circle cx="794.2" cy="329" r="1.3"/><circle cx="807.7" cy="329" r="1.3"/><circle cx="756" cy="332.9" r="1.3"/><circle cx="810" cy="332.9" r="1.3"/><circle cx="841.5" cy="332.9" r="1.3"/><circle cx="726.7" cy="336.8" r="1.3"/><circle cx="753.7" cy="336.8" r="1.3"/><circle cx="767.2" cy="336.8" r="1.3"/><circle cx="780.7" cy="336.8" r="1.3"/><circle cx="789.7" cy="336.8" r="1.3"/><circle cx="803.2" cy="336.8" r="1.3"/><circle cx="839.2" cy="336.8" r="1.3"/><circle cx="715.5" cy="340.7" r="1.3"/><circle cx="720" cy="340.7" r="1.3"/><circle cx="832.5" cy="340.7" r="1.3"/><circle cx="855" cy="340.7" r="1.3"/><circle cx="774" cy="348.5" r="1.3"/><circle cx="841.5" cy="348.5" r="1.3"/><circle cx="846" cy="348.5" r="1.3"/><circle cx="722.2" cy="352.4" r="1.3"/><circle cx="807.7" cy="352.4" r="1.3"/><circle cx="848.2" cy="352.4" r="1.3"/><circle cx="756" cy="356.2" r="1.3"/><circle cx="760.5" cy="356.2" r="1.3"/><circle cx="819" cy="356.2" r="1.3"/><circle cx="753.7" cy="360.1" r="1.3"/><circle cx="767.2" cy="360.1" r="1.3"/><circle cx="839.2" cy="360.1" r="1.3"/><circle cx="733.5" cy="364" r="1.3"/><circle cx="783" cy="364" r="1.3"/><circle cx="801" cy="364" r="1.3"/><circle cx="805.5" cy="364" r="1.3"/><circle cx="832.5" cy="364" r="1.3"/><circle cx="841.5" cy="364" r="1.3"/><circle cx="717.7" cy="367.9" r="1.3"/><circle cx="735.7" cy="367.9" r="1.3"/><circle cx="780.7" cy="367.9" r="1.3"/><circle cx="821.2" cy="367.9" r="1.3"/><circle cx="720" cy="371.8" r="1.3"/><circle cx="796.5" cy="371.8" r="1.3"/><circle cx="823.5" cy="371.8" r="1.3"/><circle cx="846" cy="371.8" r="1.3"/><circle cx="850.5" cy="371.8" r="1.3"/><circle cx="740.2" cy="375.7" r="1.3"/><circle cx="767.2" cy="375.7" r="1.3"/><circle cx="776.2" cy="375.7" r="1.3"/><circle cx="798.7" cy="375.7" r="1.3"/><circle cx="803.2" cy="375.7" r="1.3"/><circle cx="834.7" cy="375.7" r="1.3"/><circle cx="733.5" cy="379.6" r="1.3"/><circle cx="765" cy="379.6" r="1.3"/><circle cx="769.5" cy="379.6" r="1.3"/><circle cx="846" cy="379.6" r="1.3"/><circle cx="722.2" cy="383.5" r="1.3"/><circle cx="762.7" cy="383.5" r="1.3"/><circle cx="776.2" cy="383.5" r="1.3"/><circle cx="834.7" cy="383.5" r="1.3"/><circle cx="733.5" cy="387.4" r="1.3"/><circle cx="742.5" cy="387.4" r="1.3"/><circle cx="751.5" cy="387.4" r="1.3"/><circle cx="828" cy="387.4" r="1.3"/><circle cx="731.2" cy="391.3" r="1.3"/><circle cx="816.7" cy="391.3" r="1.3"/><circle cx="821.2" cy="391.3" r="1.3"/><circle cx="834.7" cy="391.3" r="1.3"/><circle cx="843.7" cy="391.3" r="1.3"/><circle cx="751.5" cy="395.2" r="1.3"/><circle cx="756" cy="395.2" r="1.3"/><circle cx="805.5" cy="395.2" r="1.3"/><circle cx="832.5" cy="395.2" r="1.3"/><circle cx="740.2" cy="399.1" r="1.3"/><circle cx="744.7" cy="399.1" r="1.3"/><circle cx="749.2" cy="399.1" r="1.3"/><circle cx="758.2" cy="399.1" r="1.3"/><circle cx="843.7" cy="399.1" r="1.3"/><circle cx="760.5" cy="403" r="1.3"/><circle cx="792" cy="403" r="1.3"/><circle cx="796.5" cy="403" r="1.3"/><circle cx="821.2" cy="406.9" r="1.3"/><circle cx="756" cy="410.8" r="1.3"/><circle cx="760.5" cy="410.8" r="1.3"/><circle cx="769.5" cy="410.8" r="1.3"/><circle cx="792" cy="410.8" r="1.3"/><circle cx="810" cy="410.8" r="1.3"/><circle cx="837" cy="410.8" r="1.3"/><circle cx="767.2" cy="414.7" r="1.3"/><circle cx="751.5" cy="418.6" r="1.3"/><circle cx="765" cy="418.6" r="1.3"/><circle cx="758.2" cy="422.5" r="1.3"/><circle cx="780.7" cy="422.5" r="1.3"/><circle cx="803.2" cy="422.5" r="1.3"/><circle cx="825.7" cy="422.5" r="1.3"/><circle cx="765" cy="426.4" r="1.3"/><circle cx="696.5" cy="79.9" r="1.3"/><circle cx="622.2" cy="83.8" r="1.3"/><circle cx="626.7" cy="83.8" r="1.3"/><circle cx="629" cy="87.7" r="1.3"/><circle cx="701" cy="87.7" r="1.3"/><circle cx="617.7" cy="91.6" r="1.3"/><circle cx="644.7" cy="91.6" r="1.3"/><circle cx="660.5" cy="95.5" r="1.3"/><circle cx="683" cy="95.5" r="1.3"/><circle cx="631.2" cy="99.4" r="1.3"/><circle cx="635.7" cy="99.4" r="1.3"/><circle cx="640.2" cy="99.4" r="1.3"/><circle cx="694.2" cy="99.4" r="1.3"/><circle cx="698.7" cy="99.4" r="1.3"/><circle cx="683" cy="103.3" r="1.3"/><circle cx="701" cy="103.3" r="1.3"/><circle cx="714.5" cy="103.3" r="1.3"/><circle cx="622.2" cy="107.2" r="1.3"/><circle cx="671.7" cy="107.2" r="1.3"/><circle cx="707.7" cy="107.2" r="1.3"/><circle cx="606.5" cy="111.1" r="1.3"/><circle cx="629" cy="111.1" r="1.3"/><circle cx="642.5" cy="111.1" r="1.3"/><circle cx="669.5" cy="111.1" r="1.3"/><circle cx="683" cy="111.1" r="1.3"/><circle cx="710" cy="111.1" r="1.3"/><circle cx="599.7" cy="115" r="1.3"/><circle cx="613.2" cy="115" r="1.3"/><circle cx="653.7" cy="115" r="1.3"/><circle cx="703.2" cy="115" r="1.3"/><circle cx="716.7" cy="115" r="1.3"/><circle cx="620" cy="118.9" r="1.3"/><circle cx="624.5" cy="118.9" r="1.3"/><circle cx="629" cy="118.9" r="1.3"/><circle cx="656" cy="118.9" r="1.3"/><circle cx="696.5" cy="118.9" r="1.3"/><circle cx="590.7" cy="122.8" r="1.3"/><circle cx="608.7" cy="122.8" r="1.3"/><circle cx="622.2" cy="122.8" r="1.3"/><circle cx="662.7" cy="122.8" r="1.3"/><circle cx="667.2" cy="122.8" r="1.3"/><circle cx="703.2" cy="122.8" r="1.3"/><circle cx="624.5" cy="126.7" r="1.3"/><circle cx="665" cy="126.7" r="1.3"/><circle cx="674" cy="126.7" r="1.3"/><circle cx="678.5" cy="126.7" r="1.3"/><circle cx="692" cy="126.7" r="1.3"/><circle cx="696.5" cy="126.7" r="1.3"/><circle cx="723.5" cy="126.7" r="1.3"/><circle cx="595.2" cy="130.6" r="1.3"/><circle cx="626.7" cy="130.6" r="1.3"/><circle cx="635.7" cy="130.6" r="1.3"/><circle cx="658.2" cy="130.6" r="1.3"/><circle cx="676.2" cy="130.6" r="1.3"/><circle cx="694.2" cy="130.6" r="1.3"/><circle cx="593" cy="134.5" r="1.3"/><circle cx="687.5" cy="134.5" r="1.3"/><circle cx="696.5" cy="134.5" r="1.3"/><circle cx="719" cy="134.5" r="1.3"/><circle cx="599.7" cy="138.4" r="1.3"/><circle cx="626.7" cy="138.4" r="1.3"/><circle cx="640.2" cy="138.4" r="1.3"/><circle cx="667.2" cy="138.4" r="1.3"/><circle cx="680.7" cy="138.4" r="1.3"/><circle cx="712.2" cy="138.4" r="1.3"/><circle cx="721.2" cy="138.4" r="1.3"/><circle cx="725.7" cy="138.4" r="1.3"/><circle cx="602" cy="142.2" r="1.3"/><circle cx="638" cy="142.2" r="1.3"/><circle cx="674" cy="142.2" r="1.3"/><circle cx="590.7" cy="146.1" r="1.3"/><circle cx="671.7" cy="146.1" r="1.3"/><circle cx="721.2" cy="146.1" r="1.3"/><circle cx="739.2" cy="146.1" r="1.3"/><circle cx="597.5" cy="150" r="1.3"/><circle cx="606.5" cy="150" r="1.3"/><circle cx="629" cy="150" r="1.3"/><circle cx="665" cy="150" r="1.3"/><circle cx="714.5" cy="150" r="1.3"/><circle cx="617.7" cy="153.9" r="1.3"/><circle cx="638" cy="157.8" r="1.3"/><circle cx="669.5" cy="157.8" r="1.3"/><circle cx="723.5" cy="157.8" r="1.3"/><circle cx="728" cy="157.8" r="1.3"/><circle cx="732.5" cy="157.8" r="1.3"/><circle cx="595.2" cy="161.7" r="1.3"/><circle cx="604.2" cy="161.7" r="1.3"/><circle cx="667.2" cy="161.7" r="1.3"/><circle cx="685.2" cy="161.7" r="1.3"/><circle cx="703.2" cy="161.7" r="1.3"/><circle cx="624.5" cy="165.6" r="1.3"/><circle cx="638" cy="165.6" r="1.3"/><circle cx="660.5" cy="165.6" r="1.3"/><circle cx="692" cy="165.6" r="1.3"/><circle cx="728" cy="165.6" r="1.3"/><circle cx="604.2" cy="169.5" r="1.3"/><circle cx="613.2" cy="169.5" r="1.3"/><circle cx="626.7" cy="169.5" r="1.3"/><circle cx="694.2" cy="169.5" r="1.3"/><circle cx="716.7" cy="169.5" r="1.3"/><circle cx="611" cy="173.4" r="1.3"/><circle cx="651.5" cy="173.4" r="1.3"/><circle cx="696.5" cy="173.4" r="1.3"/><circle cx="680.7" cy="177.3" r="1.3"/><circle cx="685.2" cy="177.3" r="1.3"/><circle cx="687.5" cy="181.2" r="1.3"/><circle cx="710" cy="181.2" r="1.3"/><circle cx="626.7" cy="185.1" r="1.3"/><circle cx="685.2" cy="185.1" r="1.3"/><circle cx="606.5" cy="189" r="1.3"/><circle cx="615.5" cy="189" r="1.3"/><circle cx="633.5" cy="189" r="1.3"/><circle cx="651.5" cy="189" r="1.3"/><circle cx="674" cy="189" r="1.3"/><circle cx="694.2" cy="192.9" r="1.3"/><circle cx="620" cy="196.8" r="1.3"/><circle cx="642.5" cy="196.8" r="1.3"/><circle cx="705.5" cy="196.8" r="1.3"/><circle cx="622.2" cy="200.7" r="1.3"/><circle cx="685.2" cy="200.7" r="1.3"/><circle cx="703.2" cy="200.7" r="1.3"/><circle cx="615.5" cy="204.6" r="1.3"/><circle cx="629" cy="204.6" r="1.3"/><circle cx="633.5" cy="204.6" r="1.3"/><circle cx="689.7" cy="208.5" r="1.3"/><circle cx="629" cy="212.4" r="1.3"/><circle cx="642.5" cy="212.4" r="1.3"/><circle cx="687.5" cy="212.4" r="1.3"/><circle cx="629" cy="222.4" r="1.3"/><circle cx="638" cy="222.4" r="1.3"/><circle cx="692" cy="222.4" r="1.3"/><circle cx="635.7" cy="226.3" r="1.3"/><circle cx="685.2" cy="226.3" r="1.3"/><circle cx="703.2" cy="226.3" r="1.3"/><circle cx="642.5" cy="230.2" r="1.3"/><circle cx="651.5" cy="230.2" r="1.3"/><circle cx="687.5" cy="230.2" r="1.3"/><circle cx="626.7" cy="234.1" r="1.3"/><circle cx="644.7" cy="234.1" r="1.3"/><circle cx="649.2" cy="234.1" r="1.3"/><circle cx="698.7" cy="234.1" r="1.3"/><circle cx="620" cy="238" r="1.3"/><circle cx="660.5" cy="238" r="1.3"/><circle cx="669.5" cy="238" r="1.3"/><circle cx="613.2" cy="241.9" r="1.3"/><circle cx="644.7" cy="241.9" r="1.3"/><circle cx="712.2" cy="241.9" r="1.3"/><circle cx="642.5" cy="245.8" r="1.3"/><circle cx="665" cy="245.8" r="1.3"/><circle cx="678.5" cy="245.8" r="1.3"/><circle cx="631.2" cy="249.7" r="1.3"/><circle cx="667.2" cy="249.7" r="1.3"/><circle cx="676.2" cy="249.7" r="1.3"/><circle cx="698.7" cy="249.7" r="1.3"/><circle cx="597.5" cy="253.6" r="1.3"/><circle cx="615.5" cy="253.6" r="1.3"/><circle cx="651.5" cy="253.6" r="1.3"/><circle cx="604.2" cy="257.5" r="1.3"/><circle cx="613.2" cy="257.5" r="1.3"/><circle cx="658.2" cy="257.5" r="1.3"/><circle cx="676.2" cy="257.5" r="1.3"/><circle cx="680.7" cy="257.5" r="1.3"/><circle cx="606.5" cy="261.4" r="1.3"/><circle cx="624.5" cy="261.4" r="1.3"/><circle cx="633.5" cy="261.4" r="1.3"/><circle cx="642.5" cy="261.4" r="1.3"/><circle cx="683" cy="261.4" r="1.3"/><circle cx="710" cy="261.4" r="1.3"/><circle cx="590.7" cy="265.3" r="1.3"/><circle cx="626.7" cy="265.3" r="1.3"/><circle cx="698.7" cy="265.3" r="1.3"/><circle cx="725.7" cy="265.3" r="1.3"/><circle cx="597.5" cy="269.2" r="1.3"/><circle cx="633.5" cy="269.2" r="1.3"/><circle cx="642.5" cy="269.2" r="1.3"/><circle cx="701" cy="269.2" r="1.3"/><circle cx="710" cy="269.2" r="1.3"/><circle cx="595.2" cy="273.1" r="1.3"/><circle cx="599.7" cy="273.1" r="1.3"/><circle cx="622.2" cy="273.1" r="1.3"/><circle cx="631.2" cy="273.1" r="1.3"/><circle cx="653.7" cy="273.1" r="1.3"/><circle cx="658.2" cy="273.1" r="1.3"/><circle cx="698.7" cy="273.1" r="1.3"/><circle cx="602" cy="277" r="1.3"/><circle cx="620" cy="277" r="1.3"/><circle cx="642.5" cy="277" r="1.3"/><circle cx="674" cy="277" r="1.3"/><circle cx="678.5" cy="277" r="1.3"/><circle cx="687.5" cy="277" r="1.3"/><circle cx="705.5" cy="277" r="1.3"/><circle cx="653.7" cy="280.9" r="1.3"/><circle cx="698.7" cy="280.9" r="1.3"/><circle cx="579.5" cy="284.7" r="1.3"/><circle cx="597.5" cy="284.7" r="1.3"/><circle cx="620" cy="284.7" r="1.3"/><circle cx="624.5" cy="284.7" r="1.3"/><circle cx="629" cy="284.7" r="1.3"/><circle cx="647" cy="284.7" r="1.3"/><circle cx="581.7" cy="288.6" r="1.3"/><circle cx="586.2" cy="288.6" r="1.3"/><circle cx="608.7" cy="288.6" r="1.3"/><circle cx="662.7" cy="288.6" r="1.3"/><circle cx="671.7" cy="288.6" r="1.3"/><circle cx="694.2" cy="288.6" r="1.3"/><circle cx="584" cy="292.5" r="1.3"/><circle cx="597.5" cy="292.5" r="1.3"/><circle cx="633.5" cy="292.5" r="1.3"/><circle cx="638" cy="292.5" r="1.3"/><circle cx="723.5" cy="292.5" r="1.3"/><circle cx="586.2" cy="296.4" r="1.3"/><circle cx="613.2" cy="296.4" r="1.3"/><circle cx="626.7" cy="296.4" r="1.3"/><circle cx="649.2" cy="296.4" r="1.3"/><circle cx="707.7" cy="296.4" r="1.3"/><circle cx="597.5" cy="300.3" r="1.3"/><circle cx="642.5" cy="300.3" r="1.3"/><circle cx="651.5" cy="300.3" r="1.3"/><circle cx="669.5" cy="300.3" r="1.3"/><circle cx="692" cy="300.3" r="1.3"/><circle cx="705.5" cy="300.3" r="1.3"/><circle cx="676.2" cy="304.2" r="1.3"/><circle cx="680.7" cy="304.2" r="1.3"/><circle cx="685.2" cy="304.2" r="1.3"/><circle cx="712.2" cy="304.2" r="1.3"/><circle cx="716.7" cy="304.2" r="1.3"/><circle cx="647" cy="308.1" r="1.3"/><circle cx="651.5" cy="308.1" r="1.3"/><circle cx="669.5" cy="308.1" r="1.3"/><circle cx="674" cy="308.1" r="1.3"/><circle cx="692" cy="308.1" r="1.3"/><circle cx="696.5" cy="308.1" r="1.3"/><circle cx="728" cy="308.1" r="1.3"/><circle cx="599.7" cy="312" r="1.3"/><circle cx="640.2" cy="312" r="1.3"/><circle cx="680.7" cy="312" r="1.3"/><circle cx="651.5" cy="315.9" r="1.3"/><circle cx="660.5" cy="315.9" r="1.3"/><circle cx="687.5" cy="315.9" r="1.3"/><circle cx="689.7" cy="319.8" r="1.3"/><circle cx="721.2" cy="319.8" r="1.3"/><circle cx="615.5" cy="331.5" r="1.3"/><circle cx="647" cy="331.5" r="1.3"/><circle cx="687.5" cy="331.5" r="1.3"/><circle cx="622.2" cy="335.4" r="1.3"/><circle cx="671.7" cy="335.4" r="1.3"/><circle cx="676.2" cy="335.4" r="1.3"/><circle cx="689.7" cy="335.4" r="1.3"/><circle cx="611" cy="339.3" r="1.3"/><circle cx="656" cy="339.3" r="1.3"/><circle cx="685.2" cy="343.2" r="1.3"/><circle cx="620" cy="347.1" r="1.3"/><circle cx="656" cy="347.1" r="1.3"/><circle cx="701" cy="347.1" r="1.3"/><circle cx="635.7" cy="351" r="1.3"/><circle cx="624.5" cy="354.9" r="1.3"/><circle cx="916.5" cy="79.9" r="1.3"/><circle cx="921" cy="79.9" r="1.3"/><circle cx="957" cy="79.9" r="1.3"/><circle cx="905.2" cy="83.8" r="1.3"/><circle cx="871.5" cy="87.7" r="1.3"/><circle cx="876" cy="87.7" r="1.3"/><circle cx="885" cy="87.7" r="1.3"/><circle cx="952.5" cy="87.7" r="1.3"/><circle cx="945.7" cy="91.6" r="1.3"/><circle cx="930" cy="95.5" r="1.3"/><circle cx="939" cy="95.5" r="1.3"/><circle cx="943.5" cy="95.5" r="1.3"/><circle cx="882.7" cy="99.4" r="1.3"/><circle cx="896.2" cy="99.4" r="1.3"/><circle cx="941.2" cy="99.4" r="1.3"/><circle cx="894" cy="103.3" r="1.3"/><circle cx="921" cy="103.3" r="1.3"/><circle cx="925.5" cy="103.3" r="1.3"/><circle cx="966" cy="103.3" r="1.3"/><circle cx="882.7" cy="107.2" r="1.3"/><circle cx="905.2" cy="107.2" r="1.3"/><circle cx="932.2" cy="107.2" r="1.3"/><circle cx="950.2" cy="107.2" r="1.3"/><circle cx="968.2" cy="107.2" r="1.3"/><circle cx="885" cy="111.1" r="1.3"/><circle cx="943.5" cy="111.1" r="1.3"/><circle cx="878.2" cy="115" r="1.3"/><circle cx="905.2" cy="115" r="1.3"/><circle cx="950.2" cy="115" r="1.3"/><circle cx="876" cy="118.9" r="1.3"/><circle cx="903" cy="118.9" r="1.3"/><circle cx="921" cy="118.9" r="1.3"/><circle cx="939" cy="118.9" r="1.3"/><circle cx="943.5" cy="118.9" r="1.3"/><circle cx="957" cy="118.9" r="1.3"/><circle cx="979.5" cy="118.9" r="1.3"/><circle cx="846.7" cy="122.8" r="1.3"/><circle cx="855.7" cy="122.8" r="1.3"/><circle cx="873.7" cy="122.8" r="1.3"/><circle cx="887.2" cy="122.8" r="1.3"/><circle cx="945.7" cy="122.8" r="1.3"/><circle cx="844.5" cy="126.7" r="1.3"/><circle cx="853.5" cy="126.7" r="1.3"/><circle cx="912" cy="126.7" r="1.3"/><circle cx="934.5" cy="126.7" r="1.3"/><circle cx="873.7" cy="130.6" r="1.3"/><circle cx="905.2" cy="130.6" r="1.3"/><circle cx="927.7" cy="130.6" r="1.3"/><circle cx="945.7" cy="130.6" r="1.3"/><circle cx="849" cy="134.5" r="1.3"/><circle cx="894" cy="134.5" r="1.3"/><circle cx="921" cy="134.5" r="1.3"/><circle cx="934.5" cy="134.5" r="1.3"/><circle cx="869.2" cy="138.4" r="1.3"/><circle cx="905.2" cy="138.4" r="1.3"/><circle cx="885" cy="142.2" r="1.3"/><circle cx="952.5" cy="142.2" r="1.3"/><circle cx="970.5" cy="142.2" r="1.3"/><circle cx="975" cy="142.2" r="1.3"/><circle cx="988.5" cy="142.2" r="1.3"/><circle cx="851.2" cy="146.1" r="1.3"/><circle cx="903" cy="150" r="1.3"/><circle cx="907.5" cy="150" r="1.3"/><circle cx="961.5" cy="150" r="1.3"/><circle cx="963.7" cy="153.9" r="1.3"/><circle cx="981.7" cy="153.9" r="1.3"/><circle cx="925.5" cy="157.8" r="1.3"/><circle cx="952.5" cy="157.8" r="1.3"/><circle cx="846.7" cy="161.7" r="1.3"/><circle cx="900.7" cy="161.7" r="1.3"/><circle cx="918.7" cy="161.7" r="1.3"/><circle cx="927.7" cy="161.7" r="1.3"/><circle cx="986.2" cy="161.7" r="1.3"/><circle cx="849" cy="165.6" r="1.3"/><circle cx="925.5" cy="165.6" r="1.3"/><circle cx="975" cy="165.6" r="1.3"/><circle cx="864.7" cy="169.5" r="1.3"/><circle cx="882.7" cy="169.5" r="1.3"/><circle cx="905.2" cy="169.5" r="1.3"/><circle cx="927.7" cy="169.5" r="1.3"/><circle cx="968.2" cy="169.5" r="1.3"/><circle cx="981.7" cy="169.5" r="1.3"/><circle cx="921" cy="173.4" r="1.3"/><circle cx="934.5" cy="173.4" r="1.3"/><circle cx="966" cy="173.4" r="1.3"/><circle cx="905.2" cy="177.3" r="1.3"/><circle cx="941.2" cy="177.3" r="1.3"/><circle cx="950.2" cy="177.3" r="1.3"/><circle cx="972.7" cy="177.3" r="1.3"/><circle cx="977.2" cy="177.3" r="1.3"/><circle cx="862.5" cy="181.2" r="1.3"/><circle cx="898.5" cy="181.2" r="1.3"/><circle cx="912" cy="181.2" r="1.3"/><circle cx="975" cy="181.2" r="1.3"/><circle cx="873.7" cy="185.1" r="1.3"/><circle cx="909.7" cy="185.1" r="1.3"/><circle cx="963.7" cy="185.1" r="1.3"/><circle cx="862.5" cy="189" r="1.3"/><circle cx="889.5" cy="189" r="1.3"/><circle cx="957" cy="189" r="1.3"/><circle cx="887.2" cy="192.9" r="1.3"/><circle cx="936.7" cy="192.9" r="1.3"/><circle cx="954.7" cy="192.9" r="1.3"/><circle cx="876" cy="196.8" r="1.3"/><circle cx="889.5" cy="196.8" r="1.3"/><circle cx="912" cy="196.8" r="1.3"/><circle cx="921" cy="196.8" r="1.3"/><circle cx="925.5" cy="196.8" r="1.3"/><circle cx="930" cy="196.8" r="1.3"/><circle cx="943.5" cy="196.8" r="1.3"/><circle cx="882.7" cy="200.7" r="1.3"/><circle cx="918.7" cy="200.7" r="1.3"/><circle cx="936.7" cy="200.7" r="1.3"/><circle cx="876" cy="204.6" r="1.3"/><circle cx="885" cy="204.6" r="1.3"/><circle cx="912" cy="204.6" r="1.3"/><circle cx="939" cy="204.6" r="1.3"/><circle cx="891.7" cy="208.5" r="1.3"/><circle cx="896.2" cy="208.5" r="1.3"/><circle cx="876" cy="212.4" r="1.3"/><circle cx="880.5" cy="212.4" r="1.3"/><circle cx="889.5" cy="212.4" r="1.3"/><circle cx="894" cy="212.4" r="1.3"/><circle cx="916.5" cy="212.4" r="1.3"/><circle cx="876" cy="222.4" r="1.3"/><circle cx="885" cy="222.4" r="1.3"/><circle cx="885" cy="230.2" r="1.3"/><circle cx="912" cy="230.2" r="1.3"/><circle cx="916.5" cy="230.2" r="1.3"/><circle cx="930" cy="230.2" r="1.3"/><circle cx="934.5" cy="230.2" r="1.3"/><circle cx="914.2" cy="234.1" r="1.3"/><circle cx="903" cy="238" r="1.3"/><circle cx="925.5" cy="238" r="1.3"/><circle cx="966" cy="238" r="1.3"/><circle cx="878.2" cy="241.9" r="1.3"/><circle cx="923.2" cy="241.9" r="1.3"/><circle cx="936.7" cy="241.9" r="1.3"/><circle cx="916.5" cy="245.8" r="1.3"/><circle cx="855.7" cy="249.7" r="1.3"/><circle cx="869.2" cy="249.7" r="1.3"/><circle cx="891.7" cy="249.7" r="1.3"/><circle cx="936.7" cy="249.7" r="1.3"/><circle cx="945.7" cy="249.7" r="1.3"/><circle cx="876" cy="253.6" r="1.3"/><circle cx="885" cy="253.6" r="1.3"/><circle cx="948" cy="253.6" r="1.3"/><circle cx="977.2" cy="257.5" r="1.3"/><circle cx="858" cy="261.4" r="1.3"/><circle cx="880.5" cy="261.4" r="1.3"/><circle cx="894" cy="261.4" r="1.3"/><circle cx="846.7" cy="265.3" r="1.3"/><circle cx="918.7" cy="265.3" r="1.3"/><circle cx="932.2" cy="265.3" r="1.3"/><circle cx="849" cy="269.2" r="1.3"/><circle cx="939" cy="269.2" r="1.3"/><circle cx="952.5" cy="269.2" r="1.3"/><circle cx="957" cy="269.2" r="1.3"/><circle cx="961.5" cy="269.2" r="1.3"/><circle cx="975" cy="269.2" r="1.3"/><circle cx="851.2" cy="273.1" r="1.3"/><circle cx="869.2" cy="273.1" r="1.3"/><circle cx="887.2" cy="273.1" r="1.3"/><circle cx="932.2" cy="273.1" r="1.3"/><circle cx="959.2" cy="273.1" r="1.3"/><circle cx="963.7" cy="273.1" r="1.3"/><circle cx="972.7" cy="273.1" r="1.3"/><circle cx="853.5" cy="277" r="1.3"/><circle cx="916.5" cy="277" r="1.3"/><circle cx="934.5" cy="277" r="1.3"/><circle cx="948" cy="277" r="1.3"/><circle cx="966" cy="277" r="1.3"/><circle cx="887.2" cy="280.9" r="1.3"/><circle cx="932.2" cy="280.9" r="1.3"/><circle cx="981.7" cy="280.9" r="1.3"/><circle cx="844.5" cy="284.7" r="1.3"/><circle cx="867" cy="284.7" r="1.3"/><circle cx="943.5" cy="284.7" r="1.3"/><circle cx="873.7" cy="288.6" r="1.3"/><circle cx="941.2" cy="288.6" r="1.3"/><circle cx="977.2" cy="288.6" r="1.3"/><circle cx="990.7" cy="288.6" r="1.3"/><circle cx="844.5" cy="292.5" r="1.3"/><circle cx="898.5" cy="292.5" r="1.3"/><circle cx="961.5" cy="292.5" r="1.3"/><circle cx="988.5" cy="292.5" r="1.3"/><circle cx="846.7" cy="296.4" r="1.3"/><circle cx="851.2" cy="296.4" r="1.3"/><circle cx="855.7" cy="296.4" r="1.3"/><circle cx="945.7" cy="296.4" r="1.3"/><circle cx="954.7" cy="296.4" r="1.3"/><circle cx="968.2" cy="296.4" r="1.3"/><circle cx="972.7" cy="296.4" r="1.3"/><circle cx="858" cy="300.3" r="1.3"/><circle cx="876" cy="300.3" r="1.3"/><circle cx="925.5" cy="300.3" r="1.3"/><circle cx="966" cy="300.3" r="1.3"/><circle cx="869.2" cy="304.2" r="1.3"/><circle cx="882.7" cy="304.2" r="1.3"/><circle cx="909.7" cy="304.2" r="1.3"/><circle cx="950.2" cy="304.2" r="1.3"/><circle cx="880.5" cy="308.1" r="1.3"/><circle cx="900.7" cy="312" r="1.3"/><circle cx="927.7" cy="312" r="1.3"/><circle cx="932.2" cy="312" r="1.3"/><circle cx="867" cy="315.9" r="1.3"/><circle cx="903" cy="315.9" r="1.3"/><circle cx="921" cy="315.9" r="1.3"/><circle cx="952.5" cy="315.9" r="1.3"/><circle cx="957" cy="315.9" r="1.3"/><circle cx="878.2" cy="319.8" r="1.3"/><circle cx="914.2" cy="319.8" r="1.3"/><circle cx="959.2" cy="319.8" r="1.3"/><circle cx="968.2" cy="319.8" r="1.3"/><circle cx="858" cy="323.7" r="1.3"/><circle cx="889.5" cy="323.7" r="1.3"/><circle cx="907.5" cy="323.7" r="1.3"/><circle cx="970.5" cy="323.7" r="1.3"/><circle cx="864.7" cy="327.6" r="1.3"/><circle cx="909.7" cy="327.6" r="1.3"/><circle cx="950.2" cy="327.6" r="1.3"/><circle cx="957" cy="331.5" r="1.3"/><circle cx="878.2" cy="335.4" r="1.3"/><circle cx="887.2" cy="335.4" r="1.3"/><circle cx="936.7" cy="335.4" r="1.3"/><circle cx="954.7" cy="335.4" r="1.3"/><circle cx="885" cy="339.3" r="1.3"/><circle cx="889.5" cy="339.3" r="1.3"/><circle cx="961.5" cy="339.3" r="1.3"/><circle cx="869.2" cy="343.2" r="1.3"/><circle cx="941.2" cy="343.2" r="1.3"/><circle cx="907.5" cy="347.1" r="1.3"/><circle cx="925.5" cy="347.1" r="1.3"/><circle cx="939" cy="347.1" r="1.3"/><circle cx="957" cy="347.1" r="1.3"/><circle cx="914.2" cy="351" r="1.3"/><circle cx="898.5" cy="354.9" r="1.3"/><circle cx="907.5" cy="354.9" r="1.3"/><circle cx="943.5" cy="354.9" r="1.3"/><circle cx="948" cy="354.9" r="1.3"/>
</g>
<g fill="#fff">
<circle cx="835.5" cy="166.6" r="1.9"/><circle cx="747.7" cy="170.5" r="1.3"/><circle cx="765.7" cy="170.5" r="1.3"/><circle cx="779.2" cy="178.3" r="1.6"/><circle cx="833.2" cy="178.3" r="1.3"/><circle cx="741" cy="182.2" r="1.3"/><circle cx="763.5" cy="182.2" r="2.2"/><circle cx="786" cy="182.2" r="2.2"/><circle cx="813" cy="182.2" r="1.3"/><circle cx="718.5" cy="197.8" r="2.2"/><circle cx="808.5" cy="197.8" r="2.2"/><circle cx="819.7" cy="201.7" r="1.3"/><circle cx="851.2" cy="217.2" r="1.3"/><circle cx="768" cy="221.1" r="1.9"/><circle cx="810.7" cy="232.8" r="1.3"/><circle cx="855.7" cy="232.8" r="1.6"/><circle cx="747.7" cy="240.6" r="2.2"/><circle cx="822" cy="244.5" r="1.3"/><circle cx="810.7" cy="248.4" r="2.2"/><circle cx="743.2" cy="264" r="1.3"/><circle cx="756.7" cy="264" r="1.9"/><circle cx="833.2" cy="264" r="2.2"/><circle cx="819.7" cy="271.8" r="1.3"/><circle cx="745.5" cy="275.7" r="1.9"/><circle cx="804" cy="283.5" r="1.3"/><circle cx="788.5" cy="9.9" r="1.3"/><circle cx="822.2" cy="21.6" r="2.2"/><circle cx="826.7" cy="21.6" r="1.3"/><circle cx="739" cy="25.5" r="2.2"/><circle cx="804.2" cy="37.2" r="1.6"/><circle cx="838" cy="41.1" r="1.9"/><circle cx="804.2" cy="45" r="1.3"/><circle cx="786.2" cy="52.8" r="1.3"/><circle cx="790.7" cy="52.8" r="1.6"/><circle cx="797.5" cy="56.7" r="1.3"/><circle cx="815.5" cy="56.7" r="1.3"/><circle cx="709.7" cy="68.4" r="1.6"/><circle cx="754.7" cy="68.4" r="1.9"/><circle cx="833.5" cy="72.2" r="1.3"/><circle cx="727.7" cy="76.1" r="1.6"/><circle cx="842.5" cy="80" r="1.6"/><circle cx="851.5" cy="80" r="1.3"/><circle cx="858.2" cy="91.7" r="1.6"/><circle cx="766" cy="95.6" r="2.2"/><circle cx="786.2" cy="107.3" r="2.2"/><circle cx="770.5" cy="119" r="1.9"/><circle cx="777.2" cy="122.9" r="1.6"/><circle cx="763.7" cy="130.7" r="2.2"/><circle cx="784" cy="134.6" r="1.3"/><circle cx="771.7" cy="297.8" r="2.2"/><circle cx="796.5" cy="301.7" r="1.3"/><circle cx="742.5" cy="309.5" r="2.2"/><circle cx="805.5" cy="309.5" r="1.3"/><circle cx="733.5" cy="317.3" r="1.9"/><circle cx="803.2" cy="321.2" r="1.3"/><circle cx="816.7" cy="321.2" r="1.6"/><circle cx="825.7" cy="321.2" r="1.9"/><circle cx="735.7" cy="329" r="1.9"/><circle cx="828" cy="332.9" r="1.9"/><circle cx="738" cy="348.5" r="2.2"/><circle cx="805.5" cy="348.5" r="1.6"/><circle cx="711" cy="364" r="1.9"/><circle cx="803.2" cy="367.9" r="1.6"/><circle cx="839.2" cy="367.9" r="1.9"/><circle cx="715.5" cy="371.8" r="1.6"/><circle cx="841.5" cy="371.8" r="1.9"/><circle cx="814.5" cy="379.6" r="1.3"/><circle cx="785.2" cy="383.5" r="1.6"/><circle cx="814.5" cy="387.4" r="2.2"/><circle cx="749.2" cy="391.3" r="2.2"/><circle cx="733.5" cy="395.2" r="1.6"/><circle cx="823.5" cy="395.2" r="1.6"/><circle cx="794.2" cy="399.1" r="2.2"/><circle cx="830.2" cy="399.1" r="1.6"/><circle cx="794.2" cy="406.9" r="1.9"/><circle cx="807.7" cy="406.9" r="1.9"/><circle cx="830.2" cy="414.7" r="1.3"/><circle cx="828" cy="426.4" r="2.2"/><circle cx="674" cy="87.7" r="1.9"/><circle cx="613.2" cy="91.6" r="1.3"/><circle cx="669.5" cy="103.3" r="1.6"/><circle cx="680.7" cy="107.2" r="1.6"/><circle cx="678.5" cy="111.1" r="2.2"/><circle cx="669.5" cy="126.7" r="1.3"/><circle cx="687.5" cy="126.7" r="2.2"/><circle cx="719" cy="126.7" r="1.3"/><circle cx="723.5" cy="134.5" r="1.9"/><circle cx="613.2" cy="146.1" r="1.3"/><circle cx="631.2" cy="146.1" r="2.2"/><circle cx="624.5" cy="150" r="1.3"/><circle cx="595.2" cy="153.9" r="2.2"/><circle cx="667.2" cy="153.9" r="1.9"/><circle cx="687.5" cy="173.4" r="2.2"/><circle cx="707.7" cy="177.3" r="1.9"/><circle cx="705.5" cy="181.2" r="1.3"/><circle cx="714.5" cy="181.2" r="1.6"/><circle cx="680.7" cy="185.1" r="1.6"/><circle cx="642.5" cy="189" r="2.2"/><circle cx="662.7" cy="208.5" r="2.2"/><circle cx="671.7" cy="208.5" r="1.9"/><circle cx="629" cy="230.2" r="1.6"/><circle cx="629" cy="238" r="1.3"/><circle cx="674" cy="261.4" r="1.3"/><circle cx="608.7" cy="265.3" r="2.2"/><circle cx="617.7" cy="273.1" r="2.2"/><circle cx="629" cy="277" r="2.2"/><circle cx="667.2" cy="280.9" r="1.6"/><circle cx="683" cy="284.7" r="2.2"/><circle cx="692" cy="284.7" r="1.9"/><circle cx="602" cy="292.5" r="1.6"/><circle cx="590.7" cy="296.4" r="2.2"/><circle cx="678.5" cy="300.3" r="1.9"/><circle cx="710" cy="300.3" r="1.6"/><circle cx="647" cy="315.9" r="2.2"/><circle cx="692" cy="323.7" r="2.2"/><circle cx="705.5" cy="323.7" r="1.9"/><circle cx="662.7" cy="335.4" r="2.2"/><circle cx="676.2" cy="343.2" r="1.3"/><circle cx="626.7" cy="351" r="1.9"/><circle cx="696.5" cy="354.9" r="1.9"/><circle cx="943.5" cy="79.9" r="1.6"/><circle cx="927.7" cy="83.8" r="1.9"/><circle cx="903" cy="87.7" r="1.3"/><circle cx="923.2" cy="99.4" r="1.3"/><circle cx="914.2" cy="107.2" r="1.6"/><circle cx="972.7" cy="107.2" r="1.9"/><circle cx="907.5" cy="118.9" r="1.3"/><circle cx="900.7" cy="122.8" r="1.9"/><circle cx="878.2" cy="130.6" r="1.6"/><circle cx="914.2" cy="138.4" r="2.2"/><circle cx="988.5" cy="150" r="1.6"/><circle cx="849" cy="157.8" r="1.9"/><circle cx="876" cy="157.8" r="1.9"/><circle cx="909.7" cy="161.7" r="2.2"/><circle cx="981.7" cy="161.7" r="1.6"/><circle cx="880.5" cy="165.6" r="1.6"/><circle cx="916.5" cy="165.6" r="1.6"/><circle cx="858" cy="173.4" r="1.6"/><circle cx="900.7" cy="177.3" r="2.2"/><circle cx="885" cy="181.2" r="1.6"/><circle cx="939" cy="181.2" r="1.3"/><circle cx="961.5" cy="189" r="1.9"/><circle cx="916.5" cy="196.8" r="2.2"/><circle cx="934.5" cy="196.8" r="1.6"/><circle cx="880.5" cy="204.6" r="1.6"/><circle cx="871.5" cy="230.2" r="2.2"/><circle cx="952.5" cy="238" r="1.3"/><circle cx="864.7" cy="249.7" r="1.6"/><circle cx="914.2" cy="249.7" r="1.9"/><circle cx="950.2" cy="257.5" r="2.2"/><circle cx="934.5" cy="261.4" r="1.6"/><circle cx="867" cy="277" r="1.6"/><circle cx="907.5" cy="277" r="1.3"/><circle cx="959.2" cy="280.9" r="1.9"/><circle cx="903" cy="284.7" r="1.6"/><circle cx="862.5" cy="292.5" r="1.3"/><circle cx="930" cy="292.5" r="1.9"/><circle cx="932.2" cy="304.2" r="1.6"/><circle cx="864.7" cy="312" r="2.2"/><circle cx="887.2" cy="312" r="1.3"/><circle cx="981.7" cy="312" r="1.9"/><circle cx="867" cy="331.5" r="2.2"/><circle cx="945.7" cy="335.4" r="1.3"/><circle cx="939" cy="339.3" r="1.6"/><circle cx="936.7" cy="343.2" r="2.2"/>
</g>
<g stroke="#fff" stroke-opacity="0.45" stroke-width="1.4" fill="none">
<line x1="743.6" y1="145.2" x2="831.3" y2="146.3"/>
<line x1="831.3" y1="146.3" x2="873" y2="216.5"/>
<line x1="873" y1="216.5" x2="830.3" y2="287.8"/>
<line x1="830.3" y1="287.8" x2="743.6" y2="286.7"/>
<line x1="743.6" y1="286.7" x2="700.8" y2="216.5"/>
<line x1="700.8" y1="216.5" x2="743.6" y2="145.2"/>
<line x1="704" y1="76.8" x2="743.6" y2="145.2"/>
<line x1="870.5" y1="76.8" x2="831.3" y2="146.3"/>
<line x1="617" y1="216.5" x2="700.8" y2="216.5"/>
<line x1="873" y1="216.5" x2="957" y2="216.5"/>
<line x1="743.6" y1="286.7" x2="702" y2="358"/>
<line x1="830.3" y1="287.8" x2="872" y2="358"/>
</g>
<g fill="#fff" fill-opacity="0.75"><circle cx="748.2" cy="145.3" r="1.05"/><circle cx="752.8" cy="145.3" r="1.05"/><circle cx="757.4" cy="145.4" r="1.05"/><circle cx="762.1" cy="145.4" r="1.05"/><circle cx="766.7" cy="145.5" r="1.05"/><circle cx="771.3" cy="145.5" r="1.05"/><circle cx="775.9" cy="145.6" r="1.05"/><circle cx="780.5" cy="145.7" r="1.05"/><circle cx="785.1" cy="145.7" r="1.05"/><circle cx="789.8" cy="145.8" r="1.05"/><circle cx="794.4" cy="145.8" r="1.05"/><circle cx="799" cy="145.9" r="1.05"/><circle cx="803.6" cy="146" r="1.05"/><circle cx="808.2" cy="146" r="1.05"/><circle cx="812.8" cy="146.1" r="1.05"/><circle cx="817.5" cy="146.1" r="1.05"/><circle cx="822.1" cy="146.2" r="1.05"/><circle cx="826.7" cy="146.2" r="1.05"/><circle cx="833.8" cy="150.4" r="1.05"/><circle cx="836.2" cy="154.6" r="1.05"/><circle cx="838.7" cy="158.7" r="1.05"/><circle cx="841.1" cy="162.8" r="1.05"/><circle cx="843.6" cy="166.9" r="1.05"/><circle cx="846" cy="171.1" r="1.05"/><circle cx="848.5" cy="175.2" r="1.05"/><circle cx="850.9" cy="179.3" r="1.05"/><circle cx="853.4" cy="183.5" r="1.05"/><circle cx="855.8" cy="187.6" r="1.05"/><circle cx="858.3" cy="191.7" r="1.05"/><circle cx="860.7" cy="195.9" r="1.05"/><circle cx="863.2" cy="200" r="1.05"/><circle cx="865.6" cy="204.1" r="1.05"/><circle cx="868.1" cy="208.2" r="1.05"/><circle cx="870.5" cy="212.4" r="1.05"/><circle cx="870.6" cy="220.5" r="1.05"/><circle cx="868.3" cy="224.4" r="1.05"/><circle cx="865.9" cy="228.4" r="1.05"/><circle cx="863.5" cy="232.3" r="1.05"/><circle cx="861.1" cy="236.3" r="1.05"/><circle cx="858.8" cy="240.3" r="1.05"/><circle cx="856.4" cy="244.2" r="1.05"/><circle cx="854" cy="248.2" r="1.05"/><circle cx="851.6" cy="252.2" r="1.05"/><circle cx="849.3" cy="256.1" r="1.05"/><circle cx="846.9" cy="260.1" r="1.05"/><circle cx="844.5" cy="264" r="1.05"/><circle cx="842.2" cy="268" r="1.05"/><circle cx="839.8" cy="272" r="1.05"/><circle cx="837.4" cy="275.9" r="1.05"/><circle cx="835" cy="279.9" r="1.05"/><circle cx="832.7" cy="283.8" r="1.05"/><circle cx="825.5" cy="287.7" r="1.05"/><circle cx="820.7" cy="287.7" r="1.05"/><circle cx="815.8" cy="287.6" r="1.05"/><circle cx="811" cy="287.6" r="1.05"/><circle cx="806.2" cy="287.5" r="1.05"/><circle cx="801.4" cy="287.4" r="1.05"/><circle cx="796.6" cy="287.4" r="1.05"/><circle cx="791.8" cy="287.3" r="1.05"/><circle cx="787" cy="287.2" r="1.05"/><circle cx="782.1" cy="287.2" r="1.05"/><circle cx="777.3" cy="287.1" r="1.05"/><circle cx="772.5" cy="287.1" r="1.05"/><circle cx="767.7" cy="287" r="1.05"/><circle cx="762.9" cy="286.9" r="1.05"/><circle cx="758" cy="286.9" r="1.05"/><circle cx="753.2" cy="286.8" r="1.05"/><circle cx="748.4" cy="286.8" r="1.05"/><circle cx="741.1" cy="282.6" r="1.05"/><circle cx="738.6" cy="278.4" r="1.05"/><circle cx="736" cy="274.3" r="1.05"/><circle cx="733.5" cy="270.2" r="1.05"/><circle cx="731" cy="266.1" r="1.05"/><circle cx="728.5" cy="261.9" r="1.05"/><circle cx="726" cy="257.8" r="1.05"/><circle cx="723.5" cy="253.7" r="1.05"/><circle cx="720.9" cy="249.5" r="1.05"/><circle cx="718.4" cy="245.4" r="1.05"/><circle cx="715.9" cy="241.3" r="1.05"/><circle cx="713.4" cy="237.1" r="1.05"/><circle cx="710.9" cy="233" r="1.05"/><circle cx="708.4" cy="228.9" r="1.05"/><circle cx="705.8" cy="224.8" r="1.05"/><circle cx="703.3" cy="220.6" r="1.05"/><circle cx="703.2" cy="212.5" r="1.05"/><circle cx="705.6" cy="208.6" r="1.05"/><circle cx="707.9" cy="204.6" r="1.05"/><circle cx="710.3" cy="200.7" r="1.05"/><circle cx="712.7" cy="196.7" r="1.05"/><circle cx="715.1" cy="192.7" r="1.05"/><circle cx="717.4" cy="188.8" r="1.05"/><circle cx="719.8" cy="184.8" r="1.05"/><circle cx="722.2" cy="180.8" r="1.05"/><circle cx="724.6" cy="176.9" r="1.05"/><circle cx="727" cy="172.9" r="1.05"/><circle cx="729.3" cy="169" r="1.05"/><circle cx="731.7" cy="165" r="1.05"/><circle cx="734.1" cy="161" r="1.05"/><circle cx="736.5" cy="157.1" r="1.05"/><circle cx="738.8" cy="153.1" r="1.05"/><circle cx="741.2" cy="149.2" r="1.05"/><circle cx="706.3" cy="80.8" r="1.05"/><circle cx="708.7" cy="84.8" r="1.05"/><circle cx="711" cy="88.9" r="1.05"/><circle cx="713.3" cy="92.9" r="1.05"/><circle cx="715.6" cy="96.9" r="1.05"/><circle cx="718" cy="100.9" r="1.05"/><circle cx="720.3" cy="105" r="1.05"/><circle cx="722.6" cy="109" r="1.05"/><circle cx="725" cy="113" r="1.05"/><circle cx="727.3" cy="117" r="1.05"/><circle cx="729.6" cy="121.1" r="1.05"/><circle cx="732" cy="125.1" r="1.05"/><circle cx="734.3" cy="129.1" r="1.05"/><circle cx="736.6" cy="133.1" r="1.05"/><circle cx="738.9" cy="137.2" r="1.05"/><circle cx="741.3" cy="141.2" r="1.05"/><circle cx="868.2" cy="80.9" r="1.05"/><circle cx="865.9" cy="85" r="1.05"/><circle cx="863.6" cy="89.1" r="1.05"/><circle cx="861.3" cy="93.2" r="1.05"/><circle cx="859" cy="97.2" r="1.05"/><circle cx="856.7" cy="101.3" r="1.05"/><circle cx="854.4" cy="105.4" r="1.05"/><circle cx="852.1" cy="109.5" r="1.05"/><circle cx="849.7" cy="113.6" r="1.05"/><circle cx="847.4" cy="117.7" r="1.05"/><circle cx="845.1" cy="121.8" r="1.05"/><circle cx="842.8" cy="125.9" r="1.05"/><circle cx="840.5" cy="129.9" r="1.05"/><circle cx="838.2" cy="134" r="1.05"/><circle cx="835.9" cy="138.1" r="1.05"/><circle cx="833.6" cy="142.2" r="1.05"/><circle cx="621.7" cy="216.5" r="1.05"/><circle cx="626.3" cy="216.5" r="1.05"/><circle cx="631" cy="216.5" r="1.05"/><circle cx="635.6" cy="216.5" r="1.05"/><circle cx="640.3" cy="216.5" r="1.05"/><circle cx="644.9" cy="216.5" r="1.05"/><circle cx="649.6" cy="216.5" r="1.05"/><circle cx="654.2" cy="216.5" r="1.05"/><circle cx="658.9" cy="216.5" r="1.05"/><circle cx="663.6" cy="216.5" r="1.05"/><circle cx="668.2" cy="216.5" r="1.05"/><circle cx="672.9" cy="216.5" r="1.05"/><circle cx="677.5" cy="216.5" r="1.05"/><circle cx="682.2" cy="216.5" r="1.05"/><circle cx="686.8" cy="216.5" r="1.05"/><circle cx="691.5" cy="216.5" r="1.05"/><circle cx="696.1" cy="216.5" r="1.05"/><circle cx="877.7" cy="216.5" r="1.05"/><circle cx="882.3" cy="216.5" r="1.05"/><circle cx="887" cy="216.5" r="1.05"/><circle cx="891.7" cy="216.5" r="1.05"/><circle cx="896.3" cy="216.5" r="1.05"/><circle cx="901" cy="216.5" r="1.05"/><circle cx="905.7" cy="216.5" r="1.05"/><circle cx="910.3" cy="216.5" r="1.05"/><circle cx="915" cy="216.5" r="1.05"/><circle cx="919.7" cy="216.5" r="1.05"/><circle cx="924.3" cy="216.5" r="1.05"/><circle cx="929" cy="216.5" r="1.05"/><circle cx="933.7" cy="216.5" r="1.05"/><circle cx="938.3" cy="216.5" r="1.05"/><circle cx="943" cy="216.5" r="1.05"/><circle cx="947.7" cy="216.5" r="1.05"/><circle cx="952.3" cy="216.5" r="1.05"/><circle cx="741.2" cy="290.9" r="1.05"/><circle cx="738.7" cy="295.1" r="1.05"/><circle cx="736.3" cy="299.3" r="1.05"/><circle cx="733.8" cy="303.5" r="1.05"/><circle cx="731.4" cy="307.7" r="1.05"/><circle cx="728.9" cy="311.9" r="1.05"/><circle cx="726.5" cy="316.1" r="1.05"/><circle cx="724" cy="320.3" r="1.05"/><circle cx="721.6" cy="324.4" r="1.05"/><circle cx="719.1" cy="328.6" r="1.05"/><circle cx="716.7" cy="332.8" r="1.05"/><circle cx="714.2" cy="337" r="1.05"/><circle cx="711.8" cy="341.2" r="1.05"/><circle cx="709.3" cy="345.4" r="1.05"/><circle cx="706.9" cy="349.6" r="1.05"/><circle cx="704.4" cy="353.8" r="1.05"/><circle cx="832.8" cy="291.9" r="1.05"/><circle cx="835.2" cy="296.1" r="1.05"/><circle cx="837.7" cy="300.2" r="1.05"/><circle cx="840.1" cy="304.3" r="1.05"/><circle cx="842.6" cy="308.4" r="1.05"/><circle cx="845" cy="312.6" r="1.05"/><circle cx="847.5" cy="316.7" r="1.05"/><circle cx="849.9" cy="320.8" r="1.05"/><circle cx="852.4" cy="325" r="1.05"/><circle cx="854.8" cy="329.1" r="1.05"/><circle cx="857.3" cy="333.2" r="1.05"/><circle cx="859.7" cy="337.4" r="1.05"/><circle cx="862.2" cy="341.5" r="1.05"/><circle cx="864.6" cy="345.6" r="1.05"/><circle cx="867.1" cy="349.7" r="1.05"/><circle cx="869.5" cy="353.9" r="1.05"/></g>
<g fill="#fff"><ellipse cx="743.6" cy="145.2" rx="4" ry="4"/><ellipse cx="831.3" cy="146.3" rx="4.5" ry="3.6"/><ellipse cx="700.8" cy="216.5" rx="5" ry="4"/><ellipse cx="873" cy="216.5" rx="4" ry="4"/><ellipse cx="743.6" cy="286.7" rx="3.6" ry="4.5"/><ellipse cx="830.3" cy="287.8" rx="4" ry="4"/></g>
<text x="1.4" y="59.7" font-size="42" font-family="Liberation Sans, sans-serif" font-weight="bold" text-anchor="start" >a)</text>
<text x="507.9" y="59.8" font-size="42" font-family="Liberation Sans, sans-serif" font-weight="bold" text-anchor="start" >b)</text>
<text x="99.1" y="491" font-size="42" font-family="Liberation Sans, sans-serif" font-weight="bold" text-anchor="start" >c)</text>
<text x="102.4" y="901" font-size="42" font-family="Liberation Sans, sans-serif" font-weight="bold" text-anchor="start" >d)</text>
<text x="89.1" y="1329.5" font-size="42" font-family="Liberation Sans, sans-serif" font-weight="bold" text-anchor="start" >e)</text>
<rect x="338.3" y="733.3" width="3.8" height="7.7" rx="1.3" fill="#000"/>
<rect x="386.9" y="733.3" width="3.8" height="7.7" rx="1.3" fill="#000"/>
<rect x="435.5" y="733.3" width="3.8" height="7.7" rx="1.3" fill="#000"/>
<rect x="484.1" y="733.3" width="3.8" height="7.7" rx="1.3" fill="#000"/>
<rect x="532.7" y="733.3" width="3.8" height="7.7" rx="1.3" fill="#000"/>
<rect x="581.3" y="733.3" width="3.8" height="7.7" rx="1.3" fill="#000"/>
<rect x="629.9" y="733.3" width="3.8" height="7.7" rx="1.3" fill="#000"/>
<rect x="678.5" y="733.3" width="3.8" height="7.7" rx="1.3" fill="#000"/>
<rect x="727.1" y="733.3" width="3.8" height="7.7" rx="1.3" fill="#000"/>
<rect x="775.7" y="733.3" width="3.8" height="7.7" rx="1.3" fill="#000"/>
<rect x="824.3" y="733.3" width="3.8" height="7.7" rx="1.3" fill="#000"/>
<rect x="872.9" y="733.3" width="3.8" height="7.7" rx="1.3" fill="#000"/>
<text transform="translate(266.4,484.5) scale(0.95,1)" font-size="29.5" font-family="Liberation Sans, sans-serif" font-weight="bold" text-anchor="end">4000</text>
<text transform="translate(266.4,553.0) scale(0.95,1)" font-size="29.5" font-family="Liberation Sans, sans-serif" font-weight="bold" text-anchor="end">3000</text>
<text transform="translate(266.4,619.2) scale(0.95,1)" font-size="29.5" font-family="Liberation Sans, sans-serif" font-weight="bold" text-anchor="end">2000</text>
<text transform="translate(266.4,685.3) scale(0.95,1)" font-size="29.5" font-family="Liberation Sans, sans-serif" font-weight="bold" text-anchor="end">1000</text>
<text transform="translate(266.4,750.1) scale(0.95,1)" font-size="29.5" font-family="Liberation Sans, sans-serif" font-weight="bold" text-anchor="end">0</text>
<text transform="translate(293.1,783.0) scale(0.95,1)" font-size="29.5" font-family="Liberation Sans, sans-serif" font-weight="bold" text-anchor="middle">0</text>
<text transform="translate(341.7,783.0) scale(0.95,1)" font-size="29.5" font-family="Liberation Sans, sans-serif" font-weight="bold" text-anchor="middle">10</text>
<text transform="translate(390.2,783.0) scale(0.95,1)" font-size="29.5" font-family="Liberation Sans, sans-serif" font-weight="bold" text-anchor="middle">20</text>
<text transform="translate(438.8,783.0) scale(0.95,1)" font-size="29.5" font-family="Liberation Sans, sans-serif" font-weight="bold" text-anchor="middle">30</text>
<text transform="translate(487.4,783.0) scale(0.95,1)" font-size="29.5" font-family="Liberation Sans, sans-serif" font-weight="bold" text-anchor="middle">40</text>
<text transform="translate(536.0,783.0) scale(0.95,1)" font-size="29.5" font-family="Liberation Sans, sans-serif" font-weight="bold" text-anchor="middle">50</text>
<text transform="translate(584.5,783.0) scale(0.95,1)" font-size="29.5" font-family="Liberation Sans, sans-serif" font-weight="bold" text-anchor="middle">60</text>
<text transform="translate(633.1,783.0) scale(0.95,1)" font-size="29.5" font-family="Liberation Sans, sans-serif" font-weight="bold" text-anchor="middle">70</text>
<text transform="translate(681.7,783.0) scale(0.95,1)" font-size="29.5" font-family="Liberation Sans, sans-serif" font-weight="bold" text-anchor="middle">80</text>
<text transform="translate(730.2,783.0) scale(0.95,1)" font-size="29.5" font-family="Liberation Sans, sans-serif" font-weight="bold" text-anchor="middle">90</text>
<text transform="translate(778.8,783.0) scale(0.95,1)" font-size="29.5" font-family="Liberation Sans, sans-serif" font-weight="bold" text-anchor="middle">100</text>
<text transform="translate(827.4,783.0) scale(0.95,1)" font-size="29.5" font-family="Liberation Sans, sans-serif" font-weight="bold" text-anchor="middle">110</text>
<text transform="translate(875.9,783.0) scale(0.95,1)" font-size="29.5" font-family="Liberation Sans, sans-serif" font-weight="bold" text-anchor="middle">120</text>
<text transform="translate(179,741.6) rotate(-90)" x="0" y="0" font-size="30.5" font-family="Liberation Sans, sans-serif" font-weight="bold">Collagen agents</text>
<text x="472.1" y="811.9" font-size="30" font-family="Liberation Sans, sans-serif" font-weight="bold" text-anchor="start" >Simulation Step</text>
<line x1="500.8" y1="510.3" x2="547.4" y2="510.3" stroke="#1a52b4" stroke-width="4.8" stroke-linecap="round"/>
<line x1="500.8" y1="540.9" x2="547.4" y2="540.9" stroke="#e8600a" stroke-width="4.8" stroke-linecap="round"/>
<text x="573.8" y="520.1" font-size="25" font-family="Liberation Sans, sans-serif" font-weight="bold" text-anchor="start" textLength="168.5" lengthAdjust="spacing">Up to step 20</text>
<text x="573.8" y="549.0" font-size="25" font-family="Liberation Sans, sans-serif" font-weight="bold" text-anchor="start" textLength="168.5" lengthAdjust="spacing">Up to step 10</text>
<ellipse cx="295.6" cy="821.3" rx="8.4" ry="7.3" fill="#ed7d31"/>
<ellipse cx="295.6" cy="806.7" rx="8.4" ry="7.9" fill="#4470c8"/>
<ellipse cx="347.0" cy="821.3" rx="8.4" ry="7.3" fill="#ed7d31"/>
<ellipse cx="347.0" cy="806.7" rx="8.4" ry="7.9" fill="#4470c8"/>
<ellipse cx="395.2" cy="807.1" rx="7.2" ry="8.2" fill="#4470c8"/>
<rect x="335.4" y="1156.3" width="3.8" height="7.7" rx="1.3" fill="#000"/>
<rect x="385.0" y="1156.3" width="3.8" height="7.7" rx="1.3" fill="#000"/>
<rect x="434.6" y="1156.3" width="3.8" height="7.7" rx="1.3" fill="#000"/>
<rect x="484.2" y="1156.3" width="3.8" height="7.7" rx="1.3" fill="#000"/>
<rect x="533.8" y="1156.3" width="3.8" height="7.7" rx="1.3" fill="#000"/>
<rect x="583.4" y="1156.3" width="3.8" height="7.7" rx="1.3" fill="#000"/>
<rect x="633.0" y="1156.3" width="3.8" height="7.7" rx="1.3" fill="#000"/>
<rect x="682.6" y="1156.3" width="3.8" height="7.7" rx="1.3" fill="#000"/>
<rect x="732.2" y="1156.3" width="3.8" height="7.7" rx="1.3" fill="#000"/>
<rect x="781.8" y="1156.3" width="3.8" height="7.7" rx="1.3" fill="#000"/>
<rect x="831.4" y="1156.3" width="3.8" height="7.7" rx="1.3" fill="#000"/>
<rect x="881.0" y="1156.3" width="3.8" height="7.7" rx="1.3" fill="#000"/>
<text transform="translate(263.1,903.1) scale(0.95,1)" font-size="29.5" font-family="Liberation Sans, sans-serif" font-weight="bold" text-anchor="end">300</text>
<text transform="translate(263.1,994.8) scale(0.95,1)" font-size="29.5" font-family="Liberation Sans, sans-serif" font-weight="bold" text-anchor="end">200</text>
<text transform="translate(263.1,1085.1) scale(0.95,1)" font-size="29.5" font-family="Liberation Sans, sans-serif" font-weight="bold" text-anchor="end">100</text>
<text transform="translate(263.1,1172.8) scale(0.95,1)" font-size="29.5" font-family="Liberation Sans, sans-serif" font-weight="bold" text-anchor="end">0</text>
<text transform="translate(291.4,1206.7) scale(0.95,1)" font-size="29.5" font-family="Liberation Sans, sans-serif" font-weight="bold" text-anchor="middle">0</text>
<text transform="translate(341.0,1206.7) scale(0.95,1)" font-size="29.5" font-family="Liberation Sans, sans-serif" font-weight="bold" text-anchor="middle">10</text>
<text transform="translate(390.6,1206.7) scale(0.95,1)" font-size="29.5" font-family="Liberation Sans, sans-serif" font-weight="bold" text-anchor="middle">20</text>
<text transform="translate(440.1,1206.7) scale(0.95,1)" font-size="29.5" font-family="Liberation Sans, sans-serif" font-weight="bold" text-anchor="middle">30</text>
<text transform="translate(489.7,1206.7) scale(0.95,1)" font-size="29.5" font-family="Liberation Sans, sans-serif" font-weight="bold" text-anchor="middle">40</text>
<text transform="translate(539.3,1206.7) scale(0.95,1)" font-size="29.5" font-family="Liberation Sans, sans-serif" font-weight="bold" text-anchor="middle">50</text>
<text transform="translate(588.9,1206.7) scale(0.95,1)" font-size="29.5" font-family="Liberation Sans, sans-serif" font-weight="bold" text-anchor="middle">60</text>
<text transform="translate(638.5,1206.7) scale(0.95,1)" font-size="29.5" font-family="Liberation Sans, sans-serif" font-weight="bold" text-anchor="middle">70</text>
<text transform="translate(688.0,1206.7) scale(0.95,1)" font-size="29.5" font-family="Liberation Sans, sans-serif" font-weight="bold" text-anchor="middle">80</text>
<text transform="translate(737.6,1206.7) scale(0.95,1)" font-size="29.5" font-family="Liberation Sans, sans-serif" font-weight="bold" text-anchor="middle">90</text>
<text transform="translate(787.2,1206.7) scale(0.95,1)" font-size="29.5" font-family="Liberation Sans, sans-serif" font-weight="bold" text-anchor="middle">100</text>
<text transform="translate(836.8,1206.7) scale(0.95,1)" font-size="29.5" font-family="Liberation Sans, sans-serif" font-weight="bold" text-anchor="middle">110</text>
<text transform="translate(886.4,1206.7) scale(0.95,1)" font-size="29.5" font-family="Liberation Sans, sans-serif" font-weight="bold" text-anchor="middle">120</text>
<text transform="translate(195.8,1121.9) rotate(-90)" x="0" y="0" font-size="30.4" font-family="Liberation Sans, sans-serif" font-weight="bold">Dead cells</text>
<text x="477.8" y="1248.2" font-size="30" font-family="Liberation Sans, sans-serif" font-weight="bold" text-anchor="start" >Simulation step</text>
<line x1="538.9" y1="926.3" x2="582.0" y2="926.3" stroke="#1a52b4" stroke-width="4.8" stroke-linecap="round"/>
<line x1="538.9" y1="958.7" x2="582.0" y2="958.7" stroke="#e8600a" stroke-width="4.8" stroke-linecap="round"/>
<text x="604.2" y="935.6" font-size="25" font-family="Liberation Sans, sans-serif" font-weight="bold" text-anchor="start" textLength="168.5" lengthAdjust="spacing">Up to step 20</text>
<text x="604.2" y="967.2" font-size="25" font-family="Liberation Sans, sans-serif" font-weight="bold" text-anchor="start" textLength="168.5" lengthAdjust="spacing">Up to step 10</text>
<ellipse cx="295.6" cy="1243.3" rx="8.4" ry="7.3" fill="#ed7d31"/>
<ellipse cx="295.6" cy="1227.5" rx="8.4" ry="7.9" fill="#4470c8"/>
<ellipse cx="347.0" cy="1243.3" rx="8.4" ry="7.3" fill="#ed7d31"/>
<ellipse cx="347.0" cy="1227.5" rx="8.4" ry="7.9" fill="#4470c8"/>
<ellipse cx="395.2" cy="1227.9" rx="7.2" ry="8.2" fill="#4470c8"/>
<rect x="335.6" y="1584.5" width="3.8" height="9.5" rx="1.3" fill="#000"/>
<rect x="385.0" y="1584.5" width="3.8" height="9.5" rx="1.3" fill="#000"/>
<rect x="434.4" y="1584.5" width="3.8" height="9.5" rx="1.3" fill="#000"/>
<rect x="483.8" y="1584.5" width="3.8" height="9.5" rx="1.3" fill="#000"/>
<rect x="533.2" y="1584.5" width="3.8" height="9.5" rx="1.3" fill="#000"/>
<rect x="582.6" y="1584.5" width="3.8" height="9.5" rx="1.3" fill="#000"/>
<rect x="632.0" y="1584.5" width="3.8" height="9.5" rx="1.3" fill="#000"/>
<rect x="681.4" y="1584.5" width="3.8" height="9.5" rx="1.3" fill="#000"/>
<rect x="730.8" y="1584.5" width="3.8" height="9.5" rx="1.3" fill="#000"/>
<rect x="780.2" y="1584.5" width="3.8" height="9.5" rx="1.3" fill="#000"/>
<rect x="829.6" y="1584.5" width="3.8" height="9.5" rx="1.3" fill="#000"/>
<rect x="879.0" y="1584.5" width="3.8" height="9.5" rx="1.3" fill="#000"/>
<text transform="translate(263.1,1332.4) scale(0.95,1)" font-size="29.5" font-family="Liberation Sans, sans-serif" font-weight="bold" text-anchor="end">1500</text>
<text transform="translate(263.1,1421.6) scale(0.95,1)" font-size="29.5" font-family="Liberation Sans, sans-serif" font-weight="bold" text-anchor="end">1000</text>
<text transform="translate(263.1,1512.8) scale(0.95,1)" font-size="29.5" font-family="Liberation Sans, sans-serif" font-weight="bold" text-anchor="end">500</text>
<text transform="translate(263.1,1602.0) scale(0.95,1)" font-size="29.5" font-family="Liberation Sans, sans-serif" font-weight="bold" text-anchor="end">0</text>
<text transform="translate(291.4,1634.6) scale(0.95,1)" font-size="29.5" font-family="Liberation Sans, sans-serif" font-weight="bold" text-anchor="middle">0</text>
<text transform="translate(340.8,1634.6) scale(0.95,1)" font-size="29.5" font-family="Liberation Sans, sans-serif" font-weight="bold" text-anchor="middle">10</text>
<text transform="translate(390.2,1634.6) scale(0.95,1)" font-size="29.5" font-family="Liberation Sans, sans-serif" font-weight="bold" text-anchor="middle">20</text>
<text transform="translate(439.6,1634.6) scale(0.95,1)" font-size="29.5" font-family="Liberation Sans, sans-serif" font-weight="bold" text-anchor="middle">30</text>
<text transform="translate(489.0,1634.6) scale(0.95,1)" font-size="29.5" font-family="Liberation Sans, sans-serif" font-weight="bold" text-anchor="middle">40</text>
<text transform="translate(538.4,1634.6) scale(0.95,1)" font-size="29.5" font-family="Liberation Sans, sans-serif" font-weight="bold" text-anchor="middle">50</text>
<text transform="translate(587.8,1634.6) scale(0.95,1)" font-size="29.5" font-family="Liberation Sans, sans-serif" font-weight="bold" text-anchor="middle">60</text>
<text transform="translate(637.2,1634.6) scale(0.95,1)" font-size="29.5" font-family="Liberation Sans, sans-serif" font-weight="bold" text-anchor="middle">70</text>
<text transform="translate(686.6,1634.6) scale(0.95,1)" font-size="29.5" font-family="Liberation Sans, sans-serif" font-weight="bold" text-anchor="middle">80</text>
<text transform="translate(736.0,1634.6) scale(0.95,1)" font-size="29.5" font-family="Liberation Sans, sans-serif" font-weight="bold" text-anchor="middle">90</text>
<text transform="translate(785.4,1634.6) scale(0.95,1)" font-size="29.5" font-family="Liberation Sans, sans-serif" font-weight="bold" text-anchor="middle">100</text>
<text transform="translate(834.8,1634.6) scale(0.95,1)" font-size="29.5" font-family="Liberation Sans, sans-serif" font-weight="bold" text-anchor="middle">110</text>
<text transform="translate(884.2,1634.6) scale(0.95,1)" font-size="29.5" font-family="Liberation Sans, sans-serif" font-weight="bold" text-anchor="middle">120</text>
<text transform="translate(196.3,1542.6) rotate(-90)" x="0" y="0" font-size="29.8" font-family="Liberation Sans, sans-serif" font-weight="bold">TNF-α</text>
<text x="476.1" y="1677.4" font-size="30" font-family="Liberation Sans, sans-serif" font-weight="bold" text-anchor="start" >Simulation step</text>
<line x1="525.7" y1="1361.5" x2="570.9" y2="1361.5" stroke="#1a52b4" stroke-width="4.8" stroke-linecap="round"/>
<line x1="525.7" y1="1393.7" x2="570.9" y2="1393.7" stroke="#e8600a" stroke-width="4.8" stroke-linecap="round"/>
<text x="591.3" y="1371.1" font-size="25" font-family="Liberation Sans, sans-serif" font-weight="bold" text-anchor="start" textLength="168.5" lengthAdjust="spacing">Up to step 20</text>
<text x="591.3" y="1401.7" font-size="25" font-family="Liberation Sans, sans-serif" font-weight="bold" text-anchor="start" textLength="168.5" lengthAdjust="spacing">Up to step 10</text>
<ellipse cx="295.6" cy="1669.0" rx="8.4" ry="7.3" fill="#ed7d31"/>
<ellipse cx="295.6" cy="1653.5" rx="8.4" ry="7.9" fill="#4470c8"/>
<ellipse cx="347.0" cy="1669.0" rx="8.4" ry="7.3" fill="#ed7d31"/>
<ellipse cx="347.0" cy="1653.5" rx="8.4" ry="7.9" fill="#4470c8"/>
<ellipse cx="395.2" cy="1653.9" rx="7.2" ry="8.2" fill="#4470c8"/>
<polyline points="293.1,739.8 405.0,739.5 412.8,737.3 420.7,735.7 428.7,733.3 439.9,733.3 446.3,731.7 451.0,731.7 459.0,728.0 463.8,729.0 472.6,722.6 479.8,723.3 487.7,719.0 492.5,719.8 498.1,714.7 503.7,715.8 514.9,711.0 518.8,710.2 527.6,701.4 535.6,695.8 543.6,688.7 551.5,684.5 563.6,676.6 571.2,669.0 575.4,669.8 590.7,659.7 594.1,660.5 600.0,656.3 605.1,657.1 609.3,652.9 614.4,652.0 619.5,645.3 628.0,639.3 633.9,640.2 638.1,637.6 646.6,634.6 653.4,631.2 659.3,632.2 671.2,626.1 677.1,627.1 683.9,623.2 692.4,620.3 704.2,612.2 712.7,610.2 717.2,610.8 729.7,605.4 741.4,601.4 746.8,601.8 760.3,595.5 772.8,593.2 785.4,589.2 789.9,590.1 797.9,587.4 803.3,582.9 813.2,579.4 818.6,574.5 832.0,568.6 848.2,562.3 859.0,558.7 876.9,551.9" fill="none" stroke="#2c5fc4" stroke-width="4.5" stroke-linejoin="round" stroke-linecap="round"/>
<polyline points="292.5,739.4 878.0,739.4" fill="none" stroke="#ef7a22" stroke-width="4.2" stroke-linejoin="round" stroke-linecap="round"/>
<polyline points="289.8,1162.7 295.5,1150.0 299.5,1153.0 304.1,1153.9 310.5,1155.5 321.7,1162.7 339.2,1162.7 347.2,1153.1 353.6,1155.5 361.6,1158.7 374.3,1161.1 388.7,1162.7 393.5,1156.3 399.5,1084.2 400.7,1105.2 402.3,1082.8 404.4,1105.9 409.3,991.4 414.9,991.4 419.1,979.5 424.0,981.6 428.2,983.0 433.7,1004.7 439.3,1009.6 443.5,1028.4 448.4,1025.6 452.6,1031.2 458.9,1043.0 463.8,1035.4 468.6,1024.9 474.9,1027.0 483.3,1053.5 489.6,1054.2 493.0,1037.5 499.3,1043.0 502.8,1023.5 507.7,1027.0 513.4,1008.5 517.7,1001.9 528.1,1006.1 533.7,1006.8 538.6,992.8 542.8,1003.3 547.7,1038.9 554.0,1041.0 557.5,1023.5 563.7,1015.8 571.4,1032.6 578.4,1041.0 582.6,1048.6 588.2,1044.5 591.7,1061.2 597.9,1057.7 604.9,1045.8 612.6,1061.9 618.2,1057.7 623.1,1081.4 628.0,1091.9 632.1,1086.3 640.5,1097.5 643.5,1098.2 647.0,1090.5 652.6,1088.4 656.8,1080.0 661.6,1090.5 667.2,1101.0 671.4,1102.3 677.7,1109.3 681.9,1105.8 686.8,1091.9 692.3,1112.8 701.4,1109.3 708.4,1106.5 716.1,1107.0 721.0,1122.6 727.2,1112.1 732.1,1112.8 737.0,1118.4 744.0,1114.2 751.7,1124.7 756.6,1118.4 760.7,1128.9 767.0,1119.8 772.0,1120.5 776.0,1122.0 781.4,1126.8 785.6,1122.0 790.9,1124.4 795.1,1116.1 799.9,1128.0 808.3,1128.0 811.9,1125.6 825.0,1099.3 831.0,1105.9 834.6,1097.5 840.6,1105.9 846.6,1096.9 850.2,1099.9 855.5,1094.5 859.7,1101.7 864.5,1101.1 874.1,1105.3 885.5,1105.3" fill="none" stroke="#2c5fc4" stroke-width="4.5" stroke-linejoin="round" stroke-linecap="round"/>
<polyline points="289.8,1162.7 295.4,1146.0 299.4,1156.3 305.7,1158.7 313.7,1157.9 331.3,1158.7 338.4,1160.3 344.8,1146.0 350.4,1149.1 355.2,1147.9 360.0,1150.7 368.0,1154.7 373.5,1155.5 382.3,1159.5 412.6,1159.5 417.4,1161.9 428.6,1161.9 445.0,1162.6 886.0,1162.6" fill="none" stroke="#ef7a22" stroke-width="4.5" stroke-linejoin="round" stroke-linecap="round"/>
<polyline points="291.4,1592.5 397.0,1592.5 397.8,1589.0 404.2,1376.4 406.3,1395.6 409.2,1428.3 413.4,1429.7 417.0,1439.7 419.8,1445.4 422.0,1462.4 427.0,1473.8 434.1,1489.5 436.9,1509.4 442.6,1519.3 449.7,1527.9 456.8,1530.7 462.5,1532.9 471.0,1526.5 478.2,1522.2 483.9,1522.9 488.1,1518.6 493.8,1517.2 502.3,1509.4 508.0,1507.5 523.3,1498.4 528.0,1500.5 532.7,1498.0 537.5,1502.7 543.2,1498.0 548.8,1499.9 553.6,1504.2 557.4,1503.7 566.8,1508.0 576.3,1514.1 581.0,1513.5 589.6,1516.9 597.1,1519.8 601.9,1516.9 606.6,1518.8 610.4,1518.8 617.0,1521.7 621.8,1519.4 627.4,1524.5 635.0,1525.5 640.7,1527.4 655.9,1526.4 663.4,1530.2 671.0,1530.2 680.5,1535.5 686.2,1532.1 691.9,1533.0 700.0,1534.9 707.9,1531.9 719.9,1531.9 724.9,1534.9 731.9,1531.9 739.9,1532.3 745.8,1534.9 763.8,1534.9 769.8,1536.9 783.7,1536.9 789.7,1539.3 796.7,1535.9 809.6,1540.9 815.6,1537.9 849.5,1537.9 855.5,1535.9 864.5,1536.3 873.4,1524.9 879.4,1524.9 885.4,1522.9" fill="none" stroke="#2c5fc4" stroke-width="4.5" stroke-linejoin="round" stroke-linecap="round"/>
<polyline points="288.5,1592.5 885.0,1592.5" fill="none" stroke="#ef7a22" stroke-width="4.2" stroke-linejoin="round" stroke-linecap="round"/>
<rect x="291.1" y="477.2" width="588.6" height="265.0" fill="none" stroke="#000" stroke-width="3.4"/>
<rect x="287.2" y="895.2" width="600.0" height="269.8" fill="none" stroke="#000" stroke-width="3.4"/>
<rect x="287.0" y="1325.0" width="598.4" height="270.3" fill="none" stroke="#000" stroke-width="3.4"/>
</svg>
</body></html>
